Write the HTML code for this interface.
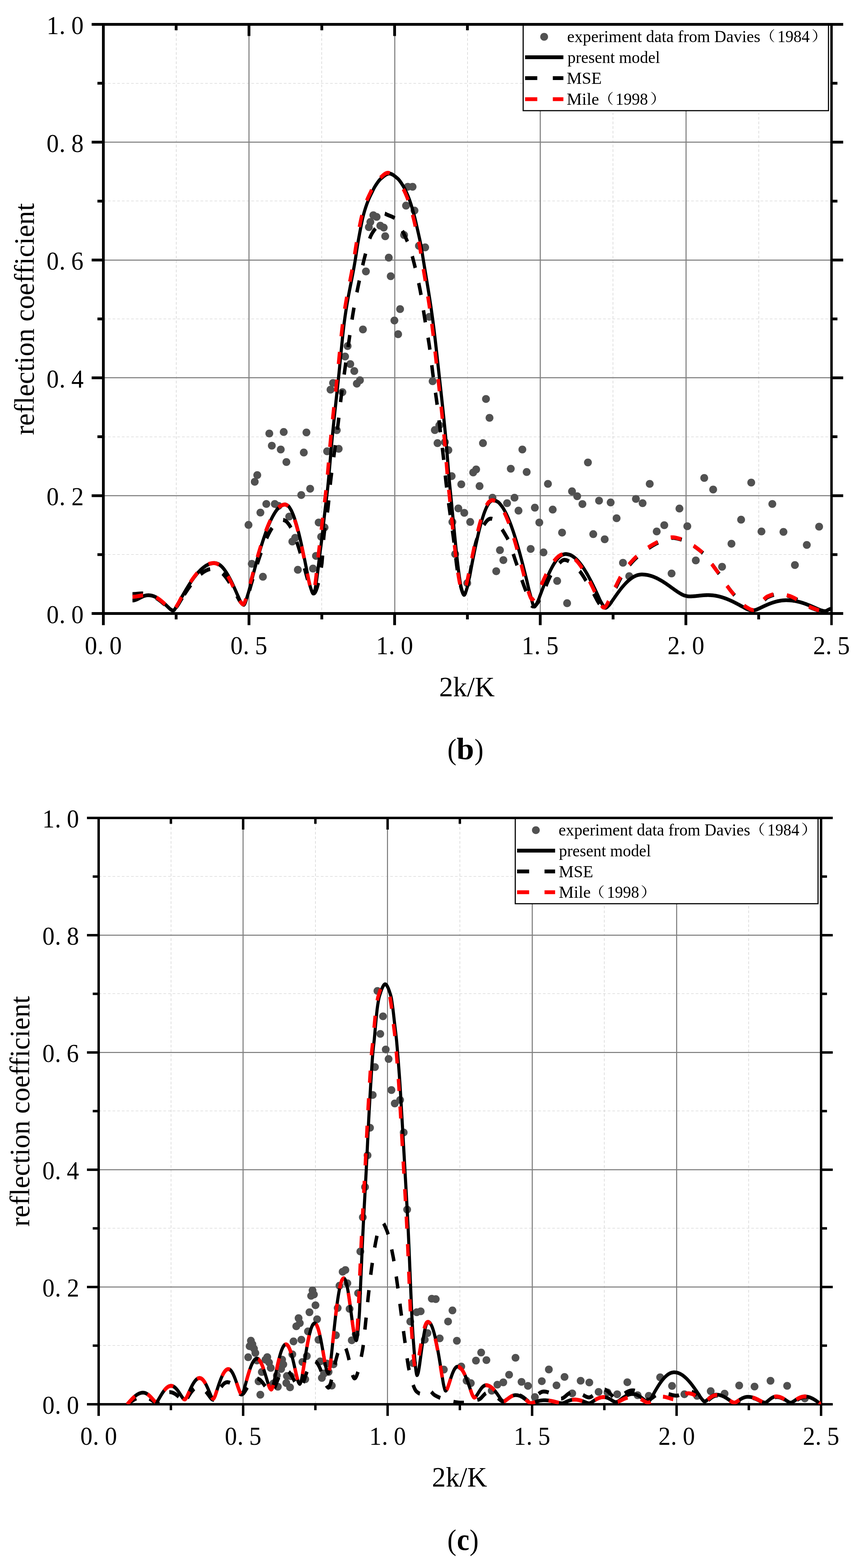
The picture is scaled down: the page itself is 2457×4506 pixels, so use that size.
<!DOCTYPE html>
<html lang="en">
<head>
<meta charset="utf-8">
<title>Reflection coefficient versus 2k/K</title>
<style>
html,body{margin:0;padding:0;background:#fff;}
body{width:2457px;height:4506px;overflow:hidden;}
svg{display:block;}
svg text{font-family:"Liberation Serif","Noto Serif CJK SC",serif;fill:#000;}
</style>
</head>
<body>
<svg width="2457" height="4506" viewBox="0 0 2457 4506">
<rect width="2457" height="4506" fill="#fff"/>
<g id="panel-b">
<clipPath id="cb"><rect x="297.0" y="70.0" width="2092.5" height="1693.0"/></clipPath>
<path d="M506.5 70.0V1763.0M924.5 70.0V1763.0M1343.5 70.0V1763.0M1761.5 70.0V1763.0M2180.5 70.0V1763.0M297.0 1593.5H2389.5M297.0 1255.5H2389.5M297.0 916.5H2389.5M297.0 577.5H2389.5M297.0 239.5H2389.5" stroke="#c3c3c3" stroke-width="1.2" stroke-dasharray="7.6 5.7" fill="none"/>
<path d="M715.5 70.0V1763.0M1134.5 70.0V1763.0M1552.5 70.0V1763.0M1971.5 70.0V1763.0M297.0 1424.5H2389.5M297.0 1085.5H2389.5M297.0 747.5H2389.5M297.0 408.5H2389.5" stroke="#808080" stroke-width="3" fill="none"/>
<g fill="#515151"><circle cx="823.0" cy="1327.8" r="11.3"/><circle cx="739.3" cy="1365.3" r="11.3"/><circle cx="732.0" cy="1384.6" r="11.3"/><circle cx="891.3" cy="1404.6" r="11.3"/><circle cx="865.7" cy="1422.6" r="11.3"/><circle cx="765.3" cy="1448.2" r="11.3"/><circle cx="789.7" cy="1448.2" r="11.3"/><circle cx="800.4" cy="1453.7" r="11.3"/><circle cx="748.3" cy="1473.0" r="11.3"/><circle cx="714.1" cy="1508.4" r="11.3"/><circle cx="831.1" cy="1484.5" r="11.3"/><circle cx="915.7" cy="1501.6" r="11.3"/><circle cx="932.7" cy="1515.7" r="11.3"/><circle cx="848.2" cy="1545.5" r="11.3"/><circle cx="840.1" cy="1556.2" r="11.3"/><circle cx="922.9" cy="1542.6" r="11.3"/><circle cx="908.0" cy="1597.6" r="11.3"/><circle cx="723.5" cy="1620.3" r="11.3"/><circle cx="855.9" cy="1637.4" r="11.3"/><circle cx="899.4" cy="1633.9" r="11.3"/><circle cx="755.5" cy="1657.4" r="11.3"/><circle cx="1149.7" cy="888.3" r="11.3"/><circle cx="1133.4" cy="921.1" r="11.3"/><circle cx="1233.8" cy="910.5" r="11.3"/><circle cx="1042.9" cy="946.8" r="11.3"/><circle cx="1144.1" cy="960.4" r="11.3"/><circle cx="998.9" cy="994.6" r="11.3"/><circle cx="991.7" cy="1024.5" r="11.3"/><circle cx="1006.6" cy="1046.3" r="11.3"/><circle cx="1018.1" cy="1066.3" r="11.3"/><circle cx="1034.4" cy="1092.8" r="11.3"/><circle cx="1025.4" cy="1102.6" r="11.3"/><circle cx="957.1" cy="1100.5" r="11.3"/><circle cx="949.8" cy="1119.7" r="11.3"/><circle cx="984.0" cy="1127.0" r="11.3"/><circle cx="1243.2" cy="1095.4" r="11.3"/><circle cx="773.9" cy="1245.7" r="11.3"/><circle cx="815.3" cy="1241.4" r="11.3"/><circle cx="880.6" cy="1242.7" r="11.3"/><circle cx="967.8" cy="1236.3" r="11.3"/><circle cx="781.1" cy="1280.7" r="11.3"/><circle cx="806.8" cy="1291.8" r="11.3"/><circle cx="873.0" cy="1300.4" r="11.3"/><circle cx="940.0" cy="1296.9" r="11.3"/><circle cx="973.3" cy="1289.7" r="11.3"/><circle cx="1262.4" cy="1222.2" r="11.3"/><circle cx="1249.6" cy="1235.9" r="11.3"/><circle cx="1257.3" cy="1273.4" r="11.3"/><circle cx="1278.6" cy="1270.5" r="11.3"/><circle cx="1288.5" cy="1293.5" r="11.3"/><circle cx="1171.9" cy="536.7" r="11.3"/><circle cx="1185.6" cy="536.7" r="11.3"/><circle cx="1166.8" cy="590.9" r="11.3"/><circle cx="1191.1" cy="605.0" r="11.3"/><circle cx="1072.8" cy="618.6" r="11.3"/><circle cx="1082.2" cy="623.3" r="11.3"/><circle cx="1064.3" cy="637.9" r="11.3"/><circle cx="1060.0" cy="652.8" r="11.3"/><circle cx="1092.9" cy="648.5" r="11.3"/><circle cx="1102.7" cy="654.1" r="11.3"/><circle cx="1107.0" cy="678.9" r="11.3"/><circle cx="1161.2" cy="675.4" r="11.3"/><circle cx="1203.9" cy="706.6" r="11.3"/><circle cx="1221.8" cy="710.9" r="11.3"/><circle cx="1117.2" cy="740.4" r="11.3"/><circle cx="1051.5" cy="780.1" r="11.3"/><circle cx="1122.8" cy="793.7" r="11.3"/><circle cx="1689.5" cy="1329.0" r="11.3"/><circle cx="1368.3" cy="1349.1" r="11.3"/><circle cx="1359.8" cy="1357.7" r="11.3"/><circle cx="1467.8" cy="1347.0" r="11.3"/><circle cx="1513.5" cy="1356.4" r="11.3"/><circle cx="1297.9" cy="1368.3" r="11.3"/><circle cx="1325.6" cy="1391.8" r="11.3"/><circle cx="1378.1" cy="1396.9" r="11.3"/><circle cx="1574.6" cy="1390.5" r="11.3"/><circle cx="1867.1" cy="1390.5" r="11.3"/><circle cx="1643.8" cy="1411.9" r="11.3"/><circle cx="1658.7" cy="1426.0" r="11.3"/><circle cx="1415.3" cy="1430.2" r="11.3"/><circle cx="1478.5" cy="1430.2" r="11.3"/><circle cx="1457.2" cy="1446.0" r="11.3"/><circle cx="1673.7" cy="1448.6" r="11.3"/><circle cx="1721.5" cy="1438.8" r="11.3"/><circle cx="1754.8" cy="1443.9" r="11.3"/><circle cx="1827.4" cy="1433.7" r="11.3"/><circle cx="1846.6" cy="1446.0" r="11.3"/><circle cx="1317.1" cy="1461.0" r="11.3"/><circle cx="1334.2" cy="1473.8" r="11.3"/><circle cx="1490.0" cy="1467.4" r="11.3"/><circle cx="1537.0" cy="1458.9" r="11.3"/><circle cx="1588.3" cy="1464.4" r="11.3"/><circle cx="1771.9" cy="1489.2" r="11.3"/><circle cx="1351.2" cy="1499.9" r="11.3"/><circle cx="1300.0" cy="1500.0" r="11.3"/><circle cx="1549.8" cy="1501.6" r="11.3"/><circle cx="1615.2" cy="1530.6" r="11.3"/><circle cx="1704.8" cy="1534.9" r="11.3"/><circle cx="1737.7" cy="1549.8" r="11.3"/><circle cx="1887.2" cy="1527.2" r="11.3"/><circle cx="1436.7" cy="1581.0" r="11.3"/><circle cx="1525.0" cy="1577.6" r="11.3"/><circle cx="1561.8" cy="1587.4" r="11.3"/><circle cx="1308.0" cy="1592.3" r="11.3"/><circle cx="1446.5" cy="1609.6" r="11.3"/><circle cx="1790.2" cy="1617.3" r="11.3"/><circle cx="1426.0" cy="1641.6" r="11.3"/><circle cx="1601.1" cy="1669.4" r="11.3"/><circle cx="1342.7" cy="1675.8" r="11.3"/><circle cx="1808.2" cy="1655.7" r="11.3"/><circle cx="1629.7" cy="1733.4" r="11.3"/><circle cx="1396.5" cy="1146.6" r="11.3"/><circle cx="1406.7" cy="1200.8" r="11.3"/><circle cx="1387.9" cy="1273.4" r="11.3"/><circle cx="1501.1" cy="1291.8" r="11.3"/><circle cx="2023.8" cy="1373.5" r="11.3"/><circle cx="2049.4" cy="1406.8" r="11.3"/><circle cx="2158.8" cy="1386.7" r="11.3"/><circle cx="1952.5" cy="1461.4" r="11.3"/><circle cx="2219.4" cy="1448.2" r="11.3"/><circle cx="2129.7" cy="1493.4" r="11.3"/><circle cx="1908.9" cy="1509.2" r="11.3"/><circle cx="1975.1" cy="1512.2" r="11.3"/><circle cx="2188.2" cy="1527.2" r="11.3"/><circle cx="2251.4" cy="1528.5" r="11.3"/><circle cx="2353.9" cy="1513.5" r="11.3"/><circle cx="2102.0" cy="1562.6" r="11.3"/><circle cx="2318.5" cy="1566.0" r="11.3"/><circle cx="1999.5" cy="1610.5" r="11.3"/><circle cx="2075.0" cy="1628.8" r="11.3"/><circle cx="2284.3" cy="1623.7" r="11.3"/><circle cx="1929.9" cy="1648.0" r="11.3"/></g>
<path d="M263.4 1763.0H2423.1M297.0 70.0V1796.6M280.0 1593.7H297.0M2389.5 1593.7H2406.5M263.4 1424.4H297.0M2389.5 1424.4H2423.1M280.0 1255.1H297.0M2389.5 1255.1H2406.5M263.4 1085.8H297.0M2389.5 1085.8H2423.1M280.0 916.5H297.0M2389.5 916.5H2406.5M263.4 747.2H297.0M2389.5 747.2H2423.1M280.0 577.9H297.0M2389.5 577.9H2406.5M263.4 408.6H297.0M2389.5 408.6H2423.1M280.0 239.3H297.0M2389.5 239.3H2406.5M506.2 1763.0V1780.0M506.2 70.0V87.0M715.5 1763.0V1796.6M715.5 70.0V103.6M924.8 1763.0V1780.0M924.8 70.0V87.0M1134.0 1763.0V1796.6M1134.0 70.0V103.6M1343.2 1763.0V1780.0M1343.2 70.0V87.0M1552.5 1763.0V1796.6M1552.5 70.0V103.6M1761.8 1763.0V1780.0M1761.8 70.0V87.0M1971.0 1763.0V1796.6M1971.0 70.0V103.6M2180.2 1763.0V1780.0M2180.2 70.0V87.0" stroke="#000" stroke-width="8.0" fill="none"/>
<path d="M2389.5 70.0V1796.6" stroke="#000" stroke-width="7" fill="none"/>
<g clip-path="url(#cb)" fill="none" stroke-linejoin="round">
<path transform="scale(0.84,1)" d="M453.21 1725.75 454.81 1725.70 456.40 1725.56 458.00 1725.39 459.60 1725.16 461.19 1724.82 462.79 1724.40 464.38 1723.95 465.98 1723.45 467.57 1722.88 469.17 1722.27 470.76 1721.65 472.36 1720.99 473.95 1720.30 475.55 1719.61 477.14 1718.91 478.74 1718.20 480.34 1717.51 481.93 1716.82 483.53 1716.15 485.12 1715.49 486.72 1714.87 488.31 1714.27 489.91 1713.71 491.50 1713.19 493.10 1712.70 494.69 1712.25 496.29 1711.86 497.88 1711.52 499.48 1711.20 501.07 1710.95 502.67 1710.79 504.27 1710.66 505.86 1710.56 507.46 1710.52 509.05 1710.55 510.65 1710.63 512.24 1710.76 513.84 1710.91 515.43 1711.08 517.03 1711.28 518.62 1711.56 520.22 1711.90 521.81 1712.30 523.41 1712.72 525.01 1713.17 526.60 1713.66 528.20 1714.21 529.79 1714.80 531.39 1715.43 532.98 1716.09 534.58 1716.78 536.17 1717.53 537.77 1718.32 539.36 1719.14 540.96 1719.99 542.55 1720.87 544.15 1721.79 545.74 1722.75 547.34 1723.75 548.94 1724.77 550.53 1725.81 552.13 1726.89 553.72 1728.00 555.32 1729.14 556.91 1730.30 558.51 1731.48 560.10 1732.68 561.70 1733.91 563.29 1735.16 564.89 1736.43 566.48 1737.70 568.08 1738.97 569.67 1740.28 571.27 1741.59 572.87 1742.90 574.46 1744.19 576.06 1745.45 577.65 1746.77 579.25 1748.09 580.84 1749.35 582.44 1750.47 584.03 1751.38 585.63 1752.22 587.22 1753.05 588.82 1753.76 590.41 1754.29 592.01 1754.53 593.61 1754.31 595.20 1753.45 596.80 1752.06 598.39 1750.26 599.99 1748.16 601.58 1745.87 603.18 1743.51 604.77 1741.18 606.37 1739.01 607.96 1736.91 609.56 1734.66 611.15 1732.30 612.75 1729.86 614.34 1727.36 615.94 1724.84 617.54 1722.33 619.13 1719.86 620.73 1717.45 622.32 1715.09 623.92 1712.72 625.51 1710.36 627.11 1708.01 628.70 1705.66 630.30 1703.34 631.89 1701.03 633.49 1698.75 635.08 1696.49 636.68 1694.26 638.27 1692.03 639.87 1689.82 641.47 1687.63 643.06 1685.47 644.66 1683.32 646.25 1681.21 647.85 1679.12 649.44 1677.07 651.04 1675.04 652.63 1673.03 654.23 1671.04 655.82 1669.08 657.42 1667.14 659.01 1665.24 660.61 1663.37 662.21 1661.54 663.80 1659.75 665.40 1657.98 666.99 1656.24 668.59 1654.53 670.18 1652.84 671.78 1651.19 673.37 1649.58 674.97 1648.01 676.56 1646.48 678.16 1645.00 679.75 1643.54 681.35 1642.11 682.94 1640.72 684.54 1639.35 686.14 1638.03 687.73 1636.74 689.33 1635.51 690.92 1634.33 692.52 1633.20 694.11 1632.10 695.71 1631.01 697.30 1629.96 698.90 1628.95 700.49 1627.98 702.09 1627.06 703.68 1626.20 705.28 1625.41 706.87 1624.66 708.47 1623.93 710.07 1623.22 711.66 1622.53 713.26 1621.88 714.85 1621.29 716.45 1620.76 718.04 1620.30 719.64 1619.93 721.23 1619.63 722.83 1619.34 724.42 1619.06 726.02 1618.80 727.61 1618.57 729.21 1618.37 730.81 1618.22 732.40 1618.12 734.00 1618.08 735.59 1618.13 737.19 1618.29 738.78 1618.54 740.38 1618.87 741.97 1619.25 743.57 1619.65 745.16 1620.11 746.76 1620.72 748.35 1621.48 749.95 1622.36 751.54 1623.31 753.14 1624.32 754.74 1625.35 756.33 1626.49 757.93 1627.75 759.52 1629.11 761.12 1630.54 762.71 1632.04 764.31 1633.58 765.90 1635.21 767.50 1636.94 769.09 1638.76 770.69 1640.65 772.28 1642.61 773.88 1644.61 775.47 1646.68 777.07 1648.84 778.67 1651.07 780.26 1653.38 781.86 1655.74 783.45 1658.15 785.05 1660.60 786.64 1663.13 788.24 1665.72 789.83 1668.37 791.43 1671.07 793.02 1673.80 794.62 1676.56 796.21 1679.38 797.81 1682.25 799.41 1685.16 801.00 1688.10 802.60 1691.05 804.19 1694.00 805.79 1697.00 807.38 1700.04 808.98 1703.09 810.57 1706.13 812.17 1709.13 813.76 1712.06 815.36 1715.01 816.95 1718.07 818.55 1721.11 820.14 1724.01 821.74 1726.65 823.34 1728.90 824.93 1730.78 826.53 1732.68 828.12 1734.49 829.72 1736.07 831.31 1737.28 832.91 1737.99 834.50 1738.00 836.10 1736.86 837.69 1734.63 839.29 1731.54 840.88 1727.79 842.48 1723.57 844.07 1719.09 845.67 1714.57 847.27 1710.19 848.86 1706.05 850.46 1701.59 852.05 1696.79 853.65 1691.73 855.24 1686.49 856.84 1681.15 858.43 1675.78 860.03 1670.46 861.62 1665.28 863.22 1660.25 864.81 1655.22 866.41 1650.18 868.01 1645.15 869.60 1640.13 871.20 1635.13 872.79 1630.17 874.39 1625.26 875.98 1620.40 877.58 1615.60 879.17 1610.82 880.77 1606.07 882.36 1601.35 883.96 1596.68 885.55 1592.05 887.15 1587.48 888.74 1582.98 890.34 1578.54 891.94 1574.16 893.53 1569.82 895.13 1565.53 896.72 1561.28 898.32 1557.10 899.91 1552.97 901.51 1548.92 903.10 1544.95 904.70 1541.07 906.29 1537.25 907.89 1533.48 909.48 1529.76 911.08 1526.11 912.67 1522.52 914.27 1519.02 915.87 1515.60 917.46 1512.27 919.06 1509.05 920.65 1505.90 922.25 1502.80 923.84 1499.76 925.44 1496.79 927.03 1493.90 928.63 1491.10 930.22 1488.40 931.82 1485.81 933.41 1483.34 935.01 1480.94 936.61 1478.59 938.20 1476.30 939.80 1474.08 941.39 1471.95 942.99 1469.93 944.58 1468.02 946.18 1466.25 947.77 1464.62 949.37 1463.03 950.96 1461.47 952.56 1459.96 954.15 1458.53 955.75 1457.21 957.34 1456.00 958.94 1454.95 960.54 1454.08 962.13 1453.39 963.73 1452.75 965.32 1452.14 966.92 1451.56 968.51 1451.04 970.11 1450.58 971.70 1450.22 973.30 1449.96 974.89 1449.82 976.49 1449.83 978.08 1450.10 979.68 1450.61 981.27 1451.29 982.87 1452.11 984.47 1453.01 986.06 1453.97 987.66 1455.29 989.25 1456.96 990.85 1458.90 992.44 1461.02 994.04 1463.27 995.63 1465.58 997.23 1468.14 998.82 1470.97 1000.42 1474.02 1002.01 1477.25 1003.61 1480.62 1005.21 1484.09 1006.80 1487.79 1008.40 1491.71 1009.99 1495.83 1011.59 1500.11 1013.18 1504.52 1014.78 1509.04 1016.37 1513.76 1017.97 1518.66 1019.56 1523.74 1021.16 1528.95 1022.75 1534.28 1024.35 1539.70 1025.94 1545.28 1027.54 1551.02 1029.14 1556.90 1030.73 1562.89 1032.33 1568.95 1033.92 1575.08 1035.52 1581.34 1037.11 1587.72 1038.71 1594.19 1040.30 1600.71 1041.90 1607.27 1043.49 1613.82 1045.09 1620.47 1046.68 1627.21 1048.28 1633.97 1049.87 1640.67 1051.47 1647.24 1053.07 1653.64 1054.66 1660.23 1056.26 1666.95 1057.85 1673.50 1059.45 1679.58 1061.04 1684.91 1062.64 1689.21 1064.23 1693.27 1065.83 1697.24 1067.42 1700.80 1069.02 1703.64 1070.61 1705.46 1072.21 1705.91 1073.81 1704.59 1075.40 1701.50 1077.00 1696.83 1078.59 1690.74 1080.19 1683.41 1081.78 1675.01 1083.38 1665.72 1084.97 1655.72 1086.57 1645.16 1088.16 1634.24 1089.76 1623.11 1091.35 1611.96 1092.95 1600.97 1094.54 1590.29 1096.14 1580.12 1097.74 1570.11 1099.33 1559.48 1100.93 1548.33 1102.52 1536.78 1104.12 1524.95 1105.71 1512.96 1107.31 1500.94 1108.90 1489.00 1110.50 1477.27 1112.09 1465.87 1113.69 1454.80 1115.28 1443.86 1116.88 1432.84 1118.47 1421.52 1120.07 1409.68 1121.67 1397.09 1123.26 1383.56 1124.86 1369.21 1126.45 1354.24 1128.05 1338.85 1129.64 1323.23 1131.24 1307.58 1132.83 1292.11 1134.43 1277.00 1136.02 1262.46 1137.62 1248.62 1139.21 1235.15 1140.81 1221.93 1142.41 1208.94 1144.00 1196.14 1145.60 1183.49 1147.19 1170.96 1148.79 1158.51 1150.38 1146.12 1151.98 1133.73 1153.57 1121.33 1155.17 1108.87 1156.76 1096.32 1158.36 1083.63 1159.95 1070.63 1161.55 1057.28 1163.14 1043.70 1164.74 1029.98 1166.34 1016.24 1167.93 1002.58 1169.53 989.09 1171.12 975.89 1172.72 963.08 1174.31 950.76 1175.91 939.04 1177.50 928.02 1179.10 917.80 1180.69 908.30 1182.29 899.21 1183.88 890.50 1185.48 882.14 1187.07 874.08 1188.67 866.31 1190.27 858.79 1191.86 851.47 1193.46 844.34 1195.05 837.35 1196.65 830.47 1198.24 823.67 1199.84 816.92 1201.43 810.18 1203.03 803.42 1204.62 796.60 1206.22 789.70 1207.81 782.68 1209.41 775.50 1211.01 768.13 1212.60 760.55 1214.20 752.71 1215.79 744.56 1217.39 735.92 1218.98 726.99 1220.58 718.06 1222.17 709.42 1223.77 701.31 1225.36 693.50 1226.96 685.91 1228.55 678.51 1230.15 671.31 1231.74 664.28 1233.34 657.36 1234.94 650.43 1236.53 643.58 1238.13 636.93 1239.72 630.59 1241.32 624.67 1242.91 619.29 1244.51 614.32 1246.10 609.57 1247.70 605.03 1249.29 600.69 1250.89 596.53 1252.48 592.53 1254.08 588.69 1255.67 584.98 1257.27 581.39 1258.87 577.91 1260.46 574.55 1262.06 571.36 1263.65 568.31 1265.25 565.39 1266.84 562.55 1268.44 559.78 1270.03 557.02 1271.63 554.26 1273.22 551.49 1274.82 548.71 1276.41 545.97 1278.01 543.28 1279.61 540.69 1281.20 538.21 1282.80 535.88 1284.39 533.72 1285.99 531.64 1287.58 529.60 1289.18 527.60 1290.77 525.66 1292.37 523.77 1293.96 521.95 1295.56 520.22 1297.15 518.57 1298.75 517.01 1300.34 515.57 1301.94 514.23 1303.54 513.02 1305.13 511.91 1306.73 510.78 1308.32 509.65 1309.92 508.53 1311.51 507.43 1313.11 506.35 1314.70 505.31 1316.30 504.31 1317.89 503.37 1319.49 502.49 1321.08 501.68 1322.68 500.95 1324.27 500.32 1325.87 499.78 1327.47 499.36 1329.06 499.05 1330.66 498.88 1332.25 498.84 1333.85 498.94 1335.44 499.18 1337.04 499.53 1338.63 500.00 1340.23 500.58 1341.82 501.25 1343.42 502.00 1345.01 502.84 1346.61 503.74 1348.21 504.70 1349.80 505.72 1351.40 506.77 1352.99 507.86 1354.59 508.98 1356.18 510.10 1357.78 511.24 1359.37 512.37 1360.97 513.53 1362.56 514.84 1364.16 516.28 1365.75 517.85 1367.35 519.54 1368.94 521.32 1370.54 523.20 1372.14 525.16 1373.73 527.18 1375.33 529.26 1376.92 531.38 1378.52 533.54 1380.11 535.75 1381.71 538.12 1383.30 540.63 1384.90 543.27 1386.49 546.01 1388.09 548.84 1389.68 551.74 1391.28 554.69 1392.88 557.70 1394.47 560.81 1396.07 564.02 1397.66 567.37 1399.26 570.84 1400.85 574.46 1402.45 578.23 1404.04 582.16 1405.64 586.25 1407.23 590.48 1408.83 594.85 1410.42 599.36 1412.02 603.99 1413.61 608.74 1415.21 613.61 1416.81 618.58 1418.40 623.71 1420.00 629.11 1421.59 634.71 1423.19 640.48 1424.78 646.36 1426.38 652.32 1427.97 658.30 1429.57 664.26 1431.16 670.16 1432.76 676.05 1434.35 682.02 1435.95 688.15 1437.54 694.52 1439.14 701.21 1440.74 708.33 1442.33 716.08 1443.93 724.28 1445.52 732.74 1447.12 741.25 1448.71 749.61 1450.31 757.83 1451.90 765.98 1453.50 774.07 1455.09 782.12 1456.69 790.15 1458.28 798.18 1459.88 806.22 1461.48 814.29 1463.07 822.41 1464.67 830.60 1466.26 838.88 1467.86 847.26 1469.45 855.75 1471.05 864.39 1472.64 873.19 1474.24 882.16 1475.83 891.32 1477.43 900.69 1479.02 910.29 1480.62 920.15 1482.21 930.36 1483.81 940.91 1485.41 951.78 1487.00 962.92 1488.60 974.32 1490.19 985.93 1491.79 997.73 1493.38 1009.68 1494.98 1021.75 1496.57 1033.91 1498.17 1046.13 1499.76 1058.37 1501.36 1070.60 1502.95 1082.78 1504.55 1094.91 1506.14 1107.02 1507.74 1119.15 1509.34 1131.31 1510.93 1143.54 1512.53 1155.87 1514.12 1168.32 1515.72 1180.93 1517.31 1193.73 1518.91 1206.74 1520.50 1219.99 1522.10 1233.51 1523.69 1247.33 1525.29 1261.57 1526.88 1276.83 1528.48 1292.95 1530.08 1309.61 1531.67 1326.49 1533.27 1343.29 1534.86 1359.68 1536.46 1375.36 1538.05 1390.00 1539.65 1403.33 1541.24 1416.38 1542.84 1429.69 1544.43 1443.20 1546.03 1456.88 1547.62 1470.66 1549.22 1484.51 1550.81 1498.37 1552.41 1512.20 1554.01 1525.95 1555.60 1539.56 1557.20 1553.00 1558.79 1566.20 1560.39 1579.13 1561.98 1591.74 1563.58 1603.97 1565.17 1615.77 1566.77 1627.11 1568.36 1637.93 1569.96 1648.18 1571.55 1657.82 1573.15 1666.79 1574.74 1675.05 1576.34 1682.55 1577.94 1689.23 1579.53 1695.06 1581.13 1699.99 1582.72 1703.95 1584.32 1706.92 1585.91 1708.83 1587.51 1709.64 1589.10 1709.17 1590.70 1707.25 1592.29 1704.21 1593.89 1700.39 1595.48 1696.10 1597.08 1691.68 1598.68 1687.23 1600.27 1681.84 1601.87 1675.65 1603.46 1668.91 1605.06 1661.93 1606.65 1654.98 1608.25 1648.30 1609.84 1641.59 1611.44 1634.75 1613.03 1627.84 1614.63 1620.92 1616.22 1614.05 1617.82 1607.29 1619.41 1600.60 1621.01 1593.92 1622.61 1587.28 1624.20 1580.71 1625.80 1574.25 1627.39 1567.91 1628.99 1561.68 1630.58 1555.53 1632.18 1549.46 1633.77 1543.50 1635.37 1537.67 1636.96 1532.00 1638.56 1526.49 1640.15 1521.08 1641.75 1515.78 1643.34 1510.61 1644.94 1505.60 1646.54 1500.78 1648.13 1496.16 1649.73 1491.66 1651.32 1487.27 1652.92 1483.04 1654.51 1478.98 1656.11 1475.14 1657.70 1471.53 1659.30 1468.07 1660.89 1464.72 1662.49 1461.52 1664.08 1458.51 1665.68 1455.73 1667.28 1453.23 1668.87 1450.93 1670.47 1448.68 1672.06 1446.56 1673.66 1444.65 1675.25 1443.01 1676.85 1441.71 1678.44 1440.75 1680.04 1439.84 1681.63 1439.02 1683.23 1438.32 1684.82 1437.79 1686.42 1437.49 1688.01 1437.45 1689.61 1437.58 1691.21 1437.84 1692.80 1438.21 1694.40 1438.68 1695.99 1439.22 1697.59 1439.82 1699.18 1440.47 1700.78 1441.14 1702.37 1441.85 1703.97 1442.76 1705.56 1443.86 1707.16 1445.11 1708.75 1446.51 1710.35 1448.01 1711.94 1449.59 1713.54 1451.23 1715.14 1452.90 1716.73 1454.62 1718.33 1456.48 1719.92 1458.49 1721.52 1460.62 1723.11 1462.86 1724.71 1465.20 1726.30 1467.61 1727.90 1470.09 1729.49 1472.61 1731.09 1475.22 1732.68 1477.96 1734.28 1480.81 1735.88 1483.76 1737.47 1486.81 1739.07 1489.94 1740.66 1493.15 1742.26 1496.42 1743.85 1499.74 1745.45 1503.15 1747.04 1506.67 1748.64 1510.28 1750.23 1513.99 1751.83 1517.78 1753.42 1521.64 1755.02 1525.56 1756.61 1529.54 1758.21 1533.57 1759.81 1537.68 1761.40 1541.88 1763.00 1546.17 1764.59 1550.53 1766.19 1554.95 1767.78 1559.44 1769.38 1563.98 1770.97 1568.56 1772.57 1573.19 1774.16 1577.89 1775.76 1582.66 1777.35 1587.50 1778.95 1592.40 1780.54 1597.35 1782.14 1602.34 1783.74 1607.37 1785.33 1612.43 1786.93 1617.52 1788.52 1622.67 1790.12 1627.88 1791.71 1633.14 1793.31 1638.44 1794.90 1643.76 1796.50 1649.11 1798.09 1654.46 1799.69 1659.81 1801.28 1665.23 1802.88 1670.82 1804.48 1676.50 1806.07 1682.20 1807.67 1687.86 1809.26 1693.40 1810.86 1698.75 1812.45 1703.83 1814.05 1708.59 1815.64 1713.44 1817.24 1718.64 1818.83 1723.93 1820.43 1729.07 1822.02 1733.78 1823.62 1737.82 1825.21 1740.93 1826.81 1742.85 1828.41 1743.34 1830.00 1742.68 1831.60 1741.22 1833.19 1739.16 1834.79 1736.69 1836.38 1734.02 1837.98 1731.32 1839.57 1728.71 1841.17 1725.74 1842.76 1722.42 1844.36 1718.85 1845.95 1715.16 1847.55 1711.45 1849.14 1707.85 1850.74 1704.37 1852.34 1700.86 1853.93 1697.32 1855.53 1693.79 1857.12 1690.27 1858.72 1686.79 1860.31 1683.37 1861.91 1679.98 1863.50 1676.61 1865.10 1673.26 1866.69 1669.95 1868.29 1666.69 1869.88 1663.49 1871.48 1660.35 1873.08 1657.25 1874.67 1654.19 1876.27 1651.18 1877.86 1648.23 1879.46 1645.34 1881.05 1642.52 1882.65 1639.78 1884.24 1637.09 1885.84 1634.45 1887.43 1631.87 1889.03 1629.36 1890.62 1626.93 1892.22 1624.60 1893.81 1622.34 1895.41 1620.14 1897.01 1617.99 1898.60 1615.92 1900.20 1613.93 1901.79 1612.04 1903.39 1610.26 1904.98 1608.55 1906.58 1606.89 1908.17 1605.29 1909.77 1603.78 1911.36 1602.38 1912.96 1601.09 1914.55 1599.93 1916.15 1598.80 1917.74 1597.71 1919.34 1596.69 1920.94 1595.78 1922.53 1595.00 1924.13 1594.39 1925.72 1593.92 1927.32 1593.48 1928.91 1593.06 1930.51 1592.71 1932.10 1592.43 1933.70 1592.24 1935.29 1592.18 1936.89 1592.22 1938.48 1592.34 1940.08 1592.52 1941.68 1592.76 1943.27 1593.05 1944.87 1593.37 1946.46 1593.72 1948.06 1594.08 1949.65 1594.46 1951.25 1594.95 1952.84 1595.54 1954.44 1596.23 1956.03 1596.99 1957.63 1597.81 1959.22 1598.67 1960.82 1599.56 1962.41 1600.47 1964.01 1601.42 1965.61 1602.45 1967.20 1603.57 1968.80 1604.74 1970.39 1605.98 1971.99 1607.27 1973.58 1608.59 1975.18 1609.95 1976.77 1611.34 1978.37 1612.79 1979.96 1614.31 1981.56 1615.90 1983.15 1617.53 1984.75 1619.22 1986.34 1620.95 1987.94 1622.71 1989.54 1624.51 1991.13 1626.35 1992.73 1628.25 1994.32 1630.21 1995.92 1632.21 1997.51 1634.26 1999.11 1636.35 2000.70 1638.48 2002.30 1640.64 2003.89 1642.82 2005.49 1645.06 2007.08 1647.34 2008.68 1649.67 2010.28 1652.04 2011.87 1654.45 2013.47 1656.88 2015.06 1659.34 2016.66 1661.82 2018.25 1664.34 2019.85 1666.90 2021.44 1669.49 2023.04 1672.12 2024.63 1674.78 2026.23 1677.46 2027.82 1680.16 2029.42 1682.87 2031.01 1685.60 2032.61 1688.36 2034.21 1691.15 2035.80 1693.97 2037.40 1696.81 2038.99 1699.65 2040.59 1702.50 2042.18 1705.33 2043.78 1708.15 2045.37 1711.04 2046.97 1714.02 2048.56 1717.03 2050.16 1720.04 2051.75 1722.99 2053.35 1725.81 2054.94 1728.47 2056.54 1730.90 2058.14 1733.13 2059.73 1735.47 2061.33 1737.86 2062.92 1740.18 2064.52 1742.33 2066.11 1744.20 2067.71 1745.66 2069.30 1746.60 2070.90 1746.92 2072.49 1746.70 2074.09 1746.13 2075.68 1745.28 2077.28 1744.21 2078.88 1742.99 2080.47 1741.68 2082.07 1740.35 2083.66 1739.06 2085.26 1737.62 2086.85 1735.97 2088.45 1734.16 2090.04 1732.24 2091.64 1730.26 2093.23 1728.26 2094.83 1726.30 2096.42 1724.42 2098.02 1722.52 2099.61 1720.60 2101.21 1718.67 2102.81 1716.73 2104.40 1714.80 2106.00 1712.87 2107.59 1710.97 2109.19 1709.10 2110.78 1707.24 2112.38 1705.38 2113.97 1703.53 2115.57 1701.69 2117.16 1699.88 2118.76 1698.09 2120.35 1696.33 2121.95 1694.60 2123.54 1692.89 2125.14 1691.19 2126.74 1689.51 2128.33 1687.86 2129.93 1686.24 2131.52 1684.65 2133.12 1683.11 2134.71 1681.59 2136.31 1680.09 2137.90 1678.62 2139.50 1677.17 2141.09 1675.76 2142.69 1674.38 2144.28 1673.05 2145.88 1671.76 2147.48 1670.51 2149.07 1669.28 2150.67 1668.07 2152.26 1666.90 2153.86 1665.77 2155.45 1664.68 2157.05 1663.64 2158.64 1662.65 2160.24 1661.70 2161.83 1660.76 2163.43 1659.86 2165.02 1658.99 2166.62 1658.17 2168.21 1657.40 2169.81 1656.69 2171.41 1656.04 2173.00 1655.41 2174.60 1654.79 2176.19 1654.20 2177.79 1653.66 2179.38 1653.17 2180.98 1652.74 2182.57 1652.40 2184.17 1652.13 2185.76 1651.88 2187.36 1651.64 2188.95 1651.42 2190.55 1651.23 2192.15 1651.08 2193.74 1650.97 2195.34 1650.93 2196.93 1650.93 2198.53 1650.97 2200.12 1651.03 2201.72 1651.12 2203.31 1651.23 2204.91 1651.35 2206.50 1651.49 2208.10 1651.64 2209.69 1651.80 2211.29 1651.96 2212.88 1652.13 2214.48 1652.34 2216.08 1652.59 2217.67 1652.88 2219.27 1653.19 2220.86 1653.54 2222.46 1653.90 2224.05 1654.28 2225.65 1654.67 2227.24 1655.07 2228.84 1655.47 2230.43 1655.90 2232.03 1656.36 2233.62 1656.84 2235.22 1657.35 2236.81 1657.88 2238.41 1658.44 2240.01 1659.00 2241.60 1659.58 2243.20 1660.17 2244.79 1660.77 2246.39 1661.39 2247.98 1662.03 2249.58 1662.70 2251.17 1663.38 2252.77 1664.09 2254.36 1664.81 2255.96 1665.54 2257.55 1666.29 2259.15 1667.05 2260.75 1667.81 2262.34 1668.59 2263.94 1669.39 2265.53 1670.21 2267.13 1671.04 2268.72 1671.89 2270.32 1672.74 2271.91 1673.61 2273.51 1674.49 2275.10 1675.38 2276.70 1676.27 2278.29 1677.16 2279.89 1678.08 2281.48 1679.00 2283.08 1679.94 2284.68 1680.88 2286.27 1681.83 2287.87 1682.79 2289.46 1683.75 2291.06 1684.71 2292.65 1685.66 2294.25 1686.62 2295.84 1687.58 2297.44 1688.56 2299.03 1689.53 2300.63 1690.51 2302.22 1691.49 2303.82 1692.46 2305.41 1693.43 2307.01 1694.38 2308.61 1695.32 2310.20 1696.25 2311.80 1697.17 2313.39 1698.10 2314.99 1699.03 2316.58 1699.95 2318.18 1700.86 2319.77 1701.74 2321.37 1702.61 2322.96 1703.44 2324.56 1704.24 2326.15 1705.00 2327.75 1705.75 2329.35 1706.51 2330.94 1707.27 2332.54 1708.00 2334.13 1708.71 2335.73 1709.38 2337.32 1709.99 2338.92 1710.55 2340.51 1711.03 2342.11 1711.43 2343.70 1711.78 2345.30 1712.13 2346.89 1712.47 2348.49 1712.79 2350.08 1713.09 2351.68 1713.35 2353.28 1713.57 2354.87 1713.74 2356.47 1713.85 2358.06 1713.90 2359.66 1713.90 2361.25 1713.88 2362.85 1713.85 2364.44 1713.82 2366.04 1713.77 2367.63 1713.71 2369.23 1713.63 2370.82 1713.55 2372.42 1713.46 2374.01 1713.36 2375.61 1713.25 2377.21 1713.14 2378.80 1713.01 2380.40 1712.89 2381.99 1712.75 2383.59 1712.61 2385.18 1712.47 2386.78 1712.33 2388.37 1712.18 2389.97 1712.03 2391.56 1711.89 2393.16 1711.74 2394.75 1711.60 2396.35 1711.46 2397.95 1711.33 2399.54 1711.19 2401.14 1711.06 2402.73 1710.95 2404.33 1710.83 2405.92 1710.73 2407.52 1710.63 2409.11 1710.54 2410.71 1710.46 2412.30 1710.38 2413.90 1710.32 2415.49 1710.27 2417.09 1710.24 2418.68 1710.21 2420.28 1710.19 2421.88 1710.18 2423.47 1710.19 2425.07 1710.21 2426.66 1710.25 2428.26 1710.31 2429.85 1710.38 2431.45 1710.46 2433.04 1710.55 2434.64 1710.65 2436.23 1710.75 2437.83 1710.85 2439.42 1710.98 2441.02 1711.13 2442.61 1711.31 2444.21 1711.50 2445.81 1711.72 2447.40 1711.94 2449.00 1712.18 2450.59 1712.42 2452.19 1712.67 2453.78 1712.93 2455.38 1713.20 2456.97 1713.50 2458.57 1713.81 2460.16 1714.14 2461.76 1714.48 2463.35 1714.84 2464.95 1715.20 2466.55 1715.57 2468.14 1715.94 2469.74 1716.34 2471.33 1716.75 2472.93 1717.17 2474.52 1717.61 2476.12 1718.06 2477.71 1718.52 2479.31 1719.00 2480.90 1719.48 2482.50 1719.96 2484.09 1720.46 2485.69 1720.98 2487.28 1721.50 2488.88 1722.04 2490.48 1722.59 2492.07 1723.15 2493.67 1723.72 2495.26 1724.30 2496.86 1724.89 2498.45 1725.48 2500.05 1726.08 2501.64 1726.69 2503.24 1727.32 2504.83 1727.96 2506.43 1728.60 2508.02 1729.25 2509.62 1729.91 2511.21 1730.57 2512.81 1731.24 2514.41 1731.91 2516.00 1732.60 2517.60 1733.29 2519.19 1733.99 2520.79 1734.70 2522.38 1735.41 2523.98 1736.13 2525.57 1736.85 2527.17 1737.56 2528.76 1738.28 2530.36 1739.01 2531.95 1739.75 2533.55 1740.49 2535.15 1741.24 2536.74 1741.98 2538.34 1742.72 2539.93 1743.45 2541.53 1744.18 2543.12 1744.89 2544.72 1745.61 2546.31 1746.36 2547.91 1747.12 2549.50 1747.87 2551.10 1748.60 2552.69 1749.30 2554.29 1749.96 2555.88 1750.56 2557.48 1751.08 2559.08 1751.55 2560.67 1752.03 2562.27 1752.51 2563.86 1752.98 2565.46 1753.41 2567.05 1753.79 2568.65 1754.11 2570.24 1754.35 2571.84 1754.50 2573.43 1754.53 2575.03 1754.46 2576.62 1754.30 2578.22 1754.07 2579.81 1753.79 2581.41 1753.47 2583.01 1753.13 2584.60 1752.78 2586.20 1752.41 2587.79 1751.95 2589.39 1751.42 2590.98 1750.85 2592.58 1750.24 2594.17 1749.63 2595.77 1749.02 2597.36 1748.43 2598.96 1747.83 2600.55 1747.20 2602.15 1746.57 2603.75 1745.93 2605.34 1745.28 2606.94 1744.65 2608.53 1744.02 2610.13 1743.39 2611.72 1742.76 2613.32 1742.14 2614.91 1741.51 2616.51 1740.89 2618.10 1740.28 2619.70 1739.68 2621.29 1739.09 2622.89 1738.50 2624.48 1737.91 2626.08 1737.34 2627.68 1736.77 2629.27 1736.21 2630.87 1735.67 2632.46 1735.14 2634.06 1734.62 2635.65 1734.10 2637.25 1733.60 2638.84 1733.10 2640.44 1732.62 2642.03 1732.16 2643.63 1731.71 2645.22 1731.27 2646.82 1730.84 2648.41 1730.42 2650.01 1730.02 2651.61 1729.63 2653.20 1729.26 2654.80 1728.90 2656.39 1728.56 2657.99 1728.23 2659.58 1727.91 2661.18 1727.61 2662.77 1727.32 2664.37 1727.04 2665.96 1726.80 2667.56 1726.57 2669.15 1726.35 2670.75 1726.13 2672.35 1725.93 2673.94 1725.74 2675.54 1725.58 2677.13 1725.44 2678.73 1725.34 2680.32 1725.25 2681.92 1725.16 2683.51 1725.08 2685.11 1725.02 2686.70 1724.96 2688.30 1724.92 2689.89 1724.91 2691.49 1724.91 2693.08 1724.94 2694.68 1724.98 2696.28 1725.03 2697.87 1725.09 2699.47 1725.16 2701.06 1725.24 2702.66 1725.32 2704.25 1725.41 2705.85 1725.52 2707.44 1725.65 2709.04 1725.80 2710.63 1725.97 2712.23 1726.16 2713.82 1726.35 2715.42 1726.55 2717.01 1726.75 2718.61 1726.97 2720.21 1727.20 2721.80 1727.45 2723.40 1727.72 2724.99 1728.00 2726.59 1728.29 2728.18 1728.58 2729.78 1728.89 2731.37 1729.20 2732.97 1729.53 2734.56 1729.87 2736.16 1730.23 2737.75 1730.60 2739.35 1730.98 2740.95 1731.37 2742.54 1731.76 2744.14 1732.16 2745.73 1732.58 2747.33 1733.01 2748.92 1733.45 2750.52 1733.90 2752.11 1734.35 2753.71 1734.82 2755.30 1735.30 2756.90 1735.78 2758.49 1736.26 2760.09 1736.77 2761.68 1737.28 2763.28 1737.79 2764.88 1738.32 2766.47 1738.85 2768.07 1739.39 2769.66 1739.93 2771.26 1740.48 2772.85 1741.04 2774.45 1741.60 2776.04 1742.17 2777.64 1742.75 2779.23 1743.33 2780.83 1743.91 2782.42 1744.49 2784.02 1745.07 2785.61 1745.66 2787.21 1746.26 2788.81 1746.86 2790.40 1747.46 2792.00 1748.05 2793.59 1748.64 2795.19 1749.22 2796.78 1749.78 2798.38 1750.37 2799.97 1750.96 2801.57 1751.56 2803.16 1752.14 2804.76 1752.70 2806.35 1753.21 2807.95 1753.67 2809.55 1754.06 2811.14 1754.42 2812.74 1754.79 2814.33 1755.14 2815.93 1755.47 2817.52 1755.76 2819.12 1755.99 2820.71 1756.15 2822.31 1756.22 2823.90 1756.14 2825.50 1755.86 2827.09 1755.32 2828.69 1754.66 2830.28 1753.92 2831.88 1753.15 2833.48 1752.39 2835.07 1751.67 2836.67 1751.03 2838.26 1750.49 2839.86 1750.04 2841.45 1749.71 2843.05 1749.53 2844.64 1749.46" stroke="#000" stroke-width="10.8"/>
<g transform="scale(0.875,1)" stroke-width="11.4" stroke-dasharray="35.0 45.0">
<path d="M435.09 1707.13 436.64 1707.12 438.19 1707.09 439.75 1707.05 441.30 1706.99 442.85 1706.91 444.41 1706.82 445.96 1706.72 447.51 1706.61 449.07 1706.50 450.62 1706.37 452.17 1706.25 453.73 1706.13 455.28 1706.01 456.83 1705.90 458.39 1705.79 459.94 1705.70 461.49 1705.61 463.05 1705.55 464.60 1705.49 466.15 1705.46 467.71 1705.44 469.26 1705.44 470.81 1705.49 472.37 1705.57 473.92 1705.68 475.47 1705.82 477.03 1705.97 478.58 1706.13 480.13 1706.32 481.69 1706.58 483.24 1706.89 484.79 1707.23 486.35 1707.61 487.90 1708.00 489.45 1708.40 491.01 1708.85 492.56 1709.34 494.11 1709.86 495.67 1710.42 497.22 1711.00 498.77 1711.60 500.33 1712.22 501.88 1712.89 503.43 1713.59 504.99 1714.31 506.54 1715.07 508.09 1715.84 509.65 1716.63 511.20 1717.46 512.75 1718.31 514.31 1719.19 515.86 1720.10 517.41 1721.03 518.97 1721.97 520.52 1722.94 522.07 1723.93 523.63 1724.95 525.18 1725.98 526.73 1727.04 528.29 1728.10 529.84 1729.18 531.39 1730.29 532.95 1731.41 534.50 1732.55 536.05 1733.70 537.61 1734.85 539.16 1736.01 540.71 1737.19 542.27 1738.38 543.82 1739.58 545.37 1740.78 546.93 1741.98 548.48 1743.15 550.03 1744.32 551.59 1745.54 553.14 1746.78 554.69 1747.97 556.25 1749.09 557.80 1750.08 559.35 1750.91 560.91 1751.72 562.46 1752.52 564.01 1753.26 565.57 1753.88 567.12 1754.32 568.67 1754.53 570.23 1754.34 571.78 1753.56 573.33 1752.30 574.89 1750.67 576.44 1748.77 577.99 1746.72 579.55 1744.61 581.10 1742.57 582.65 1740.67 584.21 1738.70 585.76 1736.60 587.31 1734.39 588.87 1732.10 590.42 1729.78 591.97 1727.44 593.53 1725.14 595.08 1722.90 596.63 1720.71 598.19 1718.52 599.74 1716.34 601.29 1714.16 602.85 1711.99 604.40 1709.83" stroke="#000" stroke-dashoffset="0.0"/>
<path d="M604.40 1709.83 605.93 1707.72 607.47 1705.63 609.01 1703.57 610.54 1701.52 612.08 1699.49 613.61 1697.46 615.15 1695.46 616.68 1693.48 618.22 1691.52 619.76 1689.59 621.29 1687.69 622.83 1685.82 624.36 1683.97 625.90 1682.14 627.43 1680.32 628.97 1678.54 630.51 1676.78 632.04 1675.05 633.58 1673.36 635.11 1671.71 636.65 1670.09 638.18 1668.48 639.72 1666.90 641.26 1665.35 642.79 1663.84 644.33 1662.35 645.86 1660.91 647.40 1659.51 648.93 1658.15 650.47 1656.82 652.01 1655.51 653.54 1654.23 655.08 1652.98 656.61 1651.77 658.15 1650.61 659.68 1649.49 661.22 1648.42 662.76 1647.39 664.29 1646.39 665.83 1645.40 667.36 1644.46 668.90 1643.54 670.43 1642.68 671.97 1641.86 673.51 1641.11 675.04 1640.41 676.58 1639.74 678.11 1639.07 679.65 1638.44 681.18 1637.83 682.72 1637.28 684.26 1636.78 685.79 1636.35 687.33 1636.00 688.86 1635.72 690.40 1635.45 691.93 1635.20 693.47 1634.96 695.01 1634.75 696.54 1634.57 698.08 1634.44 699.61 1634.36 701.15 1634.33 702.68 1634.39 704.22 1634.54 705.76 1634.77 707.29 1635.05 708.83 1635.37 710.36 1635.72 711.90 1636.10 713.43 1636.61 714.97 1637.25 716.51 1637.98 718.04 1638.78 719.58 1639.63 721.11 1640.49 722.65 1641.43 724.18 1642.47 725.72 1643.59 727.26 1644.78 728.79 1646.03 730.33 1647.32 731.86 1648.66 733.40 1650.08 734.93 1651.58 736.47 1653.14 738.01 1654.77 739.54 1656.44 741.08 1658.14 742.61 1659.91 744.15 1661.75 745.68 1663.65 747.22 1665.61 748.75 1667.61 750.29 1669.64 751.83 1671.71 753.36 1673.85 754.90 1676.03 756.43 1678.26 757.97 1680.53 759.50 1682.83 761.04 1685.14 762.58 1687.50 764.11 1689.90 765.65 1692.33 767.18 1694.79 768.72 1697.26 770.25 1699.72 771.79 1702.20 773.33 1704.71 774.86 1707.25 776.40 1709.78 777.93 1712.28 779.47 1714.73 781.00 1717.10 782.54 1719.54 784.08 1722.03 785.61 1724.47 787.15 1726.76 788.68 1728.81 790.22 1730.53 791.75 1731.98 793.29 1733.43 794.83 1734.80 796.36 1736.00 797.90 1736.93 799.43 1737.48 800.97 1737.55 802.50 1736.63 804.04 1734.75 805.58 1732.09 807.11 1728.85 808.65 1725.22 810.18 1721.39 811.72 1717.55 813.25 1713.90 814.79 1710.16 816.33 1706.00 817.86 1701.53 819.40 1696.83 820.93 1691.99 822.47 1687.11 824.00 1682.28 825.54 1677.57 827.08 1673.01 828.61 1668.44 830.15 1663.84 831.68 1659.25 833.22 1654.66 834.75 1650.11 836.29 1645.59 837.83 1641.12 839.36 1636.72 840.90 1632.33 842.43 1627.98 843.97 1623.65 845.50 1619.36 847.04 1615.12 848.58 1610.94 850.11 1606.81 851.65 1602.76 853.18 1598.76 854.72 1594.79 856.25 1590.87 857.79 1587.00 859.33 1583.19 860.86 1579.46 862.40 1575.79 863.93 1572.21 865.47 1568.70 867.00 1565.24 868.54 1561.83 870.08 1558.48 871.61 1555.21 873.15 1552.01 874.68 1548.90 876.22 1545.88 877.75 1542.96 879.29 1540.09 880.83 1537.28 882.36 1534.53 883.90 1531.86 885.43 1529.28 886.97 1526.80 888.50 1524.43 890.04 1522.17 891.58 1519.97 893.11 1517.82 894.65 1515.74 896.18 1513.74 897.72 1511.83 899.25 1510.03 900.79 1508.35 902.33 1506.82 903.86 1505.36 905.40 1503.92 906.93 1502.53 908.47 1501.22 910.00 1500.01 911.54 1498.93 913.08 1498.00 914.61 1497.25 916.15 1496.65 917.68 1496.07 919.22 1495.52 920.75 1495.02 922.29 1494.58 923.83 1494.23 925.36 1493.97 926.90 1493.83 928.43 1493.84 929.97 1494.03 931.50 1494.38 933.04 1494.87 934.58 1495.47 936.11 1496.13 937.65 1496.83 939.18 1497.64 940.72 1498.72 942.25 1500.03 943.79 1501.52 945.32 1503.15 946.86 1504.86 948.40 1506.61 949.93 1508.49 951.47 1510.58 953.00 1512.83 954.54 1515.23 956.07 1517.74 957.61 1520.33 959.15 1523.00 960.68 1525.83 962.22 1528.81 963.75 1531.94 965.29 1535.18 966.82 1538.52 968.36 1541.93 969.90 1545.44 971.43 1549.09 972.97 1552.87 974.50 1556.76 976.04 1560.75 977.57 1564.81 979.11 1568.93 980.65 1573.15 982.18 1577.48 983.72 1581.92 985.25 1586.43 986.79 1591.00 988.32 1595.62 989.86 1600.28 991.40 1605.03 992.93 1609.86 994.47 1614.75 996.00 1619.67 997.54 1624.61 999.07 1629.53 1000.61 1634.47 1002.15 1639.49 1003.68 1644.54 1005.22 1649.58 1006.75 1654.55 1008.29 1659.40 1009.82 1664.09 1011.36 1668.86 1012.90 1673.73 1014.43 1678.54 1015.97 1683.09 1017.50 1687.21 1019.04 1690.72 1020.57 1693.57 1022.11 1696.34 1023.65 1699.02 1025.18 1701.44 1026.72 1703.42 1028.25 1704.81 1029.79 1705.42 1031.32 1705.22 1032.86 1704.35 1034.40 1702.84 1035.93 1700.72 1037.47 1698.00 1039.00 1694.71 1040.54 1690.87 1042.07 1686.50 1043.61 1681.61 1045.15 1676.24 1046.68 1670.40 1048.22 1664.11 1049.75 1657.40 1051.29 1650.28 1052.82 1642.78 1054.36 1634.92 1055.90 1626.72 1057.43 1617.00 1058.97 1600.17 1060.50 1579.18 1062.04 1558.37 1063.57 1542.06 1065.11 1530.26 1066.65 1520.00 1068.18 1510.87 1069.72 1502.47 1071.25 1494.38 1072.79 1486.21 1074.32 1477.55 1075.86 1467.98 1077.40 1457.10 1078.93 1444.49 1080.47 1430.66 1082.00 1416.26 1083.54 1401.99 1085.07 1388.50 1086.61 1376.41 1088.15 1365.26 1089.68 1354.67 1091.22 1344.50 1092.75 1334.59 1094.29 1324.80 1095.82 1314.98 1097.36 1304.99 1098.90 1294.78 1100.43 1284.66 1101.97 1274.60 1103.50 1264.55 1105.04 1254.43 1106.57 1244.18 1108.11 1233.74 1109.65 1223.05 1111.18 1211.96 1112.72 1200.34 1114.25 1188.38 1115.79 1176.29 1117.32 1164.28 1118.86 1152.56 1120.40 1141.34 1121.93 1130.67 1123.47 1120.29 1125.00 1110.16 1126.54 1100.22 1128.07 1090.44 1129.61 1080.75 1131.15 1071.12 1132.68 1061.50 1134.22 1051.87 1135.75 1042.33 1137.29 1032.86 1138.82 1023.46 1140.36 1014.12 1141.89 1004.82 1143.43 995.55 1144.97 986.30 1146.50 977.06 1148.04 967.70 1149.57 958.24 1151.11 948.74 1152.64 939.29 1154.18 929.96 1155.72 920.83 1157.25 911.98 1158.79 903.49 1160.32 895.43 1161.86 887.64 1163.39 880.07 1164.93 872.68 1166.47 865.48 1168.00 858.43 1169.54 851.52 1171.07 844.73 1172.61 838.05 1174.14 831.45 1175.68 824.92 1177.22 818.45 1178.75 812.01 1180.29 805.62 1181.82 799.29 1183.36 793.02 1184.89 786.83 1186.43 780.71 1187.97 774.68 1189.50 768.74 1191.04 762.90 1192.57 757.18 1194.11 751.56 1195.64 746.07 1197.18 740.70 1198.72 735.44 1200.25 730.14 1201.79 724.80 1203.32 719.46 1204.86 714.18 1206.39 709.00 1207.93 703.96 1209.47 699.10 1211.00 694.47 1212.54 690.12 1214.07 686.08 1215.61 682.40 1217.14 679.12 1218.68 676.24 1220.22 673.60 1221.75 671.16 1223.29 668.89 1224.82 666.76 1226.36 664.75 1227.89 662.83 1229.43 660.97 1230.97 659.15 1232.50 657.34 1234.04 655.50 1235.57 653.62 1237.11 651.67 1238.64 649.62 1240.18 647.42 1241.72 644.95 1243.25 642.23 1244.79 639.32 1246.32 636.30 1247.86 633.22 1249.39 630.15 1250.93 627.15 1252.47 624.29 1254.00 621.63 1255.54 619.23" stroke="#000" stroke-dashoffset="79.0"/>
<path d="M1255.54 619.23 1257.07 617.17 1258.61 615.50 1260.15 614.28 1261.68 613.59 1263.22 613.49 1264.75 613.92 1266.29 614.68 1267.83 615.51 1269.36 616.21 1270.90 616.82 1272.44 617.41 1273.97 617.96 1275.51 618.50 1277.04 619.02 1278.58 619.54 1280.12 620.06 1281.65 620.58 1283.19 621.11 1284.73 621.66 1286.26 622.23 1287.80 622.84 1289.33 623.48 1290.87 624.16 1292.41 624.89 1293.94 625.68 1295.48 626.52 1297.02 627.44 1298.55 628.42 1300.09 629.51 1301.62 630.90 1303.16 632.61 1304.70 634.59 1306.23 636.81 1307.77 639.23 1309.31 641.81 1310.84 644.50 1312.38 647.28 1313.91 650.10 1315.45 652.92 1316.99 655.70 1318.52 658.41 1320.06 661.05 1321.60 663.68 1323.13 666.33 1324.67 668.99 1326.20 671.69 1327.74 674.42 1329.28 677.20 1330.81 680.03 1332.35 682.92 1333.89 685.88 1335.42 688.92 1336.96 692.04 1338.49 695.25 1340.03 698.57 1341.57 702.00 1343.10 705.55 1344.64 709.22 1346.18 713.10 1347.71 717.24 1349.25 721.62 1350.78 726.20 1352.32 730.97 1353.86 735.88 1355.39 740.92 1356.93 746.06 1358.47 751.26 1360.00 756.51 1361.54 761.82 1363.07 767.22 1364.61 772.70 1366.15 778.29 1367.68 783.99 1369.22 789.80 1370.76 795.74 1372.29 801.82 1373.83 808.05 1375.36 814.43 1376.90 820.97 1378.44 827.68 1379.97 834.58 1381.51 841.73 1383.05 849.36 1384.58 857.41 1386.12 865.78 1387.65 874.38 1389.19 883.11 1390.73 891.87 1392.26 900.57 1393.80 909.11 1395.34 917.41 1396.87 925.41 1398.41 933.18 1399.94 940.81 1401.48 948.39 1403.02 956.00 1404.55 963.72 1406.09 971.64 1407.63 979.85 1409.16 988.42 1410.70 997.46 1412.23 1007.21 1413.77 1017.75 1415.31 1028.83 1416.84 1040.20 1418.38 1051.61 1419.92 1062.84 1421.45 1073.63 1422.99 1083.82 1424.52 1093.58 1426.06 1103.06 1427.60 1112.36 1429.13 1121.62 1430.67 1130.94 1432.21 1140.43 1433.74 1150.22 1435.28 1160.41 1436.81 1171.05 1438.35 1182.06 1439.89 1193.33 1441.42 1204.77 1442.96 1216.28 1444.50 1227.77 1446.03 1239.12 1447.57 1250.30 1449.10 1261.35 1450.64 1272.38 1452.18 1283.46 1453.71 1294.68 1455.25 1306.14 1456.79 1317.92 1458.32 1330.27 1459.86 1343.34 1461.39 1356.71 1462.93 1369.98 1464.47 1382.73 1466.00 1394.57 1467.54 1405.83 1469.08 1416.74 1470.61 1427.35 1472.15 1437.69 1473.68 1447.81 1475.22 1457.74 1476.76 1467.52 1478.29 1477.19 1479.83 1486.79 1481.37 1496.37 1482.90 1505.95 1484.44 1515.58 1485.97 1525.30 1487.51 1535.15 1489.05 1545.17 1490.58 1555.39 1492.12 1565.88 1493.66 1577.23 1495.19 1589.30 1496.73 1601.58 1498.26 1613.53 1499.80 1624.64 1501.34 1634.38 1502.87 1642.23 1504.41 1649.06 1505.95 1655.85 1507.48 1662.54 1509.02 1669.04 1510.55 1675.28 1512.09 1681.18 1513.63 1686.67 1515.16 1691.67 1516.70 1696.10 1518.24 1699.90 1519.77 1702.97 1521.31 1705.25 1522.84 1706.66 1524.38 1707.13 1525.92 1706.60 1527.45 1705.11 1528.99 1702.74 1530.53 1699.54 1532.06 1695.58 1533.60 1690.93 1535.13 1685.65 1536.67 1679.82 1538.21 1673.49 1539.74 1666.73 1541.28 1659.61 1542.81 1652.20 1544.35 1644.55 1545.89 1636.74 1547.42 1628.83 1548.96 1620.89 1550.50 1612.98 1552.03 1605.18 1553.57 1597.53 1555.10 1590.12 1556.64 1583.01 1558.18 1576.26 1559.71 1569.94 1561.25 1564.12 1562.79 1558.85 1564.32 1554.21 1565.86 1550.27 1567.39 1547.07 1568.93 1544.13 1570.47 1541.19 1572.00 1538.27 1573.54 1535.36 1575.08 1532.49 1576.61 1529.65 1578.15 1526.85 1579.68 1524.11 1581.22 1521.42 1582.76 1518.79 1584.29 1516.23 1585.83 1513.75 1587.37 1511.36 1588.90 1509.06 1590.44 1506.85 1591.97 1504.76 1593.51 1502.77 1595.05 1500.91 1596.58 1499.18 1598.12 1497.58 1599.66 1496.12 1601.19 1494.81 1602.73 1493.66 1604.26 1492.67 1605.80 1491.86 1607.34 1491.21 1608.87 1490.76 1610.41 1490.50 1611.95 1490.43 1613.48 1490.52 1615.02 1490.75 1616.55 1491.11 1618.09 1491.59 1619.63 1492.20 1621.16 1492.92 1622.70 1493.75 1624.24 1494.70 1625.77 1495.75 1627.31 1496.89 1628.84 1498.14 1630.38 1499.47 1631.92 1500.90 1633.45 1502.40 1634.99 1503.99 1636.53 1505.65 1638.06 1507.38 1639.60 1509.17 1641.13 1511.03 1642.67 1512.94 1644.21 1514.91 1645.74 1516.93 1647.28 1518.99 1648.82 1521.09 1650.35 1523.23 1651.89 1525.40 1653.42 1527.59 1654.96 1529.81 1656.50 1532.05 1658.03 1534.30 1659.57 1536.57 1661.11 1538.84 1662.64 1541.11 1664.18 1543.38 1665.71 1545.71 1667.25 1548.27 1668.79 1551.07 1670.32 1554.08 1671.86 1557.29 1673.40 1560.68 1674.93 1564.22 1676.47 1567.91 1678.00 1571.72 1679.54 1575.63 1681.08 1579.62 1682.61 1583.69 1684.15 1587.79 1685.69 1591.93 1687.22 1596.08 1688.76 1600.22 1690.29 1604.34 1691.83 1608.40 1693.37 1612.41 1694.90 1616.33 1696.44 1620.16 1697.98 1624.03 1699.51 1627.96 1701.05 1631.96 1702.58 1636.00 1704.12 1640.08 1705.66 1644.19 1707.19 1648.30 1708.73 1652.42 1710.27 1656.52 1711.80 1660.61 1713.34 1664.66 1714.87 1668.66 1716.41 1672.61 1717.95 1676.49 1719.48 1680.29 1721.02 1684.00 1722.56 1687.61 1724.09 1691.10 1725.63 1694.58 1727.16 1698.27 1728.70 1702.13 1730.24 1706.10 1731.77 1710.12 1733.31 1714.14 1734.85 1718.11 1736.38 1721.97 1737.92 1725.67 1739.45 1729.14 1740.99 1732.34 1742.53 1735.21 1744.06 1737.70 1745.60 1739.74 1747.14 1741.29 1748.67 1742.29 1750.21 1742.68 1751.74 1742.59 1753.28 1742.27 1754.82 1741.74 1756.35 1741.00 1757.89 1740.05 1759.43 1738.92 1760.96 1737.60 1762.50 1736.11 1764.03 1734.45 1765.57 1732.64 1767.11 1730.68 1768.64 1728.58 1770.18 1726.34 1771.72 1723.99 1773.25 1721.52 1774.79 1718.95 1776.32 1716.28 1777.86 1713.52 1779.40 1710.69 1780.93 1707.78 1782.47 1704.81 1784.01 1701.79 1785.54 1698.73 1787.08 1695.63 1788.61 1692.50 1790.15 1689.35 1791.69 1686.20 1793.22 1683.04 1794.76 1679.89 1796.30 1676.76 1797.83 1673.65 1799.37 1670.58 1800.90 1667.55 1802.44 1664.57 1803.98 1661.64 1805.51 1658.79 1807.05 1656.01 1808.59 1653.32 1810.12 1650.73 1811.66 1648.23 1813.19 1645.85 1814.73 1643.59 1816.27 1641.45 1817.80 1639.46 1819.34 1637.61 1820.88 1635.91 1822.41 1634.31 1823.95 1632.67 1825.48 1631.00 1827.02 1629.30 1828.56 1627.58 1830.09 1625.87 1831.63 1624.18 1833.17 1622.50 1834.70 1620.87 1836.24 1619.29 1837.77 1617.77 1839.31 1616.33 1840.85 1614.99 1842.38 1613.74 1843.92 1612.61 1845.46 1611.60 1846.99 1610.74 1848.53 1610.03 1850.06 1609.49 1851.60 1609.12 1853.14 1608.95 1854.67 1608.96 1856.21 1609.07 1857.75 1609.29 1859.28 1609.59 1860.82 1609.98 1862.35 1610.46 1863.89 1611.02 1865.43 1611.66 1866.96 1612.37 1868.50 1613.14 1870.04 1613.99 1871.57 1614.89 1873.11 1615.86 1874.64 1616.87 1876.18 1617.94 1877.72 1619.05 1879.25 1620.21 1880.79 1621.40 1882.33 1622.62 1883.86 1623.88 1885.40 1625.16 1886.93 1626.47 1888.47 1627.79 1890.01 1629.13 1891.54 1630.48 1893.08 1631.83 1894.62 1633.19 1896.15 1634.55 1897.69 1635.90 1899.22 1637.24 1900.76 1638.57 1902.30 1639.97 1903.83 1641.48 1905.37 1643.10 1906.91 1644.81 1908.44 1646.60 1909.98 1648.48 1911.51 1650.43 1913.05 1652.44 1914.59 1654.50 1916.12 1656.62 1917.66 1658.77 1919.20 1660.95 1920.73 1663.16 1922.27 1665.39 1923.80 1667.62 1925.34 1669.85 1926.88 1672.07 1928.41 1674.28 1929.95 1676.47 1931.49 1678.62 1933.02 1680.73 1934.56 1682.80 1936.09 1684.81 1937.63 1686.86 1939.17 1689.02 1940.70 1691.28 1942.24 1693.62 1943.78 1696.04 1945.31 1698.52 1946.85 1701.05 1948.38 1703.62 1949.92 1706.21 1951.46 1708.83 1952.99 1711.44 1954.53 1714.05 1956.07 1716.64 1957.60 1719.20 1959.14 1721.71 1960.67 1724.18 1962.21 1726.57 1963.75 1728.90 1965.28 1731.13 1966.82 1733.26 1968.36 1735.29 1969.89 1737.19 1971.43 1738.95 1972.96 1740.57 1974.50 1742.04 1976.04 1743.33 1977.57 1744.44 1979.11 1745.37 1980.65 1746.08 1982.18 1746.59 1983.72 1746.86 1985.25 1746.89 1986.79 1746.57 1988.33 1745.89 1989.86 1744.87 1991.40 1743.55 1992.94 1741.95 1994.47 1740.09 1996.01 1738.02 1997.54 1735.74 1999.08 1733.30" stroke="#000" stroke-dashoffset="69.4"/>
<path d="M2000.91 1728.43 2002.44 1725.40 2003.98 1722.31 2005.51 1719.20 2007.05 1716.08 2008.58 1713.02 2010.11 1710.02 2011.65 1707.14 2013.18 1704.40 2014.72 1701.84 2016.25 1699.40 2017.78 1696.92 2019.32 1694.37 2020.85 1691.78 2022.39 1689.16 2023.92 1686.50 2025.45 1683.81 2026.99 1681.11 2028.52 1678.40 2030.06 1675.68 2031.59 1672.97 2033.13 1670.28 2034.66 1667.60 2036.19 1664.95 2037.73 1662.34 2039.26 1659.77 2040.80 1657.24 2042.33 1654.78 2043.86 1652.38 2045.40 1650.05 2046.93 1647.80 2048.47 1645.63 2050.00 1643.57 2051.53 1641.60 2053.07 1639.74 2054.60 1637.93 2056.14 1636.15 2057.67 1634.40 2059.21 1632.66 2060.74 1630.96 2062.27 1629.27 2063.81 1627.61 2065.34 1625.97 2066.88 1624.35 2068.41 1622.76 2069.94 1621.19 2071.48 1619.64 2073.01 1618.11 2074.55 1616.61 2076.08 1615.13 2077.61 1613.67 2079.15 1612.23 2080.68 1610.81 2082.22 1609.42 2083.75 1608.04 2085.29 1606.69 2086.82 1605.36 2088.35 1604.05 2089.89 1602.76 2091.42 1601.49 2092.96 1600.24 2094.49 1599.01 2096.02 1597.80 2097.56 1596.62 2099.09 1595.45 2100.63 1594.30 2102.16 1593.17 2103.69 1592.07 2105.23 1590.98 2106.76 1589.91 2108.30 1588.86 2109.83 1587.83 2111.37 1586.81 2112.90 1585.82 2114.43 1584.84 2115.97 1583.86 2117.50 1582.89 2119.04 1581.93 2120.57 1580.98 2122.10 1580.03 2123.64 1579.09 2125.17 1578.16 2126.71 1577.24 2128.24 1576.33 2129.77 1575.43 2131.31 1574.54 2132.84 1573.65 2134.38 1572.78 2135.91 1571.92 2137.45 1571.06 2138.98 1570.22 2140.51 1569.39 2142.05 1568.57 2143.58 1567.76 2145.12 1566.96 2146.65 1566.17 2148.18 1565.40 2149.72 1564.64 2151.25 1563.89 2152.79 1563.15 2154.32 1562.43 2155.86 1561.72 2157.39 1561.02 2158.92 1560.33 2160.46 1559.66 2161.99 1559.01 2163.53 1558.37 2165.06 1557.74 2166.59 1557.13 2168.13 1556.53 2169.66 1555.95 2171.20 1555.38 2172.73 1554.83 2174.26 1554.29 2175.80 1553.77 2177.33 1553.27 2178.87 1552.79 2180.40 1552.32 2181.94 1551.86 2183.47 1551.39 2185.00 1550.92 2186.54 1550.44 2188.07 1549.96 2189.61 1549.49 2191.14 1549.02 2192.67 1548.57 2194.21 1548.14 2195.74 1547.73 2197.28 1547.34 2198.81 1546.99 2200.34 1546.67 2201.88 1546.38 2203.41 1546.14 2204.95 1545.95 2206.48 1545.81 2208.02 1545.72 2209.55 1545.70 2211.08 1545.72 2212.62 1545.80 2214.15 1545.92 2215.69 1546.07 2217.22 1546.27 2218.75 1546.50 2220.29 1546.75 2221.82 1547.03 2223.36 1547.34 2224.89 1547.66 2226.42 1548.00 2227.96 1548.35 2229.49 1548.71 2231.03 1549.08 2232.56 1549.44 2234.10 1549.81 2235.63 1550.18 2237.16 1550.57 2238.70 1550.98 2240.23 1551.42 2241.77 1551.88 2243.30 1552.37 2244.83 1552.87 2246.37 1553.41 2247.90 1553.96 2249.44 1554.53 2250.97 1555.13 2252.50 1555.75 2254.04 1556.38 2255.57 1557.04 2257.11 1557.72 2258.64 1558.41 2260.18 1559.13 2261.71 1559.86 2263.24 1560.62 2264.78 1561.38 2266.31 1562.17 2267.85 1562.97 2269.38 1563.79 2270.91 1564.63 2272.45 1565.48 2273.98 1566.35 2275.52 1567.23 2277.05 1568.13 2278.59 1569.04 2280.12 1569.96 2281.65 1570.90 2283.19 1571.85 2284.72 1572.81 2286.26 1573.78 2287.79 1574.77 2289.32 1575.76 2290.86 1576.77 2292.39 1577.79 2293.93 1578.82 2295.46 1579.85 2296.99 1580.90 2298.53 1581.95 2300.06 1583.02 2301.60 1584.09 2303.13 1585.18 2304.67 1586.32 2306.20 1587.52 2307.73 1588.77 2309.27 1590.07 2310.80 1591.42 2312.34 1592.82 2313.87 1594.26 2315.40 1595.74 2316.94 1597.26 2318.47 1598.82 2320.01 1600.41 2321.54 1602.03 2323.07 1603.69 2324.61 1605.37 2326.14 1607.08 2327.68 1608.81 2329.21 1610.56 2330.75 1612.34 2332.28 1614.12 2333.81 1615.93 2335.35 1617.74 2336.88 1619.57 2338.42 1621.40 2339.95 1623.24 2341.48 1625.08 2343.02 1626.92 2344.55 1628.76 2346.09 1630.59 2347.62 1632.43 2349.15 1634.25 2350.69 1636.06 2352.22 1637.86 2353.76 1639.64 2355.29 1641.42 2356.83 1643.21 2358.36 1645.05 2359.89 1646.91 2361.43 1648.80 2362.96 1650.71 2364.50 1652.65 2366.03 1654.61 2367.56 1656.59 2369.10 1658.57 2370.63 1660.58 2372.17 1662.59 2373.70 1664.61 2375.23 1666.63 2376.77 1668.65 2378.30 1670.67 2379.84 1672.69 2381.37 1674.70 2382.91 1676.70 2384.44 1678.69 2385.97 1680.67 2387.51 1682.63 2389.04 1684.56 2390.58 1686.48 2392.11 1688.37 2393.64 1690.23 2395.18 1692.06 2396.71 1693.86 2398.25 1695.62 2399.78 1697.35 2401.31 1699.03 2402.85 1700.67 2404.38 1702.27 2405.92 1703.88 2407.45 1705.49 2408.99 1707.11 2410.52 1708.73 2412.05 1710.34 2413.59 1711.96 2415.12 1713.57 2416.66 1715.17 2418.19 1716.77 2419.72 1718.35 2421.26 1719.93 2422.79 1721.48 2424.33 1723.02 2425.86 1724.55 2427.40 1726.05 2428.93 1727.53 2430.46 1728.98 2432.00 1730.40 2433.53 1731.80 2435.07 1733.17 2436.60 1734.50 2438.13 1735.80 2439.67 1737.06 2441.20 1738.28 2442.74 1739.46 2444.27 1740.60 2445.80 1741.69 2447.34 1742.73 2448.87 1743.72 2450.41 1744.67 2451.94 1745.55 2453.48 1746.39 2455.01 1747.17 2456.54 1747.97 2458.08 1748.77 2459.61 1749.57 2461.15 1750.36 2462.68 1751.12 2464.21 1751.83 2465.75 1752.48 2467.28 1753.07 2468.82 1753.56 2470.35 1753.96 2471.88 1754.25 2473.42 1754.41 2474.95 1754.43 2476.49 1754.26 2478.02 1753.91 2479.56 1753.38 2481.09 1752.69 2482.62 1751.85 2484.16 1750.87 2485.69 1749.76 2487.23 1748.54 2488.76 1747.21 2490.29 1745.79 2491.83 1744.29 2493.36 1742.73 2494.90 1741.10 2496.43 1739.43 2497.96 1737.73 2499.50 1736.01 2501.03 1734.27 2502.57 1732.54 2504.10 1730.82 2505.64 1729.13 2507.17 1727.47 2508.70 1725.87 2510.24 1724.32 2511.77 1722.85 2513.31 1721.46 2514.84 1720.16 2516.37 1718.98 2517.91 1717.91 2519.44 1716.97 2520.98 1716.18 2522.51 1715.54 2524.04 1715.00 2525.58 1714.46 2527.11 1713.92 2528.65 1713.39 2530.18 1712.86 2531.72 1712.35 2533.25 1711.85 2534.78 1711.36 2536.32 1710.89 2537.85 1710.44 2539.39 1710.00 2540.92 1709.59 2542.45 1709.20 2543.99 1708.84 2545.52 1708.50 2547.06 1708.20 2548.59 1707.92 2550.12 1707.68 2551.66 1707.48 2553.19 1707.31 2554.73 1707.18 2556.26 1707.09 2557.80 1707.04 2559.33 1707.04 2560.86 1707.09 2562.40 1707.17 2563.93 1707.29 2565.47 1707.45 2567.00 1707.65 2568.53 1707.87 2570.07 1708.13 2571.60 1708.41 2573.14 1708.72 2574.67 1709.04 2576.21 1709.39 2577.74 1709.75 2579.27 1710.13 2580.81 1710.52 2582.34 1710.92 2583.88 1711.33 2585.41 1711.74 2586.94 1712.15 2588.48 1712.56 2590.01 1712.98 2591.55 1713.38 2593.08 1713.78 2594.61 1714.20 2596.15 1714.65 2597.68 1715.14 2599.22 1715.65 2600.75 1716.18 2602.29 1716.74 2603.82 1717.33 2605.35 1717.93 2606.89 1718.56 2608.42 1719.22 2609.96 1719.88 2611.49 1720.57 2613.02 1721.28 2614.56 1722.00 2616.09 1722.74 2617.63 1723.49 2619.16 1724.25 2620.69 1725.02 2622.23 1725.80 2623.76 1726.60 2625.30 1727.39 2626.83 1728.20 2628.37 1729.01 2629.90 1729.83 2631.43 1730.65 2632.97 1731.47 2634.50 1732.29 2636.04 1733.11 2637.57 1733.93 2639.10 1734.74 2640.64 1735.56 2642.17 1736.36 2643.71 1737.16 2645.24 1737.96 2646.77 1738.74 2648.31 1739.51 2649.84 1740.28 2651.38 1741.03 2652.91 1741.76 2654.45 1742.49 2655.98 1743.19 2657.51 1743.88 2659.05 1744.55 2660.58 1745.21 2662.12 1745.84 2663.65 1746.45 2665.18 1747.03 2666.72 1747.60 2668.25 1748.13 2669.79 1748.64 2671.32 1749.13 2672.85 1749.61 2674.39 1750.11 2675.92 1750.61 2677.46 1751.12 2678.99 1751.63 2680.53 1752.15 2682.06 1752.66 2683.59 1753.18 2685.13 1753.68 2686.66 1754.18 2688.20 1754.68 2689.73 1755.16 2691.26 1755.62 2692.80 1756.07 2694.33 1756.51 2695.87 1756.92 2697.40 1757.31 2698.93 1757.68 2700.47 1758.02 2702.00 1758.33 2703.54 1758.61 2705.07 1758.86 2706.61 1759.07 2708.14 1759.24 2709.67 1759.37 2711.21 1759.47 2712.74 1759.51 2714.28 1759.51 2715.81 1759.46 2717.34 1759.34 2718.88 1759.18 2720.41 1758.99 2721.95 1758.78 2723.48 1758.57 2725.02 1758.36 2726.55 1758.18 2728.08 1758.03 2729.62 1757.92 2731.15 1757.85 2732.69 1757.83" stroke="#000" stroke-dashoffset="35.5"/>
<path d="M435.09 1714.92 436.64 1714.90 438.20 1714.86 439.75 1714.80 441.31 1714.72 442.86 1714.60 444.42 1714.45 445.97 1714.30 447.53 1714.12 449.08 1713.91 450.64 1713.70 452.20 1713.48 453.75 1713.24 455.31 1712.99 456.86 1712.74 458.42 1712.48 459.97 1712.22 461.53 1711.97 463.08 1711.71 464.64 1711.47 466.19 1711.23 467.75 1711.00 469.31 1710.79 470.86 1710.59 472.42 1710.40 473.97 1710.23 475.53 1710.09 477.08 1709.96 478.64 1709.85 480.19 1709.78 481.75 1709.73 483.30 1709.69 484.86 1709.67 486.42 1709.70 487.97 1709.79 489.53 1709.92 491.08 1710.07 492.64 1710.25 494.19 1710.44 495.75 1710.72 497.30 1711.06 498.86 1711.46 500.41 1711.88 501.97 1712.32 503.52 1712.81 505.08 1713.36 506.64 1713.95 508.19 1714.58 509.75 1715.23 511.30 1715.92 512.86 1716.66 514.41 1717.44 515.97 1718.26 517.52 1719.11 519.08 1719.99 520.63 1720.90 522.19 1721.86 523.75 1722.85 525.30 1723.87 526.86 1724.91 528.41 1725.98 529.97 1727.08 531.52 1728.22 533.08 1729.38 534.63 1730.56 536.19 1731.75 537.74 1732.97 539.30 1734.22 540.86 1735.49 542.41 1736.76 543.97 1738.04 545.52 1739.34 547.08 1740.66 548.63 1741.98 550.19 1743.28 551.74 1744.56 553.30 1745.86 554.85 1747.20 556.41 1748.51 557.96 1749.73 559.52 1750.78 561.08 1751.64 562.63 1752.49 564.19 1753.30 565.74 1753.96 567.30 1754.40 568.85 1754.53 570.41 1754.05 571.96 1752.92 573.52 1751.28 575.07 1749.25 576.63 1746.96 578.19 1744.53 579.74 1742.08 581.30 1739.76 582.85 1737.59 584.41 1735.31 585.96 1732.89 587.52 1730.37 589.07 1727.79 590.63 1725.17 592.18 1722.56 593.74 1719.99 595.30 1717.49 596.85 1715.04 598.41 1712.59 599.96 1710.14 601.52 1707.70 603.07 1705.27 604.63 1702.86 606.18 1700.47 607.74 1698.11 609.29 1695.78 610.85 1693.46 612.41 1691.16 613.96 1688.88 615.52 1686.61 617.07 1684.38 618.63 1682.17 620.18 1679.99" stroke="#f00" stroke-dashoffset="0.0"/>
<path d="M620.18 1679.99 621.72 1677.87 623.26 1675.79 624.79 1673.72 626.33 1671.67 627.86 1669.65 629.40 1667.66 630.94 1665.70 632.47 1663.78 634.01 1661.90 635.55 1660.05 637.08 1658.24 638.62 1656.45 640.16 1654.69 641.69 1652.96 643.23 1651.27 644.76 1649.61 646.30 1648.00 647.84 1646.44 649.37 1644.92 650.91 1643.43 652.45 1641.97 653.98 1640.54 655.52 1639.15 657.06 1637.80 658.59 1636.49 660.13 1635.24 661.66 1634.04 663.20 1632.90 664.74 1631.77 666.27 1630.67 667.81 1629.61 669.35 1628.58 670.88 1627.61 672.42 1626.69 673.96 1625.84 675.49 1625.05 677.03 1624.30 678.56 1623.55 680.10 1622.84 681.64 1622.15 683.17 1621.52 684.71 1620.95 686.25 1620.45 687.78 1620.04 689.32 1619.72 690.86 1619.42 692.39 1619.13 693.93 1618.85 695.46 1618.61 697.00 1618.40 698.54 1618.24 700.07 1618.13 701.61 1618.08 703.15 1618.12 704.68 1618.26 706.22 1618.51 707.76 1618.82 709.29 1619.19 710.83 1619.59 712.36 1620.02 713.90 1620.61 715.44 1621.34 716.97 1622.19 718.51 1623.13 720.05 1624.11 721.58 1625.13 723.12 1626.23 724.66 1627.45 726.19 1628.78 727.73 1630.18 729.26 1631.66 730.80 1633.17 732.34 1634.76 733.87 1636.44 735.41 1638.22 736.95 1640.08 738.48 1642.00 740.02 1643.97 741.56 1645.99 743.09 1648.10 744.63 1650.29 746.16 1652.55 747.70 1654.87 749.24 1657.24 750.77 1659.64 752.31 1662.12 753.85 1664.66 755.38 1667.26 756.92 1669.91 758.46 1672.60 759.99 1675.31 761.53 1678.07 763.06 1680.88 764.60 1683.74 766.14 1686.63 767.67 1689.53 769.21 1692.44 770.75 1695.36 772.28 1698.34 773.82 1701.34 775.36 1704.33 776.89 1707.30 778.43 1710.20 779.96 1713.04 781.50 1715.99 783.04 1718.97 784.57 1721.87 786.11 1724.57 787.65 1726.93 789.18 1728.87 790.72 1730.67 792.26 1732.45 793.79 1734.08 795.33 1735.43 796.86 1736.36 798.40 1736.75 799.94 1736.27 801.47 1734.64 803.01 1732.06 804.55 1728.73 806.08 1724.84 807.62 1720.60 809.16 1716.19 810.69 1711.81 812.23 1707.66 813.77 1703.48 815.30 1698.92 816.84 1694.04 818.37 1688.92 819.91 1683.66 821.45 1678.32 822.98 1672.99 824.52 1667.75 826.06 1662.67 827.59 1657.68 829.13 1652.67 830.67 1647.65 832.20 1642.64 833.74 1637.65 835.27 1632.69 836.81 1627.76 838.35 1622.89 839.88 1618.08 841.42 1613.30 842.96 1608.55 844.49 1603.82 846.03 1599.14 847.57 1594.49 849.10 1589.90 850.64 1585.37 852.17 1580.91 853.71 1576.51 855.25 1572.16 856.78 1567.85 858.32 1563.59 859.86 1559.37 861.39 1555.22 862.93 1551.14 864.47 1547.13 866.00 1543.20 867.54 1539.36 869.07 1535.57 870.61 1531.83 872.15 1528.15 873.68 1524.53 875.22 1520.98 876.76 1517.52 878.29 1514.14 879.83 1510.87 881.37 1507.69 882.90 1504.56 884.44 1501.49 885.97 1498.48 887.51 1495.55 889.05 1492.70 890.58 1489.95 892.12 1487.30 893.66 1484.76 895.19 1482.33 896.73 1479.96 898.27 1477.63 899.80 1475.37 901.34 1473.20 902.87 1471.11 904.41 1469.14 905.95 1467.29 907.48 1465.57 909.02 1463.97 910.56 1462.40 912.09 1460.86 913.63 1459.38 915.17 1457.99 916.70 1456.71 918.24 1455.57 919.77 1454.59 921.31 1453.79 922.85 1453.14 924.38 1452.51 925.92 1451.91 927.46 1451.35 928.99 1450.85 930.53 1450.43 932.07 1450.10 933.60 1449.89 935.14 1449.80 936.67 1449.90 938.21 1450.26 939.75 1450.84 941.28 1451.58 942.82 1452.42 944.36 1453.33 945.89 1454.39 947.43 1455.83 948.97 1457.59 950.50 1459.59 952.04 1461.76 953.57 1464.01 955.11 1466.36 956.65 1469.01 958.18 1471.90 959.72 1475.00 961.26 1478.26 962.79 1481.63 964.33 1485.14 965.87 1488.89 967.40 1492.85 968.94 1497.00 970.47 1501.29 972.01 1505.70 973.55 1510.24 975.08 1514.98 976.62 1519.90 978.16 1524.98 979.69 1530.19 981.23 1535.50 982.77 1540.92 984.30 1546.50 985.84 1552.23 987.37 1558.08 988.91 1564.04 990.45 1570.06 991.98 1576.15 993.52 1582.38 995.06 1588.71 996.59 1595.12 998.13 1601.57 999.67 1608.03 1001.20 1614.50 1002.74 1621.08 1004.27 1627.72 1005.81 1634.35 1007.35 1640.90 1008.88 1647.28 1010.42 1653.52 1011.96 1660.00 1013.49 1666.51 1015.03 1672.76 1016.57 1678.46 1018.10 1683.33 1019.64 1687.26 1021.18 1691.11 1022.71 1694.78 1024.25 1697.99 1025.78 1700.44 1027.32 1701.84 1028.86 1701.76 1030.39 1699.16 1031.93 1694.13 1033.47 1687.00 1035.00 1678.10 1036.54 1667.74 1038.08 1656.25 1039.61 1643.96 1041.15 1631.19 1042.68 1618.26 1044.22 1605.51 1045.76 1593.24 1047.29 1581.80 1048.83 1571.08 1050.37 1560.08 1051.90 1548.78 1053.44 1537.26 1054.98 1525.57 1056.51 1513.79 1058.05 1501.98 1059.58 1490.22 1061.12 1478.56 1062.66 1467.11 1064.19 1455.98 1065.73 1445.01 1067.27 1433.97 1068.80 1422.65 1070.34 1410.83 1071.88 1398.29 1073.41 1384.80 1074.95 1370.47 1076.48 1355.49 1078.02 1340.08 1079.56 1324.42 1081.09 1308.72 1082.63 1293.18 1084.17 1277.99 1085.70 1263.36 1087.24 1249.44 1088.78 1235.91 1090.31 1222.64 1091.85 1209.60 1093.38 1196.74 1094.92 1184.05 1096.46 1171.48 1097.99 1158.99 1099.53 1146.55 1101.07 1134.13 1102.60 1121.69 1104.14 1109.19 1105.68 1096.60 1107.21 1083.88 1108.75 1070.84 1110.28 1057.46 1111.82 1043.83 1113.36 1030.08 1114.89 1016.29 1116.43 1002.58 1117.97 989.06 1119.50 975.82 1121.04 962.97 1122.58 950.62 1124.11 938.87 1125.65 927.82 1127.18 917.59 1128.72 908.07 1130.26 898.96 1131.79 890.23 1133.33 881.85 1134.87 873.79 1136.40 866.00 1137.94 858.46 1139.48 851.13 1141.01 843.98 1142.55 836.98 1144.08 830.08 1145.62 823.27 1147.16 816.50 1148.69 809.74 1150.23 802.95 1151.77 796.11 1153.30 789.18 1154.84 782.12 1156.38 774.91 1157.91 767.50 1159.45 759.87 1160.98 751.98 1162.52 743.77 1164.06 735.06 1165.59 726.09 1167.13 717.14 1168.67 708.53 1170.20 700.44 1171.74 692.63 1173.28 685.03 1174.81 677.64 1176.35 670.44 1177.88 663.41 1179.42 656.47 1180.96 649.52 1182.49 642.67 1184.03 636.03 1185.57 629.72 1187.10 623.86 1188.64 618.54 1190.18 613.59 1191.71 608.86 1193.25 604.34 1194.78 600.01 1196.32 595.86 1197.86 591.88 1199.39 588.05 1200.93 584.35 1202.47 580.77 1204.00 577.30 1205.54 573.95 1207.08 570.78 1208.61 567.75 1210.15 564.84 1211.69 562.01 1213.22 559.23 1214.76 556.47 1216.29 553.70 1217.83 550.91 1219.37 548.13 1220.90 545.38 1222.44 542.71 1223.98 540.13 1225.51 537.67 1227.05 535.37 1228.59 533.24 1230.12 531.18 1231.66 529.17 1233.19 527.21 1234.73 525.30 1236.27 523.46 1237.80 521.69 1239.34 519.99 1240.88 518.36 1242.41 516.82 1243.95 515.36 1245.49 513.99 1247.02 512.72 1248.56 511.48 1250.09 510.22 1251.63 508.94 1253.17 507.67 1254.70 506.40 1256.24 505.16 1257.78 503.96 1259.31 502.81 1260.85 501.71 1262.39 500.69 1263.92 499.76 1265.46 498.93 1266.99 498.20 1268.53 497.60 1270.07 497.13 1271.60 496.81 1273.14 496.65 1274.68 496.66 1276.21 496.84 1277.75 497.17 1279.29 497.65 1280.82 498.26 1282.36 498.98 1283.89 499.82 1285.43 500.75 1286.97 501.77 1288.50 502.86 1290.04 504.01 1291.58 505.21 1293.11 506.45 1294.65 507.72 1296.19 509.00 1297.72 510.28" stroke="#f00" stroke-dashoffset="71.1"/>
<path d="M1297.72 510.28 1299.26 511.55 1300.79 512.80 1302.33 514.11 1303.86 515.53 1305.40 517.06 1306.93 518.69 1308.46 520.40 1310.00 522.21 1311.53 524.09 1313.07 526.04 1314.60 528.05 1316.14 530.12 1317.67 532.24 1319.21 534.41 1320.74 536.69 1322.28 539.13 1323.81 541.69 1325.35 544.38 1326.88 547.16 1328.42 550.03 1329.95 552.96 1331.49 555.94 1333.02 558.99 1334.55 562.15 1336.09 565.43 1337.62 568.83 1339.16 572.37 1340.69 576.06 1342.23 579.91 1343.76 583.92 1345.30 588.08 1346.83 592.38 1348.37 596.82 1349.90 601.39 1351.44 606.09 1352.97 610.90 1354.51 615.82 1356.04 620.86 1357.58 626.13 1359.11 631.63 1360.64 637.33 1362.18 643.17 1363.71 649.10 1365.25 655.09 1366.78 661.08 1368.32 667.02 1369.85 672.92 1371.39 678.85 1372.92 684.90 1374.46 691.14 1375.99 697.67 1377.53 704.55 1379.06 711.99 1380.60 720.00 1382.13 728.37 1383.67 736.90 1385.20 745.38 1386.73 753.67 1388.27 761.87 1389.80 770.00 1391.34 778.09 1392.87 786.14 1394.41 794.19 1395.94 802.23 1397.48 810.30 1399.01 818.42 1400.55 826.59 1402.08 834.83 1403.62 843.18 1405.15 851.63 1406.69 860.22 1408.22 868.95 1409.75 877.86 1411.29 886.94 1412.82 896.23 1414.36 905.75 1415.89 915.50 1417.43 925.55 1418.96 935.97 1420.50 946.71 1422.03 957.76 1423.57 969.07 1425.10 980.61 1426.64 992.35 1428.17 1004.26 1429.71 1016.31 1431.24 1028.46 1432.78 1040.68 1434.31 1052.93 1435.84 1065.20 1437.38 1077.43 1438.91 1089.61 1440.45 1101.75 1441.98 1113.89 1443.52 1126.05 1445.05 1138.28 1446.59 1150.58 1448.12 1163.01 1449.66 1175.57 1451.19 1188.31 1452.73 1201.26 1454.26 1214.43 1455.80 1227.86 1457.33 1241.59 1458.87 1255.63 1460.40 1270.51 1461.93 1286.44 1463.47 1303.07 1465.00 1320.06 1466.54 1337.06 1468.07 1353.72 1469.61 1369.72 1471.14 1384.70 1472.68 1398.32 1474.21 1410.93 1475.75 1423.72 1477.28 1436.67 1478.82 1449.76 1480.35 1462.94 1481.89 1476.16 1483.42 1489.39 1484.96 1502.58 1486.49 1515.69 1488.02 1528.69 1489.56 1541.52 1491.09 1554.15 1492.63 1566.54 1494.16 1578.64 1495.70 1590.41 1497.23 1601.81 1498.77 1612.80 1500.30 1623.34 1501.84 1633.39 1503.37 1642.90 1504.91 1651.84 1506.44 1660.15 1507.98 1667.81 1509.51 1674.76 1511.05 1680.97 1512.58 1686.40 1514.11 1690.99 1515.65 1694.73 1517.18 1697.55 1518.72 1699.42 1520.25 1700.29 1521.79 1700.06 1523.32 1698.56 1524.86 1696.03 1526.39 1692.77 1527.93 1689.04 1529.46 1685.13 1531.00 1681.18 1532.53 1676.37 1534.07 1670.70 1535.60 1664.45 1537.14 1657.89 1538.67 1651.30 1540.20 1644.94 1541.74 1638.56 1543.27 1631.99 1544.81 1625.32 1546.34 1618.61 1547.88 1611.93 1549.41 1605.34 1550.95 1598.83 1552.48 1592.31 1554.02 1585.81 1555.55 1579.37 1557.09 1573.02 1558.62 1566.79 1560.16 1560.67 1561.69 1554.61 1563.23 1548.63 1564.76 1542.75 1566.29 1537.00 1567.83 1531.40 1569.36 1525.96 1570.90 1520.61 1572.43 1515.37 1573.97 1510.25 1575.50 1505.29 1577.04 1500.51 1578.57 1495.92 1580.11 1491.47 1581.64 1487.12 1583.18 1482.92 1584.71 1478.89 1586.25 1475.06 1587.78 1471.47 1589.31 1468.04 1590.85 1464.71 1592.38 1461.53 1593.92 1458.54 1595.45 1455.77 1596.99 1453.27 1598.52 1450.98 1600.06 1448.75 1601.59 1446.64 1603.13 1444.72 1604.66 1443.07 1606.20 1441.75 1607.73 1440.79 1609.27 1439.89 1610.80 1439.06 1612.34 1438.36 1613.87 1437.82 1615.40 1437.50 1616.94 1437.44 1618.47 1437.57 1620.01 1437.83 1621.54 1438.22 1623.08 1438.70 1624.61 1439.26 1626.15 1439.88 1627.68 1440.54 1629.22 1441.23 1630.75 1441.99 1632.29 1442.97 1633.82 1444.13 1635.36 1445.46 1636.89 1446.92 1638.43 1448.49 1639.96 1450.13 1641.49 1451.82 1643.03 1453.53 1644.56 1455.36 1646.10 1457.34 1647.63 1459.46 1649.17 1461.71 1650.70 1464.05 1652.24 1466.49 1653.77 1469.00 1655.31 1471.56 1656.84 1474.19 1658.38 1476.95 1659.91 1479.83 1661.45 1482.83 1662.98 1485.93 1664.52 1489.11 1666.05 1492.37 1667.58 1495.70 1669.12 1499.08 1670.65 1502.56 1672.19 1506.14 1673.72 1509.83 1675.26 1513.61 1676.79 1517.47 1678.33 1521.41 1679.86 1525.41 1681.40 1529.46 1682.93 1533.57 1684.47 1537.78 1686.00 1542.07 1687.54 1546.44 1689.07 1550.89 1690.61 1555.40 1692.14 1559.96 1693.67 1564.58 1695.21 1569.22 1696.74 1573.93 1698.28 1578.72 1699.81 1583.58 1701.35 1588.49 1702.88 1593.45 1704.42 1598.45 1705.95 1603.48 1707.49 1608.52 1709.02 1613.59 1710.56 1618.73 1712.09 1623.92 1713.63 1629.16 1715.16 1634.41 1716.70 1639.67 1718.23 1644.91 1719.76 1650.11 1721.30 1655.25 1722.83 1660.49 1724.37 1665.91 1725.90 1671.40 1727.44 1676.86 1728.97 1682.17 1730.51 1687.22 1732.04 1691.91 1733.58 1696.13 1735.11 1699.88 1736.65 1703.70 1738.18 1707.57 1739.72 1711.32 1741.25 1714.78 1742.79 1717.78 1744.32 1720.16 1745.85 1721.74 1747.39 1722.36 1748.92 1722.16 1750.46 1721.52 1751.99 1720.53 1753.53 1719.28 1755.06 1717.85 1756.60 1716.32 1758.13 1714.77 1759.67 1713.01 1761.20 1710.85 1762.74 1708.38 1764.27 1705.69 1765.81 1702.90 1767.34 1700.08 1768.87 1697.34 1770.41 1694.58 1771.94 1691.72 1773.48 1688.79 1775.01 1685.81 1776.55 1682.82 1778.08 1679.85 1779.62 1676.92 1781.15 1673.99 1782.69 1671.06 1784.22 1668.12 1785.76 1665.20 1787.29 1662.30 1788.83 1659.45 1790.36 1656.65 1791.90 1653.87 1793.43 1651.12 1794.96 1648.40 1796.50 1645.72 1798.03 1643.08 1799.57 1640.51 1801.10 1638.01 1802.64 1635.55 1804.17 1633.12 1805.71 1630.74 1807.24 1628.42 1808.78 1626.17 1810.31 1623.99 1811.85 1621.89 1813.38 1619.84 1814.92 1617.83 1816.45 1615.88 1817.99 1614.01 1819.52 1612.21 1821.05 1610.50 1822.59 1608.89 1824.12 1607.32 1825.66 1605.80 1827.19 1604.34 1828.73 1602.96 1830.26 1601.68 1831.80 1600.51 1833.33 1599.44 1834.87 1598.40 1836.40 1597.39 1837.94 1596.46 1839.47 1595.61 1841.01 1594.89 1842.54 1594.32 1844.08 1593.88 1845.61 1593.46 1847.14 1593.07 1848.68 1592.73 1850.21 1592.46 1851.75 1592.27 1853.28 1592.18 1854.82 1592.20 1856.35 1592.30 1857.89 1592.47 1859.42 1592.70 1860.96 1592.98 1862.49 1593.30 1864.03 1593.65 1865.56 1594.01 1867.10 1594.39 1868.63 1594.86 1870.17 1595.44 1871.70 1596.12 1873.23 1596.88 1874.77 1597.70 1876.30 1598.56 1877.84 1599.46 1879.37 1600.37 1880.91 1601.32 1882.44 1602.36 1883.98 1603.48 1885.51 1604.66 1887.05 1605.91 1888.58 1607.20 1890.12 1608.54 1891.65 1609.90 1893.19 1611.30 1894.72 1612.77 1896.26 1614.30 1897.79 1615.90 1899.32 1617.55 1900.86 1619.26 1902.39 1621.00 1903.93 1622.78 1905.46 1624.59 1907.00 1626.45 1908.53 1628.37 1910.07 1630.35 1911.60 1632.38 1913.14 1634.45 1914.67 1636.56 1916.21 1638.71 1917.74 1640.89 1919.28 1643.10 1920.81 1645.36 1922.34 1647.67 1923.88 1650.03 1925.41 1652.42 1926.95 1654.85 1928.48 1657.31 1930.02 1659.79 1931.55 1662.30 1933.09 1664.85 1934.62 1667.43 1936.16 1670.06 1937.69 1672.71 1939.23 1675.39 1940.76 1678.10 1942.30 1680.82 1943.83 1683.55 1945.37 1686.31 1946.90 1689.10 1948.43 1691.92 1949.97 1694.77 1951.50 1697.62 1953.04 1700.48 1954.57 1703.34 1956.11 1706.19 1957.64 1709.02 1959.18 1711.96 1960.71 1714.97 1962.25 1718.01 1963.78 1721.00 1965.32 1723.90 1966.85 1726.66 1968.39 1729.21 1969.92 1731.50 1971.46 1733.74 1972.99 1736.08 1974.52 1738.41 1976.06 1740.62 1977.59 1742.60 1979.13 1744.23 1980.66 1745.41 1982.20 1746.01 1983.73 1745.99 1985.27 1745.50 1986.80 1744.60 1988.34 1743.33 1989.87 1741.72 1991.41 1739.80 1992.94 1737.61 1994.48 1735.18 1996.01 1732.55 1997.55 1729.75 1999.08 1726.83" stroke="#f00" stroke-dashoffset="37.1"/>
<path d="M1999.08 1726.83 2000.61 1723.80 2002.15 1720.71 2003.68 1717.60 2005.22 1714.48 2006.75 1711.42 2008.28 1708.42 2009.82 1705.54 2011.35 1702.80 2012.89 1700.24 2014.42 1697.80 2015.96 1695.32 2017.49 1692.77 2019.02 1690.18 2020.56 1687.56 2022.09 1684.90 2023.63 1682.21 2025.16 1679.51 2026.69 1676.80 2028.23 1674.08 2029.76 1671.37 2031.30 1668.68 2032.83 1666.00 2034.36 1663.35 2035.90 1660.74 2037.43 1658.17 2038.97 1655.64 2040.50 1653.18 2042.04 1650.78 2043.57 1648.45 2045.10 1646.20 2046.64 1644.03 2048.17 1641.97 2049.71 1640.00 2051.24 1638.14 2052.77 1636.33 2054.31 1634.55 2055.84 1632.80 2057.38 1631.06 2058.91 1629.36 2060.44 1627.67 2061.98 1626.01 2063.51 1624.37 2065.05 1622.75 2066.58 1621.16 2068.12 1619.59 2069.65 1618.04 2071.18 1616.51 2072.72 1615.01 2074.25 1613.53 2075.79 1612.07 2077.32 1610.63 2078.85 1609.21 2080.39 1607.82 2081.92 1606.44 2083.46 1605.09 2084.99 1603.76 2086.53 1602.45 2088.06 1601.16 2089.59 1599.89 2091.13 1598.64 2092.66 1597.41 2094.20 1596.20 2095.73 1595.02 2097.26 1593.85 2098.80 1592.70 2100.33 1591.57 2101.87 1590.47 2103.40 1589.38 2104.93 1588.31 2106.47 1587.26 2108.00 1586.23 2109.54 1585.21 2111.07 1584.22 2112.61 1583.24 2114.14 1582.26 2115.67 1581.29 2117.21 1580.33 2118.74 1579.38 2120.28 1578.43 2121.81 1577.49 2123.34 1576.56 2124.88 1575.64 2126.41 1574.73 2127.95 1573.83 2129.48 1572.94 2131.01 1572.05 2132.55 1571.18 2134.08 1570.32 2135.62 1569.46 2137.15 1568.62 2138.69 1567.79 2140.22 1566.97 2141.75 1566.16 2143.29 1565.36 2144.82 1564.57 2146.36 1563.80 2147.89 1563.04 2149.42 1562.29 2150.96 1561.55 2152.49 1560.83 2154.03 1560.12 2155.56 1559.42 2157.09 1558.73 2158.63 1558.06 2160.16 1557.41 2161.70 1556.77 2163.23 1556.14 2164.77 1555.53 2166.30 1554.93 2167.83 1554.35 2169.37 1553.78 2170.90 1553.23 2172.44 1552.69 2173.97 1552.17 2175.50 1551.67 2177.04 1551.19 2178.57 1550.72 2180.11 1550.26 2181.64 1549.79 2183.17 1549.32 2184.71 1548.84 2186.24 1548.36 2187.78 1547.89 2189.31 1547.42 2190.85 1546.97 2192.38 1546.54 2193.91 1546.13 2195.45 1545.74 2196.98 1545.39 2198.52 1545.07 2200.05 1544.78 2201.58 1544.54 2203.12 1544.35 2204.65 1544.21 2206.19 1544.12 2207.72 1544.10 2209.25 1544.12 2210.79 1544.20 2212.32 1544.32 2213.86 1544.47 2215.39 1544.67 2216.93 1544.90 2218.46 1545.15 2219.99 1545.43 2221.53 1545.74 2223.06 1546.06 2224.60 1546.40 2226.13 1546.75 2227.66 1547.11 2229.20 1547.48 2230.73 1547.84 2232.27 1548.21 2233.80 1548.58 2235.34 1548.97 2236.87 1549.38 2238.40 1549.82 2239.94 1550.28 2241.47 1550.77 2243.01 1551.27 2244.54 1551.81 2246.07 1552.36 2247.61 1552.93 2249.14 1553.53 2250.68 1554.15 2252.21 1554.78 2253.74 1555.44 2255.28 1556.12 2256.81 1556.81 2258.35 1557.53 2259.88 1558.26 2261.42 1559.02 2262.95 1559.78 2264.48 1560.57 2266.02 1561.37 2267.55 1562.19 2269.09 1563.03 2270.62 1563.88 2272.15 1564.75 2273.69 1565.63 2275.22 1566.53 2276.76 1567.44 2278.29 1568.36 2279.82 1569.30 2281.36 1570.25 2282.89 1571.21 2284.43 1572.18 2285.96 1573.17 2287.50 1574.16 2289.03 1575.17 2290.56 1576.19 2292.10 1577.22 2293.63 1578.25 2295.17 1579.30 2296.70 1580.35 2298.23 1581.42 2299.77 1582.49 2301.30 1583.58 2302.84 1584.72 2304.37 1585.92 2305.90 1587.17 2307.44 1588.47 2308.97 1589.82 2310.51 1591.22 2312.04 1592.66 2313.58 1594.14 2315.11 1595.66 2316.64 1597.22 2318.18 1598.81 2319.71 1600.43 2321.25 1602.09 2322.78 1603.77 2324.31 1605.48 2325.85 1607.21 2327.38 1608.96 2328.92 1610.74 2330.45 1612.52 2331.98 1614.33 2333.52 1616.14 2335.05 1617.97 2336.59 1619.80 2338.12 1621.64 2339.66 1623.48 2341.19 1625.32 2342.72 1627.16 2344.26 1628.99 2345.79 1630.83 2347.33 1632.65 2348.86 1634.46 2350.39 1636.26 2351.93 1638.04 2353.46 1639.82 2355.00 1641.61 2356.53 1643.45 2358.07 1645.31 2359.60 1647.20 2361.13 1649.11 2362.67 1651.05 2364.20 1653.01 2365.74 1654.99 2367.27 1656.97 2368.80 1658.98 2370.34 1660.99 2371.87 1663.01 2373.41 1665.03 2374.94 1667.05 2376.47 1669.07 2378.01 1671.09 2379.54 1673.10 2381.08 1675.10 2382.61 1677.09 2384.15 1679.07 2385.68 1681.03 2387.21 1682.96 2388.75 1684.88 2390.28 1686.77 2391.82 1688.63 2393.35 1690.46 2394.88 1692.26 2396.42 1694.02 2397.95 1695.75 2399.49 1697.43 2401.02 1699.07 2402.55 1700.67 2404.09 1702.28 2405.62 1703.89 2407.16 1705.51 2408.69 1707.13 2410.23 1708.74 2411.76 1710.36 2413.29 1711.97 2414.83 1713.57 2416.36 1715.17 2417.90 1716.75 2419.43 1718.33 2420.96 1719.88 2422.50 1721.42 2424.03 1722.95 2425.57 1724.45 2427.10 1725.93 2428.63 1727.38 2430.17 1728.80 2431.70 1730.20 2433.24 1731.57 2434.77 1732.90 2436.31 1734.20 2437.84 1735.46 2439.37 1736.68 2440.91 1737.86 2442.44 1739.00 2443.98 1740.09 2445.51 1741.13 2447.04 1742.12 2448.58 1743.07 2450.11 1743.95 2451.65 1744.79 2453.18 1745.57 2454.71 1746.37 2456.25 1747.17 2457.78 1747.97 2459.32 1748.76 2460.85 1749.52 2462.39 1750.23 2463.92 1750.88 2465.45 1751.47 2466.99 1751.96 2468.52 1752.36 2470.06 1752.65 2471.59 1752.81 2473.12 1752.83 2474.66 1752.66 2476.19 1752.31 2477.73 1751.78 2479.26 1751.09 2480.79 1750.25 2482.33 1749.27 2483.86 1748.16 2485.40 1746.94 2486.93 1745.61 2488.47 1744.19 2490.00 1742.69 2491.53 1741.13 2493.07 1739.50 2494.60 1737.83 2496.14 1736.13 2497.67 1734.41 2499.20 1732.67 2500.74 1730.94 2502.27 1729.22 2503.81 1727.53 2505.34 1725.87 2506.88 1724.27 2508.41 1722.72 2509.94 1721.25 2511.48 1719.86 2513.01 1718.56 2514.55 1717.38 2516.08 1716.31 2517.61 1715.37 2519.15 1714.58 2520.68 1713.94 2522.22 1713.40 2523.75 1712.86 2525.28 1712.32 2526.82 1711.79 2528.35 1711.26 2529.89 1710.75 2531.42 1710.25 2532.96 1709.76 2534.49 1709.29 2536.02 1708.84 2537.56 1708.40 2539.09 1707.99 2540.63 1707.60 2542.16 1707.24 2543.69 1706.90 2545.23 1706.60 2546.76 1706.32 2548.30 1706.08 2549.83 1705.88 2551.36 1705.71 2552.90 1705.58 2554.43 1705.49 2555.97 1705.44 2557.50 1705.44 2559.04 1705.49 2560.57 1705.57 2562.10 1705.69 2563.64 1705.85 2565.17 1706.05 2566.71 1706.27 2568.24 1706.53 2569.77 1706.81 2571.31 1707.12 2572.84 1707.44 2574.38 1707.79 2575.91 1708.15 2577.44 1708.53 2578.98 1708.92 2580.51 1709.32 2582.05 1709.73 2583.58 1710.14 2585.12 1710.55 2586.65 1710.96 2588.18 1711.38 2589.72 1711.78 2591.25 1712.18 2592.79 1712.60 2594.32 1713.05 2595.85 1713.54 2597.39 1714.05 2598.92 1714.58 2600.46 1715.14 2601.99 1715.73 2603.52 1716.33 2605.06 1716.96 2606.59 1717.62 2608.13 1718.28 2609.66 1718.97 2611.20 1719.68 2612.73 1720.40 2614.26 1721.14 2615.80 1721.89 2617.33 1722.65 2618.87 1723.42 2620.40 1724.20 2621.93 1725.00 2623.47 1725.79 2625.00 1726.60 2626.54 1727.41 2628.07 1728.23 2629.60 1729.05 2631.14 1729.87 2632.67 1730.69 2634.21 1731.51 2635.74 1732.33 2637.28 1733.14 2638.81 1733.96 2640.34 1734.76 2641.88 1735.56 2643.41 1736.36 2644.95 1737.14 2646.48 1737.91 2648.01 1738.68 2649.55 1739.43 2651.08 1740.16 2652.62 1740.89 2654.15 1741.59 2655.69 1742.28 2657.22 1742.95 2658.75 1743.61 2660.29 1744.24 2661.82 1744.85 2663.36 1745.43 2664.89 1746.00 2666.42 1746.53 2667.96 1747.04 2669.49 1747.53 2671.03 1748.01 2672.56 1748.51 2674.09 1749.01 2675.63 1749.52 2677.16 1750.03 2678.70 1750.55 2680.23 1751.06 2681.77 1751.58 2683.30 1752.08 2684.83 1752.58 2686.37 1753.08 2687.90 1753.56 2689.44 1754.02 2690.97 1754.47 2692.50 1754.91 2694.04 1755.32 2695.57 1755.71 2697.11 1756.08 2698.64 1756.42 2700.17 1756.73 2701.71 1757.01 2703.24 1757.26 2704.78 1757.47 2706.31 1757.64 2707.85 1757.77 2709.38 1757.87 2710.91 1757.91 2712.45 1757.91 2713.98 1757.86 2715.52 1757.74 2717.05 1757.58 2718.58 1757.39 2720.12 1757.18 2721.65 1756.97 2723.19 1756.76 2724.72 1756.58 2726.25 1756.43 2727.79 1756.32 2729.32 1756.25 2730.86 1756.23" stroke="#f00" stroke-dashoffset="35.5"/>
</g></g>
<rect x="1503.4" y="70.0" width="877.4" height="248.0" fill="#fff" stroke="#000" stroke-width="3.2"/>
<circle cx="1563.7" cy="105.7" r="11.3" fill="#515151"/>
<path d="M1509.0 164.5H1619.0" stroke="#000" stroke-width="11.0"/>
<path d="M1509.0 224.6H1619.0" stroke="#000" stroke-width="11.0" stroke-dasharray="35.0 44.6"/>
<path d="M1509.0 285.0H1619.0" stroke="#f00" stroke-width="11.0" stroke-dasharray="35.0 44.6"/>
<text><tspan x="1629.74" y="121.20" font-size="49.00" textLength="555.44" lengthAdjust="spacingAndGlyphs">experiment data from Davies</tspan><tspan x="2183.76" y="118.30" font-size="40.10" textLength="43.90" lengthAdjust="spacingAndGlyphs">（</tspan><tspan x="2233.89" y="121.20" font-size="49.00" textLength="92.98" lengthAdjust="spacingAndGlyphs">1984</tspan><tspan x="2331.92" y="118.30" font-size="40.10" textLength="47.67" lengthAdjust="spacingAndGlyphs">）</tspan></text>
<text><tspan x="1630.73" y="181.00" font-size="49.00" textLength="265.81" lengthAdjust="spacingAndGlyphs">present model</tspan></text>
<text><tspan x="1628.60" y="241.20" font-size="49.00" textLength="100.55" lengthAdjust="spacingAndGlyphs">MSE</tspan></text>
<text><tspan x="1628.59" y="301.00" font-size="49.00" textLength="92.90" lengthAdjust="spacingAndGlyphs">Mile</tspan><tspan x="1718.47" y="298.10" font-size="40.10" textLength="45.27" lengthAdjust="spacingAndGlyphs">（</tspan><tspan x="1768.87" y="301.00" font-size="49.00" textLength="93.35" lengthAdjust="spacingAndGlyphs">1998</tspan><tspan x="1867.92" y="298.10" font-size="40.10" textLength="47.67" lengthAdjust="spacingAndGlyphs">）</tspan></text>
<path d="M263.4 70.0H2423.1" stroke="#000" stroke-width="8.0" fill="none"/>
<text transform="scale(0.955,1)" x="140.19 178.18 214.54" y="1791.0" font-size="74.00">0.0</text>
<text transform="scale(0.955,1)" x="140.19 178.18 215.05" y="1452.4" font-size="74.00">0.2</text>
<text transform="scale(0.955,1)" x="140.19 178.18 214.54" y="1113.8" font-size="74.00">0.4</text>
<text transform="scale(0.955,1)" x="140.19 178.18 214.02" y="775.2" font-size="74.00">0.6</text>
<text transform="scale(0.955,1)" x="140.19 178.18 214.54" y="436.6" font-size="74.00">0.8</text>
<text transform="scale(0.955,1)" x="140.21 178.18 214.54" y="98.0" font-size="74.00">1.0</text>
<text transform="scale(0.955,1)" x="255.32 293.32 329.67" y="1879.6" font-size="74.00">0.0</text>
<text transform="scale(0.955,1)" x="693.54 731.54 767.37" y="1879.6" font-size="74.00">0.5</text>
<text transform="scale(0.955,1)" x="1131.78 1169.76 1206.11" y="1879.6" font-size="74.00">1.0</text>
<text transform="scale(0.955,1)" x="1570.00 1607.98 1643.81" y="1879.6" font-size="74.00">1.5</text>
<text transform="scale(0.955,1)" x="2008.72 2046.20 2082.55" y="1879.6" font-size="74.00">2.0</text>
<text transform="scale(0.955,1)" x="2446.94 2484.41 2520.25" y="1879.6" font-size="74.00">2.5</text>
<text x="1262.01" y="2000.90" font-size="80.00" textLength="159.79" lengthAdjust="spacingAndGlyphs">2k/K</text>
<text transform="translate(97.10 1250.20) rotate(-90)" x="0" y="0" font-size="80.00" textLength="666.33" lengthAdjust="spacingAndGlyphs">reflection coefficient</text>
<text><tspan x="1285.64" y="2182.30" font-size="84.30" textLength="25.94" lengthAdjust="spacingAndGlyphs">(</tspan><tspan x="1311.90" y="2182.30" font-size="88.00" font-weight="bold" textLength="50.28" lengthAdjust="spacingAndGlyphs">b</tspan><tspan x="1363.40" y="2182.30" font-size="84.30" textLength="25.94" lengthAdjust="spacingAndGlyphs">)</tspan></text>
</g>
<g id="panel-c">
<clipPath id="cc"><rect x="283.5" y="2350.5" width="2076.0" height="1684.9"/></clipPath>
<path d="M491.5 2350.5V4035.4M906.5 2350.5V4035.4M1321.5 2350.5V4035.4M1736.5 2350.5V4035.4M2151.5 2350.5V4035.4M283.5 3866.5H2359.5M283.5 3529.5H2359.5M283.5 3192.5H2359.5M283.5 2855.5H2359.5M283.5 2518.5H2359.5" stroke="#c3c3c3" stroke-width="1.2" stroke-dasharray="7.6 5.7" fill="none"/>
<path d="M698.5 2350.5V4035.4M1113.5 2350.5V4035.4M1529.5 2350.5V4035.4M1944.5 2350.5V4035.4M283.5 3698.5H2359.5M283.5 3361.5H2359.5M283.5 3024.5H2359.5M283.5 2687.5H2359.5" stroke="#808080" stroke-width="3" fill="none"/>
<g fill="#515151"><circle cx="721.0" cy="3852.8" r="11.2"/><circle cx="717.3" cy="3868.7" r="11.2"/><circle cx="725.3" cy="3863.0" r="11.2"/><circle cx="729.9" cy="3875.6" r="11.2"/><circle cx="733.8" cy="3888.1" r="11.2"/><circle cx="713.1" cy="3900.3" r="11.2"/><circle cx="738.4" cy="3909.7" r="11.2"/><circle cx="768.0" cy="3900.0" r="11.2"/><circle cx="762.9" cy="3907.4" r="11.2"/><circle cx="773.1" cy="3915.4" r="11.2"/><circle cx="778.0" cy="3931.0" r="11.2"/><circle cx="752.4" cy="3942.8" r="11.2"/><circle cx="843.4" cy="3854.8" r="11.2"/><circle cx="810.7" cy="3907.2" r="11.2"/><circle cx="814.1" cy="3921.0" r="11.2"/><circle cx="807.9" cy="3934.0" r="11.2"/><circle cx="840.1" cy="3892.0" r="11.2"/><circle cx="743.0" cy="3969.5" r="11.2"/><circle cx="748.1" cy="4008.0" r="11.2"/><circle cx="785.6" cy="3975.6" r="11.2"/><circle cx="798.4" cy="3985.0" r="11.2"/><circle cx="833.5" cy="3986.9" r="11.2"/><circle cx="824.4" cy="3954.3" r="11.2"/><circle cx="835.8" cy="3954.8" r="11.2"/><circle cx="822.7" cy="3974.5" r="11.2"/><circle cx="795.6" cy="3952.8" r="11.2"/><circle cx="924.9" cy="3959.8" r="11.2"/><circle cx="953.5" cy="3981.8" r="11.2"/><circle cx="944.2" cy="3942.5" r="11.2"/><circle cx="931.1" cy="3947.0" r="11.2"/><circle cx="877.2" cy="3963.6" r="11.2"/><circle cx="851.4" cy="3811.4" r="11.2"/><circle cx="861.6" cy="3802.3" r="11.2"/><circle cx="858.0" cy="3788.0" r="11.2"/><circle cx="885.0" cy="3826.0" r="11.2"/><circle cx="866.0" cy="3849.9" r="11.2"/><circle cx="915.2" cy="3850.1" r="11.2"/><circle cx="965.3" cy="3837.0" r="11.2"/><circle cx="881.7" cy="3897.0" r="11.2"/><circle cx="869.1" cy="3914.0" r="11.2"/><circle cx="920.1" cy="3912.3" r="11.2"/><circle cx="939.1" cy="3918.5" r="11.2"/><circle cx="958.5" cy="3920.7" r="11.2"/><circle cx="898.1" cy="3708.2" r="11.2"/><circle cx="894.1" cy="3723.9" r="11.2"/><circle cx="902.1" cy="3720.1" r="11.2"/><circle cx="906.6" cy="3750.9" r="11.2"/><circle cx="889.3" cy="3771.0" r="11.2"/><circle cx="911.2" cy="3791.1" r="11.2"/><circle cx="975.5" cy="3694.8" r="11.2"/><circle cx="970.4" cy="3758.8" r="11.2"/><circle cx="1004.6" cy="3761.4" r="11.2"/><circle cx="984.6" cy="3654.7" r="11.2"/><circle cx="992.5" cy="3649.7" r="11.2"/><circle cx="998.2" cy="3687.7" r="11.2"/><circle cx="1029.0" cy="3716.2" r="11.2"/><circle cx="1022.1" cy="3834.6" r="11.2"/><circle cx="1010.8" cy="3851.7" r="11.2"/><circle cx="1240.8" cy="3732.1" r="11.2"/><circle cx="1252.2" cy="3733.3" r="11.2"/><circle cx="1197.5" cy="3771.0" r="11.2"/><circle cx="1208.9" cy="3768.4" r="11.2"/><circle cx="1179.0" cy="3797.8" r="11.2"/><circle cx="1300.2" cy="3765.8" r="11.2"/><circle cx="1287.6" cy="3797.7" r="11.2"/><circle cx="1263.6" cy="3846.1" r="11.2"/><circle cx="1228.5" cy="3831.0" r="11.2"/><circle cx="1220.6" cy="3849.8" r="11.2"/><circle cx="1312.9" cy="3853.0" r="11.2"/><circle cx="1382.7" cy="3886.8" r="11.2"/><circle cx="1367.7" cy="3910.0" r="11.2"/><circle cx="1397.8" cy="3908.6" r="11.2"/><circle cx="1187.0" cy="3917.3" r="11.2"/><circle cx="1275.5" cy="3935.8" r="11.2"/><circle cx="1325.5" cy="3927.0" r="11.2"/><circle cx="1463.0" cy="3950.6" r="11.2"/><circle cx="1340.8" cy="3967.8" r="11.2"/><circle cx="1353.0" cy="3974.8" r="11.2"/><circle cx="1446.3" cy="3972.5" r="11.2"/><circle cx="1429.3" cy="3979.1" r="11.2"/><circle cx="1413.0" cy="3996.5" r="11.2"/><circle cx="1481.4" cy="3901.9" r="11.2"/><circle cx="1577.2" cy="3935.5" r="11.2"/><circle cx="1498.7" cy="3971.1" r="11.2"/><circle cx="1517.2" cy="3982.7" r="11.2"/><circle cx="1557.0" cy="3969.2" r="11.2"/><circle cx="1537.1" cy="4014.7" r="11.2"/><circle cx="1622.3" cy="3956.9" r="11.2"/><circle cx="1599.2" cy="3981.1" r="11.2"/><circle cx="1668.6" cy="3967.9" r="11.2"/><circle cx="1693.5" cy="3972.9" r="11.2"/><circle cx="1802.8" cy="3972.2" r="11.2"/><circle cx="1897.0" cy="3958.0" r="11.2"/><circle cx="1931.2" cy="3982.8" r="11.2"/><circle cx="1644.4" cy="4004.2" r="11.2"/><circle cx="1720.2" cy="3999.9" r="11.2"/><circle cx="1745.8" cy="4001.4" r="11.2"/><circle cx="1773.6" cy="4006.7" r="11.2"/><circle cx="1832.3" cy="4009.5" r="11.2"/><circle cx="1864.3" cy="4011.3" r="11.2"/><circle cx="1966.7" cy="4006.7" r="11.2"/><circle cx="2003.2" cy="4011.3" r="11.2"/><circle cx="2042.3" cy="3997.8" r="11.2"/><circle cx="2082.2" cy="4004.9" r="11.2"/><circle cx="2124.2" cy="3981.5" r="11.2"/><circle cx="2168.3" cy="3984.6" r="11.2"/><circle cx="2214.2" cy="3968.0" r="11.2"/><circle cx="2262.0" cy="3982.5" r="11.2"/><circle cx="2312.8" cy="4018.7" r="11.2"/><circle cx="1084.6" cy="2847.6" r="11.2"/><circle cx="1100.6" cy="2920.6" r="11.2"/><circle cx="1092.8" cy="2971.1" r="11.2"/><circle cx="1108.5" cy="3015.9" r="11.2"/><circle cx="1116.7" cy="3043.3" r="11.2"/><circle cx="1077.5" cy="3066.5" r="11.2"/><circle cx="1124.8" cy="3132.5" r="11.2"/><circle cx="1071.1" cy="3146.7" r="11.2"/><circle cx="1149.8" cy="3161.0" r="11.2"/><circle cx="1134.4" cy="3171.0" r="11.2"/><circle cx="1063.3" cy="3240.9" r="11.2"/><circle cx="1160.1" cy="3254.4" r="11.2"/><circle cx="1056.2" cy="3320.2" r="11.2"/><circle cx="1049.0" cy="3411.2" r="11.2"/><circle cx="1170.0" cy="3476.0" r="11.2"/><circle cx="1042.6" cy="3498.1" r="11.2"/><circle cx="1035.5" cy="3596.4" r="11.2"/></g>
<path d="M249.9 4035.4H2393.1M283.5 2350.5V4069.0M266.5 3866.9H283.5M2359.5 3866.9H2376.5M249.9 3698.4H283.5M2359.5 3698.4H2393.1M266.5 3529.9H283.5M2359.5 3529.9H2376.5M249.9 3361.4H283.5M2359.5 3361.4H2393.1M266.5 3192.9H283.5M2359.5 3192.9H2376.5M249.9 3024.5H283.5M2359.5 3024.5H2393.1M266.5 2856.0H283.5M2359.5 2856.0H2376.5M249.9 2687.5H283.5M2359.5 2687.5H2393.1M266.5 2519.0H283.5M2359.5 2519.0H2376.5M491.1 4035.4V4052.4M491.1 2350.5V2367.5M698.7 4035.4V4069.0M698.7 2350.5V2384.1M906.3 4035.4V4052.4M906.3 2350.5V2367.5M1113.9 4035.4V4069.0M1113.9 2350.5V2384.1M1321.5 4035.4V4052.4M1321.5 2350.5V2367.5M1529.1 4035.4V4069.0M1529.1 2350.5V2384.1M1736.7 4035.4V4052.4M1736.7 2350.5V2367.5M1944.3 4035.4V4069.0M1944.3 2350.5V2384.1M2151.9 4035.4V4052.4M2151.9 2350.5V2367.5" stroke="#000" stroke-width="7.0" fill="none"/>
<path d="M2359.5 2350.5V4069.0" stroke="#000" stroke-width="7" fill="none"/>
<g clip-path="url(#cc)" fill="none" stroke-linejoin="round">
<path transform="scale(0.84,1)" d="M434.96 4036.00 436.54 4034.44 438.12 4032.90 439.71 4031.36 441.29 4029.84 442.88 4028.32 444.46 4026.81 446.04 4025.33 447.63 4023.87 449.21 4022.44 450.79 4021.03 452.38 4019.66 453.96 4018.32 455.55 4017.01 457.13 4015.75 458.71 4014.53 460.30 4013.35 461.88 4012.22 463.46 4011.15 465.05 4010.12 466.63 4009.14 468.22 4008.23 469.80 4007.37 471.38 4006.56 472.97 4005.83 474.55 4005.16 476.13 4004.54 477.72 4004.00 479.30 4003.54 480.89 4003.11 482.47 4002.76 484.05 4002.52 485.64 4002.35 487.22 4002.20 488.81 4002.13 490.39 4002.15 491.97 4002.29 493.56 4002.49 495.14 4002.76 496.72 4003.19 498.31 4003.69 499.89 4004.28 501.48 4004.97 503.06 4005.74 504.64 4006.60 506.23 4007.55 507.81 4008.56 509.39 4009.66 510.98 4010.83 512.56 4012.06 514.15 4013.35 515.73 4014.70 517.31 4016.09 518.90 4017.54 520.48 4019.00 522.06 4020.48 523.65 4021.99 525.23 4023.46 526.82 4024.90 528.40 4026.33 529.98 4027.45 531.57 4028.30 533.15 4029.00 534.73 4029.25 536.32 4028.58 537.90 4027.16 539.49 4025.49 541.07 4023.66 542.65 4021.40 544.24 4019.02 545.82 4016.76 547.41 4014.47 548.99 4012.19 550.57 4009.97 552.16 4007.79 553.74 4005.65 555.32 4003.59 556.91 4001.59 558.49 3999.66 560.08 3997.82 561.66 3996.07 563.24 3994.39 564.83 3992.82 566.41 3991.36 567.99 3989.98 569.58 3988.72 571.16 3987.58 572.75 3986.53 574.33 3985.60 575.91 3984.82 577.50 3984.12 579.08 3983.53 580.66 3983.15 582.25 3982.87 583.83 3982.65 585.42 3982.57 587.00 3982.67 588.58 3982.90 590.17 3983.21 591.75 3983.67 593.33 3984.34 594.92 3985.09 596.50 3985.98 598.09 3987.03 599.67 3988.17 601.25 3989.43 602.84 3990.83 604.42 3992.32 606.01 3993.92 607.59 3995.63 609.17 3997.41 610.76 3999.28 612.34 4001.23 613.92 4003.21 615.51 4005.27 617.09 4007.35 618.68 4009.42 620.26 4011.51 621.84 4013.55 623.43 4015.45 625.01 4017.35 626.59 4018.98 628.18 4020.08 629.76 4021.02 631.35 4021.60 632.93 4021.48 634.51 4020.37 636.10 4018.69 637.68 4016.85 639.26 4014.36 640.85 4011.41 642.43 4008.47 644.02 4005.52 645.60 4002.48 647.18 3999.46 648.77 3996.50 650.35 3993.56 651.93 3990.69 653.52 3987.92 655.10 3985.21 656.69 3982.61 658.27 3980.14 659.85 3977.77 661.44 3975.51 663.02 3973.42 664.61 3971.44 666.19 3969.60 667.77 3967.94 669.36 3966.42 670.94 3965.03 672.52 3963.84 674.11 3962.81 675.69 3961.89 677.28 3961.20 678.86 3960.77 680.44 3960.41 682.03 3960.19 683.61 3960.19 685.19 3960.44 686.78 3960.84 688.36 3961.36 689.95 3962.19 691.53 3963.25 693.11 3964.42 694.70 3965.84 696.28 3967.44 697.86 3969.19 699.45 3971.15 701.03 3973.27 702.62 3975.53 704.20 3977.97 705.78 3980.55 707.37 3983.24 708.95 3986.08 710.53 3989.02 712.12 3992.04 713.70 3995.16 715.29 3998.31 716.87 4001.49 718.45 4004.72 720.04 4007.81 721.62 4010.89 723.21 4013.87 724.79 4016.19 726.37 4017.96 727.96 4019.41 729.54 4019.99 731.12 4019.05 732.71 4016.87 734.29 4014.20 735.88 4011.22 737.46 4007.34 739.04 4003.13 740.63 3999.09 742.21 3994.97 743.79 3990.81 745.38 3986.75 746.96 3982.74 748.55 3978.80 750.13 3974.97 751.71 3971.27 753.30 3967.67 754.88 3964.22 756.46 3960.94 758.05 3957.78 759.63 3954.80 761.22 3952.03 762.80 3949.41 764.38 3946.97 765.97 3944.78 767.55 3942.75 769.13 3940.91 770.72 3939.33 772.30 3937.97 773.89 3936.74 775.47 3935.81 777.05 3935.23 778.64 3934.74 780.22 3934.43 781.81 3934.40 783.39 3934.71 784.97 3935.23 786.56 3935.90 788.14 3937.01 789.72 3938.40 791.31 3939.96 792.89 3941.85 794.48 3943.97 796.06 3946.30 797.64 3948.90 799.23 3951.71 800.81 3954.70 802.39 3957.93 803.98 3961.30 805.56 3964.83 807.15 3968.53 808.73 3972.31 810.31 3976.19 811.90 3980.15 813.48 3984.05 815.06 3988.01 816.65 3991.84 818.23 3995.38 819.82 3998.90 821.40 4001.86 822.98 4003.83 824.57 4005.48 826.15 4006.44 827.73 4006.11 829.32 4004.39 830.90 4001.91 832.49 3999.15 834.07 3995.28 835.65 3990.68 837.24 3986.04 838.82 3981.32 840.41 3976.40 841.99 3971.49 843.57 3966.66 845.16 3961.82 846.74 3957.08 848.32 3952.49 849.91 3947.99 851.49 3943.64 853.08 3939.50 854.66 3935.52 856.24 3931.71 857.83 3928.15 859.41 3924.81 860.99 3921.65 862.58 3918.77 864.16 3916.17 865.75 3913.75 867.33 3911.61 868.91 3909.83 870.50 3908.19 872.08 3906.83 873.66 3905.94 875.25 3905.27 876.83 3904.76 878.42 3904.54 880.00 3904.71 881.58 3905.19 883.17 3905.84 884.75 3906.72 886.33 3908.08 887.92 3909.71 889.50 3911.51 891.09 3913.67 892.67 3916.10 894.25 3918.71 895.84 3921.63 897.42 3924.78 899.01 3928.11 900.59 3931.69 902.17 3935.47 903.76 3939.38 905.34 3943.47 906.92 3947.71 908.51 3952.02 910.09 3956.43 911.68 3960.91 913.26 3965.32 914.84 3969.73 916.43 3974.09 918.01 3978.14 919.59 3981.98 921.18 3985.66 922.76 3988.53 924.35 3990.48 925.93 3992.16 927.51 3993.11 929.10 3992.72 930.68 3990.58 932.26 3987.48 933.85 3983.93 935.43 3978.82 937.02 3972.83 938.60 3966.85 940.18 3960.59 941.77 3954.08 943.35 3947.63 944.93 3941.21 946.52 3934.80 948.10 3928.57 949.69 3922.50 951.27 3916.57 952.85 3910.89 954.44 3905.47 956.02 3900.25 957.61 3895.35 959.19 3890.79 960.77 3886.46 962.36 3882.49 963.94 3878.93 965.52 3875.63 967.11 3872.70 968.69 3870.26 970.28 3868.04 971.86 3866.21 973.44 3865.02 975.03 3864.13 976.61 3863.48 978.19 3863.25 979.78 3863.57 981.36 3864.29 982.95 3865.20 984.53 3866.60 986.11 3868.60 987.70 3870.87 989.28 3873.51 990.86 3876.63 992.45 3880.03 994.03 3883.78 995.62 3887.93 997.20 3892.34 998.78 3897.06 1000.37 3902.09 1001.95 3907.32 1003.53 3912.78 1005.12 3918.47 1006.70 3924.25 1008.29 3930.16 1009.87 3936.15 1011.45 3942.05 1013.04 3947.93 1014.62 3953.71 1016.21 3958.99 1017.79 3964.07 1019.37 3968.74 1020.96 3972.08 1022.54 3974.54 1024.12 3976.46 1025.71 3977.17 1027.29 3975.68 1028.88 3972.27 1030.46 3968.03 1032.04 3962.77 1033.63 3955.52 1035.21 3947.54 1036.79 3939.65 1038.38 3931.25 1039.96 3922.63 1041.55 3914.16 1043.13 3905.65 1044.71 3897.21 1046.30 3889.02 1047.88 3881.01 1049.46 3873.20 1051.05 3865.74 1052.63 3858.60 1054.22 3851.73 1055.80 3845.29 1057.38 3839.27 1058.97 3833.58 1060.55 3828.35 1062.13 3823.66 1063.72 3819.29 1065.30 3815.42 1066.89 3812.19 1068.47 3809.24 1070.05 3806.79 1071.64 3805.19 1073.22 3804.00 1074.80 3803.10 1076.39 3802.74 1077.97 3803.11 1079.56 3804.03 1081.14 3805.24 1082.72 3807.08 1084.31 3809.72 1085.89 3812.74 1087.48 3816.27 1089.06 3820.42 1090.64 3824.94 1092.23 3829.96 1093.81 3835.49 1095.39 3841.35 1096.98 3847.63 1098.56 3854.30 1100.15 3861.20 1101.73 3868.43 1103.31 3875.89 1104.90 3883.42 1106.48 3891.12 1108.06 3898.83 1109.65 3906.33 1111.23 3913.81 1112.82 3920.94 1114.40 3927.33 1115.98 3933.53 1117.57 3938.73 1119.15 3942.11 1120.73 3944.87 1122.32 3946.61 1123.90 3946.25 1125.49 3942.50 1127.07 3936.59 1128.65 3929.94 1130.24 3920.83 1131.82 3909.32 1133.40 3897.22 1134.99 3885.20 1136.57 3872.42 1138.16 3859.43 1139.74 3846.68 1141.32 3833.87 1142.91 3821.18 1144.49 3808.85 1146.08 3796.79 1147.66 3785.02 1149.24 3773.72 1150.83 3762.92 1152.41 3752.50 1153.99 3742.64 1155.58 3733.45 1157.16 3724.71 1158.75 3716.56 1160.33 3709.22 1161.91 3702.42 1163.50 3696.19 1165.08 3690.82 1166.66 3686.21 1168.25 3682.00 1169.83 3678.69 1171.42 3676.60 1173.00 3674.89 1174.58 3673.68 1176.17 3673.31 1177.75 3674.06 1179.33 3675.58 1180.92 3677.56 1182.50 3680.87 1184.09 3685.10 1185.67 3689.88 1187.25 3695.69 1188.84 3702.16 1190.42 3709.31 1192.00 3717.24 1193.59 3725.64 1195.17 3734.66 1196.76 3744.16 1198.34 3753.93 1199.92 3764.10 1201.51 3774.37 1203.09 3784.65 1204.68 3794.96 1206.26 3804.82 1207.84 3814.40 1209.43 3823.40 1211.01 3831.22 1212.59 3838.54 1214.18 3844.26 1215.76 3847.82 1217.35 3850.61 1218.93 3851.79 1220.51 3849.44 1222.10 3842.81 1223.68 3832.60 1225.26 3819.51 1226.85 3804.25 1228.43 3787.54 1230.02 3767.29 1231.60 3735.55 1233.18 3701.56 1234.77 3671.05 1236.35 3640.36 1237.93 3609.83 1239.52 3579.86 1241.10 3550.85 1242.69 3523.20 1244.27 3497.01 1245.85 3471.90 1247.44 3447.45 1249.02 3423.26 1250.60 3398.91 1252.19 3373.99 1253.77 3348.09 1255.36 3321.17 1256.94 3293.70 1258.52 3266.14 1260.11 3239.00 1261.69 3212.77 1263.28 3187.91 1264.86 3164.25 1266.44 3141.55 1268.03 3119.76 1269.61 3098.31 1271.19 3076.85 1272.78 3056.28 1274.36 3037.55 1275.95 3021.59 1277.53 3008.89 1279.11 2997.46 1280.70 2984.75 1282.28 2970.04 1283.86 2954.72 1285.45 2940.23 1287.03 2926.24 1288.62 2912.58 1290.20 2900.37 1291.78 2890.55 1293.37 2881.92 1294.95 2874.22 1296.53 2867.70 1298.12 2862.60 1299.70 2858.32 1301.29 2854.13 1302.87 2850.09 1304.45 2846.24 1306.04 2842.64 1307.62 2839.33 1309.20 2836.37 1310.79 2833.80 1312.37 2831.67 1313.96 2830.03 1315.54 2828.94 1317.12 2828.44 1318.71 2828.56 1320.29 2829.25 1321.88 2830.47 1323.46 2832.19 1325.04 2834.36 1326.63 2836.95 1328.21 2839.92 1329.79 2843.23 1331.38 2846.86 1332.96 2850.75 1334.55 2854.87 1336.13 2859.19 1337.71 2863.75 1339.30 2870.31 1340.88 2878.86 1342.46 2888.40 1344.05 2898.17 1345.63 2909.08 1347.22 2920.87 1348.80 2932.87 1350.38 2944.43 1351.97 2955.33 1353.55 2966.19 1355.13 2977.69 1356.72 2990.56 1358.30 3005.67 1359.89 3022.06 1361.47 3038.53 1363.05 3055.26 1364.64 3072.46 1366.22 3090.38 1367.80 3109.26 1369.39 3129.56 1370.97 3151.77 1372.56 3174.90 1374.14 3197.91 1375.72 3220.78 1377.31 3243.79 1378.89 3266.94 1380.48 3290.23 1382.06 3313.67 1383.64 3337.24 1385.23 3360.96 1386.81 3384.53 1388.39 3407.81 1389.98 3431.13 1391.56 3454.81 1393.15 3479.20 1394.73 3504.61 1396.31 3531.37 1397.90 3560.26 1399.48 3591.18 1401.06 3623.28 1402.65 3655.71 1404.23 3687.61 1405.82 3719.07 1407.40 3750.88 1408.98 3779.62 1410.57 3804.90 1412.15 3828.33 1413.73 3848.91 1415.32 3866.04 1416.90 3882.80 1418.49 3899.44 1420.07 3915.15 1421.65 3929.10 1423.24 3940.46 1424.82 3948.39 1426.40 3952.08 1427.99 3951.29 1429.57 3947.99 1431.16 3943.61 1432.74 3936.57 1434.32 3928.16 1435.91 3919.22 1437.49 3909.42 1439.08 3899.56 1440.66 3889.47 1442.24 3879.54 1443.83 3869.82 1445.41 3860.41 1446.99 3851.51 1448.58 3843.04 1450.16 3835.26 1451.75 3828.03 1453.33 3821.56 1454.91 3815.83 1456.50 3810.81 1458.08 3806.77 1459.66 3803.29 1461.25 3801.05 1462.83 3799.58 1464.42 3798.74 1466.00 3798.85 1467.58 3799.46 1469.17 3800.40 1470.75 3801.51 1472.33 3803.03 1473.92 3805.22 1475.50 3807.83 1477.09 3810.63 1478.67 3813.85 1480.25 3817.55 1481.84 3821.60 1483.42 3825.88 1485.00 3830.60 1486.59 3835.71 1488.17 3841.11 1489.76 3846.76 1491.34 3852.81 1492.92 3859.16 1494.51 3865.74 1496.09 3872.58 1497.68 3879.73 1499.26 3887.10 1500.84 3894.63 1502.43 3902.39 1504.01 3910.36 1505.59 3918.45 1507.18 3926.58 1508.76 3934.91 1510.35 3943.28 1511.93 3951.48 1513.51 3959.63 1515.10 3968.06 1516.68 3975.88 1518.26 3982.16 1519.85 3987.43 1521.43 3992.34 1523.02 3995.78 1524.60 3996.70 1526.18 3995.84 1527.77 3994.29 1529.35 3992.26 1530.93 3989.14 1532.52 3985.63 1534.10 3981.87 1535.69 3977.77 1537.27 3973.64 1538.85 3969.42 1540.44 3965.21 1542.02 3961.11 1543.60 3957.09 1545.19 3953.25 1546.77 3949.58 1548.36 3946.12 1549.94 3942.92 1551.52 3939.94 1553.11 3937.29 1554.69 3934.90 1556.28 3932.79 1557.86 3931.08 1559.44 3929.58 1561.03 3928.52 1562.61 3927.87 1564.19 3927.40 1565.78 3927.31 1567.36 3927.52 1568.95 3927.92 1570.53 3928.43 1572.11 3929.07 1573.70 3930.04 1575.28 3931.25 1576.86 3932.56 1578.45 3934.05 1580.03 3935.79 1581.62 3937.70 1583.20 3939.72 1584.78 3941.96 1586.37 3944.39 1587.95 3946.95 1589.53 3949.65 1591.12 3952.53 1592.70 3955.55 1594.29 3958.68 1595.87 3961.96 1597.45 3965.37 1599.04 3968.87 1600.62 3972.45 1602.20 3976.15 1603.79 3979.92 1605.37 3983.72 1606.96 3987.58 1608.54 3991.49 1610.12 3995.35 1611.71 3999.08 1613.29 4002.96 1614.88 4006.65 1616.46 4009.67 1618.04 4012.02 1619.63 4014.23 1621.21 4015.81 1622.79 4016.27 1624.38 4015.83 1625.96 4015.01 1627.55 4013.93 1629.13 4012.28 1630.71 4010.43 1632.30 4008.44 1633.88 4006.29 1635.46 4004.13 1637.05 4001.92 1638.63 3999.74 1640.22 3997.61 1641.80 3995.52 1643.38 3993.55 1644.97 3991.65 1646.55 3989.89 1648.13 3988.25 1649.72 3986.74 1651.30 3985.41 1652.89 3984.21 1654.47 3983.19 1656.05 3982.34 1657.64 3981.63 1659.22 3981.20 1660.80 3980.89 1662.39 3980.72 1663.97 3980.76 1665.56 3980.91 1667.14 3981.13 1668.72 3981.39 1670.31 3981.76 1671.89 3982.28 1673.48 3982.90 1675.06 3983.55 1676.64 3984.32 1678.23 3985.19 1679.81 3986.14 1681.39 3987.15 1682.98 3988.26 1684.56 3989.46 1686.15 3990.73 1687.73 3992.06 1689.31 3993.47 1690.90 3994.97 1692.48 3996.51 1694.06 3998.11 1695.65 3999.79 1697.23 4001.52 1698.82 4003.29 1700.40 4005.11 1701.98 4006.98 1703.57 4008.87 1705.15 4010.78 1706.73 4012.73 1708.32 4014.69 1709.90 4016.61 1711.49 4018.54 1713.07 4020.51 1714.65 4022.33 1716.24 4023.75 1717.82 4025.01 1719.40 4026.15 1720.99 4026.90 1722.57 4027.05 1724.16 4026.80 1725.74 4026.38 1727.32 4025.85 1728.91 4025.04 1730.49 4024.14 1732.08 4023.20 1733.66 4022.17 1735.24 4021.14 1736.83 4020.09 1738.41 4019.04 1739.99 4018.02 1741.58 4017.02 1743.16 4016.06 1744.75 4015.15 1746.33 4014.28 1747.91 4013.47 1749.50 4012.72 1751.08 4012.03 1752.66 4011.42 1754.25 4010.86 1755.83 4010.39 1757.42 4010.00 1759.00 4009.66 1760.58 4009.45 1762.17 4009.31 1763.75 4009.21 1765.33 4009.22 1766.92 4009.30 1768.50 4009.43 1770.09 4009.59 1771.67 4009.84 1773.25 4010.17 1774.84 4010.54 1776.42 4010.97 1778.00 4011.48 1779.59 4012.02 1781.17 4012.62 1782.76 4013.29 1784.34 4014.00 1785.92 4014.76 1787.51 4015.57 1789.09 4016.43 1790.68 4017.33 1792.26 4018.27 1793.84 4019.25 1795.43 4020.26 1797.01 4021.31 1798.59 4022.38 1800.18 4023.48 1801.76 4024.59 1803.35 4025.73 1804.93 4026.85 1806.51 4027.99 1808.10 4029.14 1809.68 4030.15 1811.26 4030.94 1812.85 4031.69 1814.43 4032.20 1816.02 4032.28 1817.60 4032.16 1819.18 4031.97 1820.77 4031.75 1822.35 4031.41 1823.93 4031.01 1825.52 4030.61 1827.10 4030.17 1828.69 4029.71 1830.27 4029.27 1831.85 4028.81 1833.44 4028.36 1835.02 4027.92 1836.60 4027.49 1838.19 4027.08 1839.77 4026.69 1841.36 4026.31 1842.94 4025.96 1844.52 4025.63 1846.11 4025.33 1847.69 4025.05 1849.27 4024.80 1850.86 4024.57 1852.44 4024.38 1854.03 4024.22 1855.61 4024.08 1857.19 4023.99 1858.78 4023.92 1860.36 4023.88 1861.95 4023.87 1863.53 4023.89 1865.11 4023.92 1866.70 4023.97 1868.28 4024.03 1869.86 4024.11 1871.45 4024.23 1873.03 4024.35 1874.62 4024.49 1876.20 4024.64 1877.78 4024.82 1879.37 4025.01 1880.95 4025.22 1882.53 4025.44 1884.12 4025.68 1885.70 4025.93 1887.29 4026.19 1888.87 4026.47 1890.45 4026.77 1892.04 4027.07 1893.62 4027.38 1895.20 4027.70 1896.79 4028.04 1898.37 4028.38 1899.96 4028.72 1901.54 4029.08 1903.12 4029.43 1904.71 4029.78 1906.29 4030.14 1907.87 4030.49 1909.46 4030.84 1911.04 4031.16 1912.63 4031.48 1914.21 4031.79 1915.79 4032.05 1917.38 4032.24 1918.96 4032.40 1920.55 4032.54 1922.13 4032.62 1923.71 4032.59 1925.30 4032.38 1926.88 4032.06 1928.46 4031.66 1930.05 4031.10 1931.63 4030.52 1933.22 4029.91 1934.80 4029.28 1936.38 4028.66 1937.97 4028.05 1939.55 4027.44 1941.13 4026.85 1942.72 4026.29 1944.30 4025.75 1945.89 4025.23 1947.47 4024.75 1949.05 4024.31 1950.64 4023.89 1952.22 4023.51 1953.80 4023.18 1955.39 4022.88 1956.97 4022.63 1958.56 4022.41 1960.14 4022.24 1961.72 4022.13 1963.31 4022.06 1964.89 4022.01 1966.47 4022.02 1968.06 4022.07 1969.64 4022.14 1971.23 4022.23 1972.81 4022.36 1974.39 4022.53 1975.98 4022.72 1977.56 4022.95 1979.15 4023.20 1980.73 4023.48 1982.31 4023.79 1983.90 4024.13 1985.48 4024.49 1987.06 4024.87 1988.65 4025.28 1990.23 4025.70 1991.82 4026.15 1993.40 4026.62 1994.98 4027.10 1996.57 4027.59 1998.15 4028.10 1999.73 4028.62 2001.32 4029.13 2002.90 4029.66 2004.49 4030.18 2006.07 4030.67 2007.65 4031.16 2009.24 4031.62 2010.82 4031.99 2012.40 4032.26 2013.99 4032.49 2015.57 4032.62 2017.16 4032.53 2018.74 4032.11 2020.32 4031.54 2021.91 4030.92 2023.49 4030.08 2025.07 4029.16 2026.66 4028.27 2028.24 4027.37 2029.83 4026.46 2031.41 4025.57 2032.99 4024.70 2034.58 4023.84 2036.16 4023.01 2037.75 4022.21 2039.33 4021.43 2040.91 4020.70 2042.50 4019.99 2044.08 4019.32 2045.66 4018.71 2047.25 4018.12 2048.83 4017.58 2050.42 4017.10 2052.00 4016.65 2053.58 4016.25 2055.17 4015.91 2056.75 4015.62 2058.33 4015.36 2059.92 4015.19 2061.50 4015.07 2063.09 4014.97 2064.67 4014.93 2066.25 4014.97 2067.84 4015.07 2069.42 4015.20 2071.00 4015.42 2072.59 4015.72 2074.17 4016.05 2075.76 4016.46 2077.34 4016.93 2078.92 4017.44 2080.51 4018.02 2082.09 4018.63 2083.67 4019.30 2085.26 4020.02 2086.84 4020.76 2088.43 4021.54 2090.01 4022.35 2091.59 4023.18 2093.18 4024.02 2094.76 4024.85 2096.35 4025.69 2097.93 4026.49 2099.51 4027.23 2101.10 4027.94 2102.68 4028.50 2104.26 4028.87 2105.85 4029.16 2107.43 4029.25 2109.02 4029.06 2110.60 4028.64 2112.18 4028.11 2113.77 4027.53 2115.35 4026.73 2116.93 4025.78 2118.52 4024.81 2120.10 4023.86 2121.69 4022.85 2123.27 4021.83 2124.85 4020.83 2126.44 4019.83 2128.02 4018.83 2129.60 4017.86 2131.19 4016.91 2132.77 4015.98 2134.36 4015.08 2135.94 4014.22 2137.52 4013.38 2139.11 4012.58 2140.69 4011.82 2142.27 4011.11 2143.86 4010.43 2145.44 4009.79 2147.03 4009.20 2148.61 4008.66 2150.19 4008.16 2151.78 4007.71 2153.36 4007.32 2154.95 4006.97 2156.53 4006.66 2158.11 4006.42 2159.70 4006.27 2161.28 4006.14 2162.86 4006.04 2164.45 4006.00 2166.03 4006.04 2167.62 4006.14 2169.20 4006.29 2170.78 4006.47 2172.37 4006.76 2173.95 4007.11 2175.53 4007.50 2177.12 4007.96 2178.70 4008.49 2180.29 4009.06 2181.87 4009.68 2183.45 4010.37 2185.04 4011.10 2186.62 4011.88 2188.20 4012.71 2189.79 4013.59 2191.37 4014.50 2192.96 4015.45 2194.54 4016.44 2196.12 4017.46 2197.71 4018.50 2199.29 4019.58 2200.87 4020.66 2202.46 4021.75 2204.04 4022.85 2205.63 4023.94 2207.21 4024.97 2208.79 4026.03 2210.38 4027.02 2211.96 4027.80 2213.55 4028.39 2215.13 4028.91 2216.71 4029.22 2218.30 4029.10 2219.88 4028.13 2221.46 4026.50 2223.05 4024.46 2224.63 4022.27 2226.22 4020.18 2227.80 4018.11 2229.38 4015.80 2230.97 4013.34 2232.55 4010.82 2234.13 4008.33 2235.72 4005.94 2237.30 4003.57 2238.89 4001.21 2240.47 3998.86 2242.05 3996.53 2243.64 3994.24 2245.22 3991.99 2246.80 3989.76 2248.39 3987.56 2249.97 3985.39 2251.56 3983.26 2253.14 3981.19 2254.72 3979.15 2256.31 3977.14 2257.89 3975.18 2259.47 3973.26 2261.06 3971.40 2262.64 3969.60 2264.23 3967.84 2265.81 3966.12 2267.39 3964.46 2268.98 3962.85 2270.56 3961.32 2272.15 3959.85 2273.73 3958.41 2275.31 3957.03 2276.90 3955.72 2278.48 3954.48 2280.06 3953.32 2281.65 3952.21 2283.23 3951.14 2284.82 3950.14 2286.40 3949.21 2287.98 3948.38 2289.57 3947.63 2291.15 3946.90 2292.73 3946.22 2294.32 3945.62 2295.90 3945.12 2297.49 3944.75 2299.07 3944.45 2300.65 3944.17 2302.24 3943.94 2303.82 3943.76 2305.40 3943.66 2306.99 3943.65 2308.57 3943.72 2310.16 3943.85 2311.74 3944.03 2313.32 3944.24 2314.91 3944.49 2316.49 3944.74 2318.07 3945.04 2319.66 3945.44 2321.24 3945.93 2322.83 3946.48 2324.41 3947.07 2325.99 3947.69 2327.58 3948.33 2329.16 3949.03 2330.75 3949.80 2332.33 3950.63 2333.91 3951.51 2335.50 3952.43 2337.08 3953.38 2338.66 3954.37 2340.25 3955.42 2341.83 3956.52 2343.42 3957.67 2345.00 3958.87 2346.58 3960.10 2348.17 3961.36 2349.75 3962.66 2351.33 3964.02 2352.92 3965.42 2354.50 3966.86 2356.09 3968.34 2357.67 3969.84 2359.25 3971.38 2360.84 3972.96 2362.42 3974.58 2364.00 3976.23 2365.59 3977.92 2367.17 3979.64 2368.76 3981.37 2370.34 3983.14 2371.92 3984.94 2373.51 3986.78 2375.09 3988.63 2376.67 3990.51 2378.26 3992.41 2379.84 3994.31 2381.43 3996.25 2383.01 3998.22 2384.59 4000.20 2386.18 4002.19 2387.76 4004.17 2389.35 4006.15 2390.93 4008.17 2392.51 4010.26 2394.10 4012.37 2395.68 4014.43 2397.26 4016.38 2398.85 4018.16 2400.43 4019.74 2402.02 4021.37 2403.60 4023.03 2405.18 4024.57 2406.77 4025.87 2408.35 4026.80 2409.93 4027.22 2411.52 4027.10 2413.10 4026.67 2414.69 4026.12 2416.27 4025.26 2417.85 4024.21 2419.44 4023.13 2421.02 4021.95 2422.60 4020.76 2424.19 4019.55 2425.77 4018.35 2427.36 4017.19 2428.94 4016.05 2430.52 4014.97 2432.11 4013.94 2433.69 4012.98 2435.27 4012.09 2436.86 4011.26 2438.44 4010.53 2440.03 4009.87 2441.61 4009.29 2443.19 4008.83 2444.78 4008.42 2446.36 4008.16 2447.95 4007.98 2449.53 4007.87 2451.11 4007.86 2452.70 4007.92 2454.28 4008.02 2455.86 4008.14 2457.45 4008.29 2459.03 4008.51 2460.62 4008.79 2462.20 4009.11 2463.78 4009.44 2465.37 4009.84 2466.95 4010.28 2468.53 4010.75 2470.12 4011.25 2471.70 4011.80 2473.29 4012.39 2474.87 4013.01 2476.45 4013.66 2478.04 4014.35 2479.62 4015.08 2481.20 4015.83 2482.79 4016.61 2484.37 4017.42 2485.96 4018.25 2487.54 4019.10 2489.12 4019.98 2490.71 4020.88 2492.29 4021.79 2493.87 4022.70 2495.46 4023.64 2497.04 4024.58 2498.63 4025.51 2500.21 4026.41 2501.79 4027.34 2503.38 4028.25 2504.96 4029.02 2506.55 4029.62 2508.13 4030.18 2509.71 4030.65 2511.30 4030.92 2512.88 4030.88 2514.46 4030.57 2516.05 4030.11 2517.63 4029.57 2519.22 4028.79 2520.80 4027.93 2522.38 4027.09 2523.97 4026.19 2525.55 4025.28 2527.13 4024.39 2528.72 4023.50 2530.30 4022.63 2531.89 4021.78 2533.47 4020.96 2535.05 4020.18 2536.64 4019.43 2538.22 4018.72 2539.80 4018.05 2541.39 4017.43 2542.97 4016.85 2544.56 4016.33 2546.14 4015.86 2547.72 4015.44 2549.31 4015.08 2550.89 4014.77 2552.47 4014.50 2554.06 4014.33 2555.64 4014.20 2557.23 4014.12 2558.81 4014.09 2560.39 4014.13 2561.98 4014.20 2563.56 4014.29 2565.15 4014.40 2566.73 4014.58 2568.31 4014.80 2569.90 4015.05 2571.48 4015.32 2573.06 4015.63 2574.65 4015.99 2576.23 4016.37 2577.82 4016.78 2579.40 4017.23 2580.98 4017.70 2582.57 4018.20 2584.15 4018.74 2585.73 4019.30 2587.32 4019.88 2588.90 4020.49 2590.49 4021.12 2592.07 4021.77 2593.65 4022.43 2595.24 4023.12 2596.82 4023.81 2598.40 4024.52 2599.99 4025.23 2601.57 4025.94 2603.16 4026.66 2604.74 4027.36 2606.32 4028.03 2607.91 4028.71 2609.49 4029.35 2611.07 4029.86 2612.66 4030.24 2614.24 4030.59 2615.83 4030.85 2617.41 4030.94 2618.99 4030.66 2620.58 4030.08 2622.16 4029.36 2623.74 4028.32 2625.33 4027.22 2626.91 4026.09 2628.50 4024.93 2630.08 4023.79 2631.66 4022.65 2633.25 4021.56 2634.83 4020.50 2636.42 4019.50 2638.00 4018.55 2639.58 4017.66 2641.17 4016.85 2642.75 4016.10 2644.33 4015.43 2645.92 4014.84 2647.50 4014.32 2649.09 4013.90 2650.67 4013.55 2652.25 4013.32 2653.84 4013.17 2655.42 4013.08 2657.00 4013.10 2658.59 4013.18 2660.17 4013.30 2661.76 4013.46 2663.34 4013.70 2664.92 4014.00 2666.51 4014.34 2668.09 4014.74 2669.67 4015.20 2671.26 4015.69 2672.84 4016.24 2674.43 4016.84 2676.01 4017.48 2677.59 4018.16 2679.18 4018.89 2680.76 4019.64 2682.34 4020.44 2683.93 4021.27 2685.51 4022.12 2687.10 4023.00 2688.68 4023.90 2690.26 4024.80 2691.85 4025.71 2693.43 4026.63 2695.02 4027.50 2696.60 4028.37 2698.18 4029.20 2699.77 4029.84 2701.35 4030.34 2702.93 4030.75 2704.52 4030.94 2706.10 4030.81 2707.69 4030.43 2709.27 4029.94 2710.85 4029.34 2712.44 4028.53 2714.02 4027.64 2715.60 4026.78 2717.19 4025.86 2718.77 4024.94 2720.36 4024.04 2721.94 4023.13 2723.52 4022.25 2725.11 4021.39 2726.69 4020.56 2728.27 4019.75 2729.86 4018.99 2731.44 4018.25 2733.03 4017.56 2734.61 4016.92 2736.19 4016.31 2737.78 4015.75 2739.36 4015.25 2740.94 4014.79 2742.53 4014.38 2744.11 4014.04 2745.70 4013.73 2747.28 4013.47 2748.86 4013.31 2750.45 4013.19 2752.03 4013.10 2753.62 4013.08 2755.20 4013.12 2756.78 4013.21 2758.37 4013.32 2759.95 4013.46 2761.53 4013.68 2763.12 4013.95 2764.70 4014.25 2766.29 4014.59 2767.87 4014.98 2769.45 4015.41 2771.04 4015.88 2772.62 4016.39 2774.20 4016.94 2775.79 4017.53 2777.37 4018.15 2778.96 4018.81 2780.54 4019.51 2782.12 4020.23 2783.71 4020.99 2785.29 4021.78 2786.87 4022.59 2788.46 4023.43 2790.04 4024.30 2791.63 4025.20 2793.21 4026.11 2794.79 4027.04 2796.38 4027.99 2797.96 4028.96 2799.54 4029.93 2801.13 4030.93 2802.71 4031.93 2804.30 4032.94 2805.88 4033.95 2807.46 4034.97 2809.05 4036.00" stroke="#000" stroke-width="10.7"/>
<g transform="scale(0.875,1)" stroke-width="11.3" stroke-dasharray="34.7 44.6">
<path d="M417.56 4036.00 419.09 4034.98 420.62 4033.98 422.16 4032.97 423.69 4031.98 425.22 4030.99 426.76 4030.01 428.29 4029.04 429.82 4028.09 431.36 4027.16 432.89 4026.24 434.42 4025.35 435.96 4024.48 437.49 4023.63 439.02 4022.81 440.56 4022.02 442.09 4021.25 443.62 4020.52 445.16 4019.82 446.69 4019.15 448.23 4018.53 449.76 4017.94 451.29 4017.38 452.83 4016.87 454.36 4016.40 455.89 4015.97 457.43 4015.57 458.96 4015.23 460.49 4014.94 462.03 4014.67 463.56 4014.45 465.09 4014.32 466.63 4014.21 468.16 4014.12 469.69 4014.09 471.23 4014.13 472.76 4014.23 474.29 4014.35 475.83 4014.55 477.36 4014.83 478.89 4015.15 480.43 4015.53 481.96 4015.98 483.49 4016.46 485.03 4017.01 486.56 4017.61 488.09 4018.24 489.63 4018.93 491.16 4019.66 492.69 4020.43 494.23 4021.23 495.76 4022.07 497.29 4022.93 498.83 4023.82 500.36 4024.73 501.89 4025.63 503.43 4026.55 504.96 4027.44 506.49 4028.30 508.03 4029.15 509.56 4029.83 511.09 4030.32 512.63 4030.74 514.16 4030.94 515.69 4030.59 517.23 4029.60 518.76 4028.43 520.29 4026.98 521.83 4025.24 523.36 4023.53 524.89 4021.82 526.43 4020.11 527.96 4018.44 529.49 4016.79 531.03 4015.20 532.56 4013.66 534.09 4012.18 535.63 4010.78 537.16 4009.44 538.69 4008.18 540.23 4007.02 541.76 4005.93 543.29 4004.93 544.83 4004.05 546.36 4003.24 547.89 4002.54 549.43 4001.96 550.96 4001.45 552.49 4001.08 554.03 4000.85 555.56 4000.67 557.09 4000.61 558.63 4000.66 560.16 4000.80 561.69 4000.97 563.23 4001.21 564.76 4001.57 566.29 4002.01 567.83 4002.49 569.36 4003.06 570.89 4003.71 572.43 4004.40 573.96 4005.17 575.49 4006.02 577.03 4006.90 578.56 4007.85 580.09 4008.86 581.63 4009.91 583.16 4011.01 584.69 4012.15 586.23 4013.32 587.76 4014.52 589.29 4015.75 590.83 4016.98 592.36 4018.20 593.89 4019.44 595.43 4020.64 596.96 4021.75 598.49 4022.87 600.03 4023.88 601.56 4024.62 603.09 4025.19 604.63 4025.66 606.16 4025.88 607.69 4025.57 609.23 4024.62" stroke="#000" stroke-dashoffset="0.0"/>
<path d="M609.23 4024.62 610.75 4023.41 612.27 4021.93 613.80 4019.96 615.32 4017.87 616.84 4015.82 618.37 4013.68 619.89 4011.55 621.41 4009.46 622.94 4007.37 624.46 4005.35 625.98 4003.39 627.51 4001.49 629.03 3999.68 630.56 3997.95 632.08 3996.30 633.60 3994.76 635.13 3993.33 636.65 3991.99 638.17 3990.78 639.70 3989.69 641.22 3988.69 642.74 3987.85 644.27 3987.12 645.79 3986.49 647.31 3986.05 648.84 3985.76 650.36 3985.53 651.88 3985.44 653.41 3985.51 654.93 3985.70 656.46 3985.96 657.98 3986.31 659.50 3986.84 661.03 3987.48 662.55 3988.18 664.07 3989.03 665.60 3989.98 667.12 3991.00 668.64 3992.14 670.17 3993.38 671.69 3994.69 673.21 3996.10 674.74 3997.59 676.26 3999.15 677.79 4000.77 679.31 4002.46 680.83 4004.20 682.36 4005.97 683.88 4007.80 685.40 4009.62 686.93 4011.45 688.45 4013.29 689.97 4015.06 691.50 4016.73 693.02 4018.41 694.54 4019.86 696.07 4020.86 697.59 4021.72 699.12 4022.34 700.64 4022.49 702.16 4021.82 703.69 4020.55 705.21 4019.09 706.73 4017.12 708.26 4014.66 709.78 4012.15 711.30 4009.62 712.83 4006.99 714.35 4004.39 715.87 4001.82 717.40 3999.27 718.92 3996.79 720.45 3994.39 721.97 3992.05 723.49 3989.82 725.02 3987.69 726.54 3985.66 728.06 3983.76 729.59 3981.99 731.11 3980.32 732.63 3978.82 734.16 3977.46 735.68 3976.21 737.20 3975.13 738.73 3974.23 740.25 3973.41 741.78 3972.81 743.30 3972.44 744.82 3972.13 746.35 3971.97 747.87 3972.00 749.39 3972.19 750.92 3972.48 752.44 3972.84 753.96 3973.43 755.49 3974.14 757.01 3974.93 758.53 3975.89 760.06 3976.96 761.58 3978.11 763.10 3979.40 764.63 3980.79 766.15 3982.24 767.68 3983.81 769.20 3985.45 770.72 3987.13 772.25 3988.89 773.77 3990.69 775.29 3992.49 776.82 3994.32 778.34 3996.14 779.86 3997.89 781.39 3999.62 782.91 4001.26 784.43 4002.72 785.96 4004.11 787.48 4005.32 789.01 4006.13 790.53 4006.75 792.05 4007.21 793.58 4007.34 795.10 4006.98 796.62 4006.26 798.15 4005.37 799.67 4004.14 801.19 4002.45 802.72 4000.58 804.24 3998.64 805.76 3996.50 807.29 3994.27 808.81 3992.05 810.34 3989.76 811.86 3987.46 813.38 3985.22 814.91 3982.99 816.43 3980.81 817.95 3978.72 819.48 3976.70 821.00 3974.76 822.52 3972.94 824.05 3971.23 825.57 3969.61 827.09 3968.14 828.62 3966.80 830.14 3965.56 831.67 3964.50 833.19 3963.59 834.71 3962.76 836.24 3962.13 837.76 3961.74 839.28 3961.41 840.81 3961.21 842.33 3961.19 843.85 3961.35 845.38 3961.63 846.90 3961.97 848.42 3962.49 849.95 3963.21 851.47 3964.02 853.00 3964.94 854.52 3966.03 856.04 3967.22 857.57 3968.51 859.09 3969.93 860.61 3971.46 862.14 3973.05 863.66 3974.76 865.18 3976.55 866.71 3978.38 868.23 3980.29 869.75 3982.25 871.28 3984.22 872.80 3986.21 874.32 3988.22 875.85 3990.18 877.37 3992.08 878.90 3993.95 880.42 3995.70 881.94 3997.26 883.47 3998.76 884.99 4000.04 886.51 4000.90 888.04 4001.58 889.56 4002.10 891.08 4002.29 892.61 4001.79 894.13 4000.63 895.65 3999.19 897.18 3997.14 898.70 3994.38 900.23 3991.43 901.75 3988.33 903.27 3984.96 904.80 3981.56 906.32 3978.13 907.84 3974.65 909.37 3971.25 910.89 3967.90 912.41 3964.63 913.94 3961.49 915.46 3958.48 916.98 3955.59 918.51 3952.89 920.03 3950.36 921.56 3948.00 923.08 3945.87 924.60 3943.93 926.13 3942.17 927.65 3940.70 929.17 3939.40 930.70 3938.30 932.22 3937.57 933.74 3937.06 935.27 3936.68 936.79 3936.56 938.31 3936.72 939.84 3937.06 941.36 3937.49 942.89 3938.11 944.41 3939.02 945.93 3940.08 947.46 3941.26 948.98 3942.66 950.50 3944.22 952.03 3945.89 953.55 3947.74 955.07 3949.74 956.60 3951.83 958.12 3954.06 959.64 3956.40 961.17 3958.80 962.69 3961.29 964.22 3963.84 965.74 3966.40 967.26 3968.98 968.79 3971.57 970.31 3974.08 971.83 3976.52 973.36 3978.90 974.88 3981.08 976.40 3983.03 977.93 3984.89 979.45 3986.39 980.97 3987.36 982.50 3988.17 984.02 3988.70 985.55 3988.73 987.07 3987.92 988.59 3986.53 990.12 3984.88 991.64 3982.37 993.16 3979.22 994.69 3975.93 996.21 3972.35 997.73 3968.49 999.26 3964.61 1000.78 3960.64 1002.30 3956.62 1003.83 3952.68 1005.35 3948.78 1006.87 3944.95 1008.40 3941.28 1009.92 3937.73 1011.45 3934.33 1012.97 3931.15 1014.49 3928.15 1016.02 3925.33 1017.54 3922.79 1019.06 3920.47 1020.59 3918.34 1022.11 3916.55 1023.63 3914.99 1025.16 3913.62 1026.68 3912.65 1028.20 3912.02 1029.73 3911.52 1031.25 3911.28 1032.78 3911.42 1034.30 3911.84 1035.82 3912.43 1037.35 3913.21 1038.87 3914.42 1040.39 3915.89 1041.92 3917.51 1043.44 3919.45 1044.96 3921.64 1046.49 3923.99 1048.01 3926.61 1049.53 3929.45 1051.06 3932.43 1052.58 3935.63 1054.11 3939.00 1055.63 3942.48 1057.15 3946.12 1058.68 3949.86 1060.20 3953.64 1061.72 3957.50 1063.25 3961.38 1064.77 3965.17 1066.29 3968.93 1067.82 3972.60 1069.34 3975.96 1070.86 3979.10 1072.39 3982.05 1073.91 3984.29 1075.44 3985.80 1076.96 3987.07 1078.48 3987.76 1080.01 3987.30 1081.53 3985.32 1083.05 3982.53 1084.58 3979.23 1086.10 3974.41 1087.62 3968.83 1089.15 3963.25 1090.67 3957.27 1092.19 3951.06 1093.72 3944.92 1095.24 3938.73 1096.77 3932.56 1098.29 3926.57 1099.81 3920.69 1101.34 3914.97 1102.86 3909.51 1104.38 3904.26 1105.91 3899.24 1107.43 3894.55 1108.95 3890.15 1110.48 3886.02 1112.00 3882.27 1113.52 3878.87 1115.05 3875.75 1116.57 3873.07 1118.09 3870.78 1119.62 3868.73 1121.14 3867.19 1122.67 3866.23 1124.19 3865.44 1125.71 3864.98 1127.24 3865.06 1128.76 3865.75 1130.28 3866.73 1131.81 3868.37 1133.33 3870.68 1134.85 3873.32 1136.38 3876.59 1137.90 3880.26 1139.42 3884.39 1140.95 3888.97 1142.47 3893.86 1144.00 3899.16 1145.52 3904.69 1147.04 3910.49 1148.57 3916.46 1150.09 3922.48 1151.61 3928.59 1153.14 3934.49 1154.66 3940.27 1156.18 3945.68 1157.71 3950.44 1159.23 3954.81 1160.75 3957.76 1162.28 3959.82 1163.80 3961.07 1165.33 3960.99 1166.85 3960.09 1168.37 3958.47 1169.90 3956.17 1171.42 3953.23 1172.94 3949.71 1174.47 3945.63 1175.99 3941.06 1177.51 3936.02 1179.04 3930.56 1180.56 3924.73 1182.08 3918.57 1183.61 3912.12 1185.13 3905.43 1186.66 3898.54 1188.18 3891.49 1189.70 3884.33 1191.23 3876.99 1192.75 3867.79 1194.27 3856.64 1195.80 3844.09 1197.32 3830.73 1198.84 3817.13 1200.37 3803.86 1201.89 3791.13 1203.41 3777.97 1204.94 3764.53 1206.46 3751.05 1207.99 3737.79 1209.51 3725.00 1211.03 3712.83 1212.56 3700.87 1214.08 3689.09 1215.60 3677.58 1217.13 3666.41 1218.65 3655.68 1220.17 3645.48 1221.70 3635.86 1223.22 3626.53 1224.74 3617.42 1226.27 3608.55 1227.79 3599.96 1229.31 3591.69 1230.84 3583.78 1232.36 3576.26 1233.89 3569.16 1235.41 3562.52 1236.93 3556.13 1238.46 3549.42 1239.98 3542.57 1241.50 3535.79 1243.03 3529.30 1244.55 3523.32 1246.07 3518.06 1247.60 3513.75 1249.12 3510.58 1250.64 3508.80" stroke="#000" stroke-dashoffset="70.1"/>
<path d="M1250.64 3508.80 1252.17 3508.51 1253.69 3509.01 1255.21 3510.01 1256.73 3511.48 1258.26 3513.35 1259.78 3515.57 1261.30 3518.09 1262.82 3520.84 1264.34 3523.77 1265.87 3526.83 1267.39 3529.96 1268.91 3533.11 1270.43 3536.27 1271.95 3539.82 1273.48 3543.79 1275.00 3548.16 1276.52 3552.90 1278.04 3557.98 1279.56 3563.38 1281.09 3569.05 1282.61 3574.98 1284.13 3581.13 1285.65 3587.48 1287.17 3594.00 1288.70 3600.66 1290.22 3607.43 1291.74 3614.28 1293.26 3621.54 1294.78 3629.39 1296.31 3637.75 1297.83 3646.53 1299.35 3655.64 1300.87 3664.99 1302.39 3674.48 1303.92 3684.03 1305.44 3693.56 1306.96 3703.21 1308.48 3713.19 1310.00 3723.41 1311.53 3733.81 1313.05 3744.28 1314.57 3754.75 1316.09 3765.14 1317.61 3775.36 1319.14 3785.47 1320.66 3795.60 1322.18 3805.71 1323.70 3815.79 1325.23 3825.80 1326.75 3835.72 1328.27 3845.51 1329.79 3855.14 1331.31 3864.83 1332.84 3874.91 1334.36 3885.16 1335.88 3895.32 1337.40 3905.18 1338.92 3914.48 1340.45 3923.01 1341.97 3930.51 1343.49 3936.76 1345.01 3942.36 1346.53 3947.84 1348.06 3953.17 1349.58 3958.33 1351.10 3963.29 1352.62 3968.04 1354.14 3972.54 1355.67 3976.79 1357.19 3980.75 1358.71 3984.40 1360.23 3987.73 1361.75 3990.70 1363.28 3993.31 1364.80 3995.52 1366.32 3997.31 1367.84 3998.67 1369.36 3999.81 1370.89 4000.90 1372.41 4001.93 1373.93 4002.87 1375.45 4003.70 1376.97 4004.41 1378.50 4004.98 1380.02 4005.39 1381.54 4005.62 1383.06 4005.63 1384.59 4005.30 1386.11 4004.62 1387.63 4003.62 1389.15 4002.38 1390.67 4000.98 1392.20 3999.52 1393.72 3998.06 1395.24 3996.65 1396.76 3995.38 1398.28 3994.28 1399.81 3993.37 1401.33 3992.70 1402.85 3992.33 1404.37 3992.18 1405.89 3992.35 1407.42 3992.81 1408.94 3993.55 1410.46 3994.50 1411.98 3995.65 1413.50 3996.94 1415.03 3998.35 1416.55 3999.83 1418.07 4001.34 1419.59 4002.85 1421.11 4004.32 1422.64 4005.72 1424.16 4006.99 1425.68 4008.11 1427.20 4009.04 1428.72 4009.81 1430.25 4010.56 1431.77 4011.30 1433.29 4012.01 1434.81 4012.71 1436.33 4013.40 1437.86 4014.06 1439.38 4014.71 1440.90 4015.34 1442.42 4015.96 1443.95 4016.55 1445.47 4017.13 1446.99 4017.69 1448.51 4018.24 1450.03 4018.76 1451.56 4019.27 1453.08 4019.76 1454.60 4020.23 1456.12 4020.68 1457.64 4021.11 1459.17 4021.52 1460.69 4021.91 1462.21 4022.29 1463.73 4022.64 1465.25 4023.00 1466.78 4023.35 1468.30 4023.70 1469.82 4024.06 1471.34 4024.41 1472.86 4024.76 1474.39 4025.11 1475.91 4025.46 1477.43 4025.80 1478.95 4026.13 1480.47 4026.47 1482.00 4026.79 1483.52 4027.11 1485.04 4027.42 1486.56 4027.72 1488.08 4028.01 1489.61 4028.30 1491.13 4028.57 1492.65 4028.83 1494.17 4029.08 1495.69 4029.32 1497.22 4029.55 1498.74 4029.76 1500.26 4029.95 1501.78 4030.13 1503.30 4030.30 1504.83 4030.44 1506.35 4030.57 1507.87 4030.68 1509.39 4030.78 1510.92 4030.85 1512.44 4030.90 1513.96 4030.93 1515.48 4030.94 1517.00 4030.93 1518.53 4030.91 1520.05 4030.87 1521.57 4030.81 1523.09 4030.74 1524.61 4030.65 1526.14 4030.55 1527.66 4030.43 1529.18 4030.30 1530.70 4030.16 1532.22 4030.00 1533.75 4029.83 1535.27 4029.65 1536.79 4029.45 1538.31 4029.24 1539.83 4029.02 1541.36 4028.78 1542.88 4028.53 1544.40 4028.28 1545.92 4028.01 1547.44 4027.73 1548.97 4027.44 1550.49 4027.13 1552.01 4026.82 1553.53 4026.50 1555.05 4026.17 1556.58 4025.83 1558.10 4025.48 1559.62 4025.12 1561.14 4024.75 1562.66 4024.37 1564.19 4023.99 1565.71 4023.59 1567.23 4023.19 1568.75 4022.79 1570.28 4022.37 1571.80 4021.95 1573.32 4021.51 1574.84 4020.87 1576.36 4020.03 1577.89 4019.01 1579.41 4017.84 1580.93 4016.55 1582.45 4015.16 1583.97 4013.72 1585.50 4012.24 1587.02 4010.76 1588.54 4009.31 1590.06 4007.92 1591.58 4006.61 1593.11 4005.43 1594.63 4004.38 1596.15 4003.52 1597.67 4002.87 1599.19 4002.45 1600.72 4002.29 1602.24 4002.33 1603.76 4002.45 1605.28 4002.60 1606.80 4002.79 1608.33 4003.09 1609.85 4003.47 1611.37 4003.88 1612.89 4004.36 1614.41 4004.91 1615.94 4005.52 1617.46 4006.17 1618.98 4006.90 1620.50 4007.67 1622.02 4008.49 1623.55 4009.37 1625.07 4010.29 1626.59 4011.26 1628.11 4012.26 1629.63 4013.30 1631.16 4014.38 1632.68 4015.48 1634.20 4016.61 1635.72 4017.76 1637.25 4018.91 1638.77 4020.07 1640.29 4021.24 1641.81 4022.36 1643.33 4023.43 1644.86 4024.51 1646.38 4025.49 1647.90 4026.21 1649.42 4026.79 1650.94 4027.28 1652.47 4027.55 1653.99 4027.48 1655.51 4027.08 1657.03 4026.55 1658.55 4025.80 1660.08 4024.78 1661.60 4023.72 1663.12 4022.59 1664.64 4021.41 1666.16 4020.23 1667.69 4019.05 1669.21 4017.88 1670.73 4016.75 1672.25 4015.65 1673.77 4014.60 1675.30 4013.60 1676.82 4012.66 1678.34 4011.79 1679.86 4010.97 1681.38 4010.24 1682.91 4009.59 1684.43 4009.00 1685.95 4008.52 1687.47 4008.10 1688.99 4007.77 1690.52 4007.57 1692.04 4007.42 1693.56 4007.35 1695.08 4007.38 1696.61 4007.49 1698.13 4007.63 1699.65 4007.82 1701.17 4008.11 1702.69 4008.47 1704.22 4008.86 1705.74 4009.34 1707.26 4009.87 1708.78 4010.46 1710.30 4011.10 1711.83 4011.80 1713.35 4012.56 1714.87 4013.36 1716.39 4014.22 1717.91 4015.12 1719.44 4016.05 1720.96 4017.04 1722.48 4018.07 1724.00 4019.12 1725.52 4020.20 1727.05 4021.32 1728.57 4022.44 1730.09 4023.58 1731.61 4024.74 1733.13 4025.86 1734.66 4026.99 1736.18 4028.12 1737.70 4029.06 1739.22 4029.78 1740.74 4030.44 1742.27 4030.87 1743.79 4030.83 1745.31 4030.01 1746.83 4028.78 1748.35 4027.44 1749.88 4025.70 1751.40 4023.85 1752.92 4022.08 1754.44 4020.28 1755.97 4018.51 1757.49 4016.78 1759.01 4015.08 1760.53 4013.45 1762.05 4011.87 1763.58 4010.36 1765.10 4008.94 1766.62 4007.58 1768.14 4006.31 1769.66 4005.13 1771.19 4004.04 1772.71 4003.05 1774.23 4002.17 1775.75 4001.36 1777.27 4000.69 1778.80 4000.12 1780.32 3999.63 1781.84 3999.32 1783.36 3999.10 1784.88 3998.95 1786.41 3998.93 1787.93 3998.99 1789.45 3999.10 1790.97 3999.23 1792.49 3999.40 1794.02 3999.66 1795.54 3999.98 1797.06 4000.33 1798.58 4000.71 1800.10 4001.16 1801.63 4001.66 1803.15 4002.19 1804.67 4002.76 1806.19 4003.38 1807.71 4004.03 1809.24 4004.71 1810.76 4005.43 1812.28 4006.19 1813.80 4006.96 1815.32 4007.76 1816.85 4008.58 1818.37 4009.42 1819.89 4010.26 1821.41 4011.10 1822.94 4011.96 1824.46 4012.80 1825.98 4013.62 1827.50 4014.43 1829.02 4015.21 1830.55 4015.95 1832.07 4016.61 1833.59 4017.25 1835.11 4017.84 1836.63 4018.29 1838.16 4018.59 1839.68 4018.87 1841.20 4019.07 1842.72 4019.15 1844.24 4019.01 1845.77 4018.69 1847.29 4018.29 1848.81 4017.66 1850.33 4016.83 1851.85 4015.95 1853.38 4014.96 1854.90 4013.89 1856.42 4012.81 1857.94 4011.68 1859.46 4010.54 1860.99 4009.42 1862.51 4008.31 1864.03 4007.23 1865.55 4006.19 1867.07 4005.19 1868.60 4004.26 1870.12 4003.38 1871.64 4002.56 1873.16 4001.83 1874.68 4001.16 1876.21 4000.58 1877.73 4000.09 1879.25 3999.66 1880.77 3999.34 1882.30 3999.14 1883.82 3998.99 1885.34 3998.92 1886.86 3998.96 1888.38 3999.06 1889.91 3999.20 1891.43 3999.38 1892.95 3999.65 1894.47 3999.99 1895.99 4000.36 1897.52 4000.80 1899.04 4001.30 1900.56 4001.83 1902.08 4002.41 1903.60 4003.05 1905.13 4003.72 1906.65 4004.42 1908.17 4005.16 1909.69 4005.93 1911.21 4006.71 1912.74 4007.52 1914.26 4008.34 1915.78 4009.15 1917.30 4009.96 1918.82 4010.77 1920.35 4011.53 1921.87 4012.28 1923.39 4012.99 1924.91 4013.62 1926.43 4014.20 1927.96 4014.73 1929.48 4015.13 1931.00 4015.40 1932.52 4015.62 1934.04 4015.76 1935.57 4015.73 1937.09 4015.48 1938.61 4015.08 1940.13 4014.59 1941.65 4013.83 1943.18 4012.91 1944.70 4011.94 1946.22 4010.85 1947.74 4009.68 1949.27 4008.50 1950.79 4007.27 1952.31 4006.03 1953.83 4004.80 1955.35 4003.58 1956.88 4002.38 1958.40 4001.23 1959.92 4000.11 1961.44 3999.04 1962.96 3998.04 1964.49 3997.10 1966.01 3996.23 1967.53 3995.44 1969.05 3994.72 1970.57 3994.08 1972.10 3993.55 1973.62 3993.07 1975.14 3992.71 1976.66 3992.48 1978.18 3992.30 1979.71 3992.19 1981.23 3992.21 1982.75 3992.36 1984.27 3992.59 1985.79 3992.91 1987.32 3993.41 1988.84 3994.00 1990.36 3994.68 1991.88 3995.49 1993.40 3996.39 1994.93 3997.38 1996.45 3998.48 1997.97 3999.65 1999.49 4000.90 2001.01 4002.23 2002.54 4003.60 2004.06 4005.05 2005.58 4006.52 2007.10 4008.02 2008.63 4009.54 2010.15 4011.03 2011.67 4012.50 2013.19 4013.93 2014.71 4015.22 2016.24 4016.44 2017.76 4017.51 2019.28 4018.21 2020.80 4018.76 2022.32 4019.10 2023.85 4019.11 2025.37 4018.91 2026.89 4018.59 2028.41 4018.22 2029.93 4017.72 2031.46 4017.02 2032.98 4016.23 2034.50 4015.41 2036.02 4014.52 2037.54 4013.56 2039.07 4012.57 2040.59 4011.58 2042.11 4010.55 2043.63 4009.52 2045.15 4008.50 2046.68 4007.49 2048.20 4006.49 2049.72 4005.51 2051.24 4004.57 2052.76 4003.65 2054.29 4002.76 2055.81 4001.92 2057.33 4001.13 2058.85 4000.37 2060.37 3999.65 2061.90 3999.00 2063.42 3998.40 2064.94 3997.84 2066.46 3997.34 2067.98 3996.92 2069.51 3996.52 2071.03 3996.19 2072.55 3995.96 2074.07 3995.79 2075.60 3995.65 2077.12 3995.57 2078.64 3995.56 2080.16 3995.65 2081.68 3995.82 2083.21 3996.01 2084.73 3996.31 2086.25 3996.72 2087.77 3997.20 2089.29 3997.73 2090.82 3998.36 2092.34 3999.06 2093.86 3999.81 2095.38 4000.65 2096.90 4001.55 2098.43 4002.50 2099.95 4003.52 2101.47 4004.59 2102.99 4005.71 2104.51 4006.87 2106.04 4008.07 2107.56 4009.31 2109.08 4010.56 2110.60 4011.84 2112.12 4013.13 2113.65 4014.39 2115.17 4015.66 2116.69 4016.90 2118.21 4018.05 2119.73 4019.15 2121.26 4020.20 2122.78 4021.05 2124.30 4021.62 2125.82 4022.11 2127.34 4022.45 2128.87 4022.50 2130.39 4022.31 2131.91 4021.99 2133.43 4021.60 2134.96 4021.00 2136.48 4020.24 2138.00 4019.45 2139.52 4018.57 2141.04 4017.62 2142.57 4016.66 2144.09 4015.68 2145.61 4014.67 2147.13 4013.68 2148.65 4012.70 2150.18 4011.74 2151.70 4010.81 2153.22 4009.91 2154.74 4009.05 2156.26 4008.23 2157.79 4007.47 2159.31 4006.75 2160.83 4006.10 2162.35 4005.51 2163.87 4004.96 2165.40 4004.50 2166.92 4004.10 2168.44 4003.75 2169.96 4003.49 2171.48 4003.33 2173.01 4003.20 2174.53 4003.14 2176.05 4003.15 2177.57 4003.20 2179.09 4003.28 2180.62 4003.37 2182.14 4003.52 2183.66 4003.70 2185.18 4003.90 2186.70 4004.13 2188.23 4004.40 2189.75 4004.68 2191.27 4004.99 2192.79 4005.32 2194.32 4005.66 2195.84 4006.02 2197.36 4006.39 2198.88 4006.76 2200.40 4007.15 2201.93 4007.53 2203.45 4007.91 2204.97 4008.28 2206.49 4008.64 2208.01 4008.98 2209.54 4009.30 2211.06 4009.60 2212.58 4009.87 2214.10 4010.10 2215.62 4010.32 2217.15 4010.48 2218.67 4010.58 2220.19 4010.67 2221.71 4010.71 2223.23 4010.68 2224.76 4010.51 2226.28 4010.27 2227.80 4009.87 2229.32 4009.33 2230.84 4008.74 2232.37 4008.04 2233.89 4007.30 2235.41 4006.50 2236.93 4005.66 2238.45 4004.82 2239.98 4003.97 2241.50 4003.14 2243.02 4002.32 2244.54 4001.54 2246.06 4000.81 2247.59 4000.12 2249.11 3999.50 2250.63 3998.93 2252.15 3998.44 2253.67 3998.04 2255.20 3997.70 2256.72 3997.48 2258.24 3997.33 2259.76 3997.24 2261.29 3997.26 2262.81 3997.37 2264.33 3997.53 2265.85 3997.73 2267.37 3998.02 2268.90 3998.42 2270.42 3998.88 2271.94 3999.38 2273.46 3999.97 2274.98 4000.64 2276.51 4001.35 2278.03 4002.13 2279.55 4002.98 2281.07 4003.89 2282.59 4004.84 2284.12 4005.86 2285.64 4006.94 2287.16 4008.05 2288.68 4009.21" stroke="#000" stroke-dashoffset="66.6"/>
<path d="M2290.51 4015.19 2292.04 4016.16 2293.57 4017.16 2295.09 4018.17 2296.62 4019.21 2298.15 4020.26 2299.68 4021.31 2301.21 4022.37 2302.74 4023.43 2304.26 4024.44 2305.79 4025.41 2307.32 4026.38 2308.85 4027.26 2310.38 4027.91 2311.90 4028.43 2313.43 4028.87 2314.96 4029.14 2316.49 4029.11 2318.02 4028.76 2319.54 4028.25 2321.07 4027.51 2322.60 4026.53 2324.13 4025.51 2325.66 4024.39 2327.19 4023.24 2328.71 4022.09 2330.24 4020.93 2331.77 4019.80 2333.30 4018.70 2334.83 4017.65 2336.35 4016.65 2337.88 4015.71 2339.41 4014.84 2340.94 4014.03 2342.47 4013.31 2343.99 4012.67 2345.52 4012.10 2347.05 4011.64 2348.58 4011.23 2350.11 4010.95 2351.63 4010.78 2353.16 4010.66 2354.69 4010.64 2356.22 4010.69 2357.75 4010.78 2359.28 4010.90 2360.80 4011.03 2362.33 4011.24 2363.86 4011.50 2365.39 4011.80 2366.92 4012.12 2368.44 4012.49 2369.97 4012.91 2371.50 4013.36 2373.03 4013.84 2374.56 4014.36 2376.08 4014.93 2377.61 4015.52 2379.14 4016.14 2380.67 4016.81 2382.20 4017.50 2383.72 4018.22 2385.25 4018.96 2386.78 4019.74 2388.31 4020.54 2389.84 4021.35 2391.37 4022.19 2392.89 4023.05 2394.42 4023.92 2395.95 4024.80 2397.48 4025.69 2399.01 4026.59 2400.53 4027.47 2402.06 4028.32 2403.59 4029.21 2405.12 4030.06 2406.65 4030.79 2408.17 4031.34 2409.70 4031.86 2411.23 4032.29 2412.76 4032.52 2414.29 4032.47 2415.82 4032.14 2417.34 4031.67 2418.87 4031.11 2420.40 4030.33 2421.93 4029.46 2423.46 4028.61 2424.98 4027.70 2426.51 4026.79 2428.04 4025.89 2429.57 4025.00 2431.10 4024.13 2432.62 4023.28 2434.15 4022.46 2435.68 4021.68 2437.21 4020.93 2438.74 4020.22 2440.26 4019.56 2441.79 4018.94 2443.32 4018.37 2444.85 4017.86 2446.38 4017.39 2447.91 4016.97 2449.43 4016.62 2450.96 4016.31 2452.49 4016.06 2454.02 4015.90 2455.55 4015.78 2457.07 4015.70 2458.60 4015.69 2460.13 4015.74 2461.66 4015.82 2463.19 4015.92 2464.71 4016.04 2466.24 4016.23 2467.77 4016.46 2469.30 4016.71 2470.83 4016.99 2472.35 4017.32 2473.88 4017.68 2475.41 4018.07 2476.94 4018.49 2478.47 4018.95 2480.00 4019.44 2481.52 4019.95 2483.05 4020.49 2484.58 4021.07 2486.11 4021.66 2487.64 4022.27 2489.16 4022.92 2490.69 4023.58 2492.22 4024.25 2493.75 4024.94 2495.28 4025.65 2496.80 4026.36 2498.33 4027.07 2499.86 4027.79 2501.39 4028.51 2502.92 4029.20 2504.45 4029.87 2505.97 4030.55 2507.50 4031.15 2509.03 4031.60 2510.56 4031.98 2512.09 4032.31 2513.61 4032.51 2515.14 4032.48 2516.67 4032.05 2518.20 4031.43 2519.73 4030.56 2521.25 4029.46 2522.78 4028.36 2524.31 4027.20 2525.84 4026.04 2527.37 4024.89 2528.89 4023.77 2530.42 4022.69 2531.95 4021.64 2533.48 4020.66 2535.01 4019.74 2536.54 4018.88 2538.06 4018.09 2539.59 4017.37 2541.12 4016.74 2542.65 4016.17 2544.18 4015.71 2545.70 4015.32 2547.23 4015.01 2548.76 4014.84 2550.29 4014.71 2551.82 4014.68 2553.34 4014.74 2554.87 4014.84 2556.40 4014.97 2557.93 4015.18 2559.46 4015.46 2560.98 4015.78 2562.51 4016.15 2564.04 4016.59 2565.57 4017.07 2567.10 4017.60 2568.63 4018.18 2570.15 4018.80 2571.68 4019.47 2573.21 4020.18 2574.74 4020.93 2576.27 4021.71 2577.79 4022.54 2579.32 4023.38 2580.85 4024.25 2582.38 4025.15 2583.91 4026.06 2585.43 4026.97 2586.96 4027.89 2588.49 4028.79 2590.02 4029.65 2591.55 4030.52 2593.08 4031.25 2594.60 4031.77 2596.13 4032.23 2597.66 4032.51 2599.19 4032.49 2600.72 4032.17 2602.24 4031.69 2603.77 4031.16 2605.30 4030.39 2606.83 4029.51 2608.36 4028.64 2609.88 4027.73 2611.41 4026.80 2612.94 4025.89 2614.47 4024.98 2616.00 4024.09 2617.52 4023.22 2619.05 4022.37 2620.58 4021.55 2622.11 4020.78 2623.64 4020.03 2625.17 4019.32 2626.69 4018.67 2628.22 4018.05 2629.75 4017.47 2631.28 4016.96 2632.81 4016.48 2634.33 4016.06 2635.86 4015.70 2637.39 4015.39 2638.92 4015.12 2640.45 4014.94 2641.97 4014.81 2643.50 4014.72 2645.03 4014.68 2646.56 4014.71 2648.09 4014.79 2649.61 4014.90 2651.14 4015.04 2652.67 4015.25 2654.20 4015.51 2655.73 4015.81 2657.26 4016.14 2658.78 4016.53 2660.31 4016.96 2661.84 4017.42 2663.37 4017.93 2664.90 4018.48 2666.42 4019.06 2667.95 4019.68 2669.48 4020.35 2671.01 4021.04 2672.54 4021.76 2674.06 4022.52 2675.59 4023.32 2677.12 4024.13 2678.65 4024.98 2680.18 4025.85 2681.71 4026.75 2683.23 4027.66 2684.76 4028.60 2686.29 4029.55 2687.82 4030.52 2689.35 4031.50 2690.87 4032.50 2692.40 4033.51 2693.93 4034.52 2695.46 4035.54 2696.99 4036.57 2698.51 4037.60" stroke="#000" stroke-dashoffset="38.2"/>
<path d="M417.56 4036.00 419.09 4034.43 420.62 4032.87 422.15 4031.33 423.69 4029.79 425.22 4028.26 426.75 4026.74 428.28 4025.26 429.81 4023.79 431.34 4022.34 432.88 4020.93 434.41 4019.55 435.94 4018.20 437.47 4016.89 439.00 4015.62 440.54 4014.40 442.07 4013.21 443.60 4012.08 445.13 4011.01 446.66 4009.97 448.19 4009.00 449.73 4008.09 451.26 4007.23 452.79 4006.43 454.32 4005.71 455.85 4005.04 457.39 4004.43 458.92 4003.90 460.45 4003.45 461.98 4003.03 463.51 4002.69 465.04 4002.48 466.58 4002.31 468.11 4002.18 469.64 4002.12 471.17 4002.18 472.70 4002.34 474.24 4002.54 475.77 4002.87 477.30 4003.33 478.83 4003.85 480.36 4004.48 481.89 4005.21 483.43 4006.01 484.96 4006.90 486.49 4007.88 488.02 4008.93 489.55 4010.06 491.09 4011.26 492.62 4012.52 494.15 4013.85 495.68 4015.23 497.21 4016.65 498.74 4018.12 500.28 4019.60 501.81 4021.11 503.34 4022.62 504.87 4024.06 506.40 4025.54 507.94 4026.88 509.47 4027.84 511.00 4028.66 512.53 4029.19 514.06 4029.06 515.59 4027.96 517.13 4026.35 518.66 4024.66 520.19 4022.56 521.72 4020.18 523.25 4017.85 524.79 4015.56 526.32 4013.25 527.85 4010.99 529.38 4008.77 530.91 4006.59 532.45 4004.48 533.98 4002.45 535.51 4000.47 537.04 3998.57 538.57 3996.78 540.10 3995.05 541.64 3993.42 543.17 3991.92 544.70 3990.49 546.23 3989.17 547.76 3987.98 549.30 3986.89 550.83 3985.91 552.36 3985.08 553.89 3984.34 555.42 3983.70 556.95 3983.25 558.49 3982.95 560.02 3982.71 561.55 3982.58 563.08 3982.62 564.61 3982.83 566.15 3983.12 567.68 3983.53 569.21 3984.15 570.74 3984.90 572.27 3985.75 573.80 3986.77 575.34 3987.90 576.87 3989.14 578.40 3990.53 579.93 3992.01 581.46 3993.60 583.00 3995.30 584.53 3997.08 586.06 3998.94 587.59 4000.90 589.12 4002.89 590.65 4004.95 592.19 4007.05 593.72 4009.13 595.25 4011.24 596.78 4013.31 598.31 4015.23" stroke="#f00" stroke-dashoffset="0.0"/>
<path d="M598.31 4015.23 599.84 4017.14 601.36 4018.82 602.88 4019.97 604.41 4020.93 605.93 4021.57 607.45 4021.54 608.98 4020.52 610.50 4018.87 612.02 4017.06 613.55 4014.63 615.07 4011.71 616.59 4008.74 618.11 4005.80 619.64 4002.75 621.16 3999.72 622.68 3996.76 624.21 3993.81 625.73 3990.93 627.25 3988.14 628.78 3985.43 630.30 3982.81 631.82 3980.33 633.35 3977.94 634.87 3975.67 636.39 3973.57 637.92 3971.58 639.44 3969.72 640.96 3968.04 642.49 3966.51 644.01 3965.11 645.53 3963.90 647.05 3962.87 648.58 3961.94 650.10 3961.23 651.62 3960.79 653.15 3960.43 654.67 3960.20 656.19 3960.19 657.72 3960.42 659.24 3960.82 660.76 3961.33 662.29 3962.16 663.81 3963.20 665.33 3964.37 666.86 3965.78 668.38 3967.39 669.90 3969.13 671.43 3971.09 672.95 3973.21 674.47 3975.47 676.00 3977.91 677.52 3980.49 679.04 3983.18 680.56 3986.03 682.09 3988.97 683.61 3991.99 685.13 3995.12 686.66 3998.27 688.18 4001.46 689.70 4004.69 691.23 4007.80 692.75 4010.87 694.27 4013.87 695.80 4016.18 697.32 4017.96 698.84 4019.41 700.37 4019.99 701.89 4019.04 703.41 4016.85 704.94 4014.17 706.46 4011.18 707.98 4007.29 709.50 4003.07 711.03 3999.02 712.55 3994.89 714.07 3990.73 715.60 3986.66 717.12 3982.65 718.64 3978.70 720.17 3974.87 721.69 3971.16 723.21 3967.55 724.74 3964.10 726.26 3960.82 727.78 3957.67 729.31 3954.69 730.83 3951.92 732.35 3949.30 733.88 3946.86 735.40 3944.68 736.92 3942.66 738.45 3940.82 739.97 3939.26 741.49 3937.90 743.01 3936.68 744.54 3935.77 746.06 3935.20 747.58 3934.72 749.11 3934.42 750.63 3934.41 752.15 3934.74 753.68 3935.27 755.20 3935.97 756.72 3937.10 758.25 3938.51 759.77 3940.09 761.29 3942.00 762.82 3944.15 764.34 3946.50 765.86 3949.13 767.39 3951.95 768.91 3954.97 770.43 3958.22 771.95 3961.61 773.48 3965.17 775.00 3968.88 776.52 3972.67 778.05 3976.58 779.57 3980.53 781.09 3984.45 782.62 3988.41 784.14 3992.22 785.66 3995.76 787.19 3999.25 788.71 4002.12 790.23 4004.03 791.76 4005.64 793.28 4006.48 794.80 4005.97 796.33 4004.12 797.85 4001.59 799.37 3998.74 800.90 3994.74 802.42 3990.09 803.94 3985.46 805.46 3980.70 806.99 3975.76 808.51 3970.85 810.03 3966.01 811.56 3961.17 813.08 3956.44 814.60 3951.85 816.13 3947.37 817.65 3943.04 819.17 3938.92 820.70 3934.94 822.22 3931.16 823.74 3927.64 825.27 3924.31 826.79 3921.19 828.31 3918.35 829.84 3915.77 831.36 3913.39 832.88 3911.30 834.40 3909.55 835.93 3907.94 837.45 3906.64 838.97 3905.82 840.50 3905.17 842.02 3904.70 843.54 3904.54 845.07 3904.77 846.59 3905.30 848.11 3905.97 849.64 3906.94 851.16 3908.36 852.68 3910.02 854.21 3911.89 855.73 3914.11 857.25 3916.58 858.78 3919.25 860.30 3922.22 861.82 3925.42 863.35 3928.80 864.87 3932.43 866.39 3936.24 867.91 3940.19 869.44 3944.33 870.96 3948.60 872.48 3952.93 874.01 3957.37 875.53 3961.85 877.05 3966.25 878.58 3970.68 880.10 3975.00 881.62 3978.97 883.15 3982.83 884.67 3986.39 886.19 3988.99 887.72 3990.90 889.24 3992.46 890.76 3993.18 892.29 3992.36 893.81 3989.91 895.33 3986.70 896.85 3982.85 898.38 3977.44 899.90 3971.36 901.42 3965.37 902.95 3959.01 904.47 3952.47 905.99 3946.05 907.52 3939.60 909.04 3933.21 910.56 3927.02 912.09 3920.97 913.61 3915.08 915.13 3909.47 916.66 3904.08 918.18 3898.93 919.70 3894.12 921.23 3889.61 922.75 3885.36 924.27 3881.50 925.79 3878.01 927.32 3874.78 928.84 3871.98 930.36 3869.62 931.89 3867.48 933.41 3865.80 934.93 3864.76 936.46 3863.91 937.98 3863.36 939.50 3863.29 941.03 3863.74 942.55 3864.54 944.07 3865.53 945.60 3867.15 947.12 3869.26 948.64 3871.60 950.17 3874.41 951.69 3877.63 953.21 3881.12 954.74 3885.02 956.26 3889.27 957.78 3893.76 959.30 3898.59 960.83 3903.71 962.35 3909.01 963.87 3914.56 965.40 3920.30 966.92 3926.12 968.44 3932.08 969.97 3938.08 971.49 3943.95 973.01 3949.85 974.54 3955.52 976.06 3960.66 977.58 3965.72 979.11 3970.05 980.63 3972.93 982.15 3975.29 983.68 3976.87 985.20 3976.95 986.72 3974.67 988.24 3970.85 989.77 3966.49 991.29 3960.41 992.81 3952.74 994.34 3944.78 995.86 3936.72 997.38 3928.18 998.91 3919.58 1000.43 3911.10 1001.95 3902.58 1003.48 3894.20 1005.00 3886.08 1006.52 3878.11 1008.05 3870.40 1009.57 3863.07 1011.09 3856.00 1012.62 3849.27 1014.14 3843.00 1015.66 3837.08 1017.19 3831.53 1018.71 3826.52 1020.23 3821.94 1021.75 3817.73 1023.28 3814.10 1024.80 3811.01 1026.32 3808.21 1027.85 3806.05 1029.37 3804.70 1030.89 3803.60 1032.42 3802.88 1033.94 3802.80 1035.46 3803.43 1036.99 3804.50 1038.51 3805.86 1040.03 3808.08 1041.56 3810.93 1043.08 3814.09 1044.60 3817.91 1046.13 3822.25 1047.65 3826.95 1049.17 3832.22 1050.69 3837.91 1052.22 3843.93 1053.74 3850.41 1055.26 3857.21 1056.79 3864.24 1058.31 3871.60 1059.83 3879.12 1061.36 3886.72 1062.88 3894.48 1064.40 3902.12 1065.93 3909.61 1067.45 3917.01 1068.97 3923.83 1070.50 3930.13 1072.02 3936.04 1073.54 3940.42 1075.07 3943.42 1076.59 3945.83 1078.11 3946.84 1079.64 3944.92 1081.16 3939.99 1082.68 3933.58 1084.20 3926.17 1085.73 3915.72 1087.25 3903.70 1088.77 3891.76 1090.30 3879.31 1091.82 3866.34 1093.34 3853.43 1094.87 3840.65 1096.39 3827.84 1097.91 3815.27 1099.44 3803.08 1100.96 3791.11 1102.48 3779.52 1104.01 3768.48 1105.53 3757.83 1107.05 3747.63 1108.58 3738.09 1110.10 3729.12 1111.62 3720.62 1113.14 3712.83 1114.67 3705.80 1116.19 3699.24 1117.71 3693.39 1119.24 3688.49 1120.76 3684.02 1122.28 3680.19 1123.81 3677.53 1125.33 3675.69 1126.85 3674.19 1128.38 3673.37 1129.90 3673.57 1131.42 3674.79 1132.95 3676.52 1134.47 3679.21 1135.99 3683.15 1137.52 3687.64 1139.04 3693.09 1140.56 3699.37 1142.09 3706.22 1143.61 3713.93 1145.13 3722.18 1146.65 3730.98 1148.18 3740.35 1149.70 3750.00 1151.22 3760.04 1152.75 3770.25 1154.27 3780.42 1155.79 3790.67 1157.32 3800.51 1158.84 3809.99 1160.36 3818.97 1161.89 3826.75 1163.41 3834.00 1164.93 3839.76 1166.46 3843.30 1167.98 3846.06 1169.50 3847.24 1171.03 3841.74 1172.55 3827.29 1174.07 3807.34 1175.59 3785.33 1177.12 3760.44 1178.64 3728.06 1180.16 3695.65 1181.69 3665.08 1183.21 3634.34 1184.73 3603.83 1186.26 3573.96 1187.78 3545.14 1189.30 3517.76 1190.83 3491.77 1192.35 3466.78 1193.87 3442.38 1195.40 3418.15 1196.92 3393.67 1198.44 3368.53 1199.97 3342.34 1201.49 3315.21 1203.01 3287.62 1204.54 3260.07 1206.06 3233.04 1207.58 3207.03 1209.10 3182.44 1210.63 3158.97 1212.15 3136.44 1213.67 3114.81 1215.20 3093.25 1216.72 3071.87 1218.24 3051.62 1219.77 3033.43 1221.29 3018.26 1222.81 3006.09 1224.34 2994.56 1225.86 2981.25 1227.38 2966.23 1228.91 2950.96 1230.43 2936.73 1231.95 2922.69 1233.48 2909.27 1235.00 2897.60 1236.52 2888.23 1238.04 2879.80 1239.57 2872.38 1241.09 2866.20 1242.61 2861.45 1244.14 2857.18 1245.66 2853.02 1247.18 2849.02 1248.71 2845.23 1250.23 2841.70 1251.75 2838.47 1253.28 2835.61 1254.80 2833.15 1256.32 2831.15 1257.85 2829.66 1259.37 2828.73 1260.89 2828.41" stroke="#f00" stroke-dashoffset="74.9"/>
<path d="M1260.89 2828.41 1262.42 2828.70 1263.94 2829.55 1265.46 2830.92 1266.98 2832.78 1268.51 2835.08 1270.03 2837.79 1271.55 2840.87 1273.07 2844.29 1274.60 2848.00 1276.12 2851.97 1277.64 2856.17 1279.16 2860.55 1280.69 2865.49 1282.21 2872.78 1283.73 2881.76 1285.25 2891.43 1286.78 2901.46 1288.30 2912.73 1289.82 2924.68 1291.35 2936.63 1292.87 2947.96 1294.39 2958.79 1295.91 2969.79 1297.44 2981.67 1298.96 2995.23 1300.48 3010.96 1302.00 3027.45 1303.53 3044.00 1305.05 3060.88 1306.57 3078.33 1308.09 3096.57 1309.62 3115.85 1311.14 3136.87 1312.66 3159.54 1314.19 3182.78 1315.71 3205.70 1317.23 3228.65 1318.75 3251.74 1320.28 3274.97 1321.80 3298.35 1323.32 3321.86 1324.84 3345.52 1326.37 3369.29 1327.89 3392.76 1329.41 3416.05 1330.93 3439.49 1332.46 3463.43 1333.98 3488.17 1335.50 3514.07 1337.02 3541.53 1338.55 3571.30 1340.07 3602.79 1341.59 3635.15 1343.12 3667.53 1344.64 3699.08 1346.16 3732.12 1347.68 3763.86 1349.21 3787.60 1350.73 3808.85 1352.25 3829.74 1353.77 3849.84 1355.30 3868.70 1356.82 3885.89 1358.34 3900.98 1359.86 3913.52 1361.39 3923.08 1362.91 3929.22 1364.43 3931.50 1365.96 3930.60 1367.48 3928.28 1369.00 3925.32 1370.52 3920.58 1372.05 3914.60 1373.57 3908.27 1375.09 3901.08 1376.61 3893.56 1378.14 3885.86 1379.66 3877.93 1381.18 3870.12 1382.70 3862.35 1384.23 3854.78 1385.75 3847.54 1387.27 3840.56 1388.80 3834.05 1390.32 3827.96 1391.84 3822.31 1393.36 3817.31 1394.89 3812.73 1396.41 3808.81 1397.93 3805.56 1399.45 3802.74 1400.98 3800.89 1402.50 3799.65 1404.02 3798.83 1405.54 3798.76 1407.07 3799.24 1408.59 3800.08 1410.11 3801.13 1411.63 3802.39 1413.16 3804.32 1414.68 3806.74 1416.20 3809.41 1417.73 3812.33 1419.25 3815.74 1420.77 3819.55 1422.29 3823.61 1423.82 3827.98 1425.34 3832.77 1426.86 3837.89 1428.38 3843.25 1429.91 3848.92 1431.43 3854.94 1432.95 3861.23 1434.47 3867.72 1436.00 3874.50 1437.52 3881.55 1439.04 3888.79 1440.57 3896.19 1442.09 3903.82 1443.61 3911.63 1445.13 3919.54 1446.66 3927.50 1448.18 3935.66 1449.70 3943.83 1451.22 3951.82 1452.75 3959.80 1454.27 3968.04 1455.79 3975.70 1457.31 3981.90 1458.84 3987.06 1460.36 3991.92 1461.88 3995.48 1463.41 3996.73 1464.93 3996.02 1466.45 3994.52 1467.97 3992.60 1469.50 3989.59 1471.02 3986.08 1472.54 3982.38 1474.06 3978.30 1475.59 3974.17 1477.11 3969.95 1478.63 3965.73 1480.15 3961.61 1481.68 3957.57 1483.20 3953.70 1484.72 3950.00 1486.24 3946.50 1487.77 3943.28 1489.29 3940.27 1490.81 3937.57 1492.34 3935.15 1493.86 3933.00 1495.38 3931.26 1496.90 3929.72 1498.43 3928.60 1499.95 3927.93 1501.47 3927.43 1502.99 3927.30 1504.52 3927.49 1506.04 3927.88 1507.56 3928.38 1509.08 3928.99 1510.61 3929.94 1512.13 3931.13 1513.65 3932.44 1515.18 3933.91 1516.70 3935.63 1518.22 3937.53 1519.74 3939.54 1521.27 3941.77 1522.79 3944.18 1524.31 3946.74 1525.83 3949.43 1527.36 3952.30 1528.88 3955.32 1530.40 3958.45 1531.92 3961.71 1533.45 3965.12 1534.97 3968.62 1536.49 3972.20 1538.01 3975.90 1539.54 3979.68 1541.06 3983.48 1542.58 3987.33 1544.11 3991.25 1545.63 3995.12 1547.15 3998.86 1548.67 4002.74 1550.20 4006.46 1551.72 4009.53 1553.24 4011.90 1554.76 4014.13 1556.29 4015.76 1557.81 4016.27 1559.33 4015.86 1560.85 4015.05 1562.38 4013.99 1563.90 4012.35 1565.42 4010.51 1566.95 4008.53 1568.47 4006.37 1569.99 4004.21 1571.51 4002.00 1573.04 3999.81 1574.56 3997.67 1576.08 3995.58 1577.60 3993.60 1579.13 3991.70 1580.65 3989.93 1582.17 3988.29 1583.69 3986.78 1585.22 3985.44 1586.74 3984.23 1588.26 3983.20 1589.79 3982.36 1591.31 3981.64 1592.83 3981.20 1594.35 3980.89 1595.88 3980.73 1597.40 3980.76 1598.92 3980.91 1600.44 3981.13 1601.97 3981.39 1603.49 3981.76 1605.01 3982.28 1606.53 3982.90 1608.06 3983.55 1609.58 3984.32 1611.10 3985.19 1612.62 3986.14 1614.15 3987.15 1615.67 3988.27 1617.19 3989.47 1618.72 3990.74 1620.24 3992.07 1621.76 3993.49 1623.28 3994.99 1624.81 3996.53 1626.33 3998.14 1627.85 3999.82 1629.37 4001.56 1630.90 4003.33 1632.42 4005.15 1633.94 4007.02 1635.46 4008.92 1636.99 4010.83 1638.51 4012.79 1640.03 4014.75 1641.56 4016.67 1643.08 4018.60 1644.60 4020.58 1646.12 4022.39 1647.65 4023.80 1649.17 4025.06 1650.69 4026.19 1652.21 4026.92 1653.74 4027.04 1655.26 4026.78 1656.78 4026.36 1658.30 4025.81 1659.83 4025.00 1661.35 4024.10 1662.87 4023.15 1664.39 4022.12 1665.92 4021.08 1667.44 4020.03 1668.96 4018.98 1670.49 4017.96 1672.01 4016.96 1673.53 4016.01 1675.05 4015.09 1676.58 4014.22 1678.10 4013.42 1679.62 4012.67 1681.14 4011.98 1682.67 4011.38 1684.19 4010.83 1685.71 4010.36 1687.23 4009.97 1688.76 4009.64 1690.28 4009.44 1691.80 4009.29 1693.33 4009.21 1694.85 4009.22 1696.37 4009.31 1697.89 4009.44 1699.42 4009.61 1700.94 4009.87 1702.46 4010.21 1703.98 4010.58 1705.51 4011.02 1707.03 4011.53 1708.55 4012.08 1710.07 4012.69 1711.60 4013.36 1713.12 4014.08 1714.64 4014.84 1716.17 4015.66 1717.69 4016.52 1719.21 4017.42 1720.73 4018.37 1722.26 4019.36 1723.78 4020.37 1725.30 4021.43 1726.82 4022.51 1728.35 4023.60 1729.87 4024.73 1731.39 4025.86 1732.91 4026.98 1734.44 4028.13 1735.96 4029.28 1737.48 4030.25 1739.00 4031.04 1740.53 4031.77 1742.05 4032.24 1743.57 4032.27 1745.10 4032.14 1746.62 4031.95 1748.14 4031.71 1749.66 4031.36 1751.19 4030.95 1752.71 4030.55 1754.23 4030.10 1755.75 4029.65 1757.28 4029.20 1758.80 4028.74 1760.32 4028.30 1761.84 4027.86 1763.37 4027.43 1764.89 4027.02 1766.41 4026.63 1767.94 4026.26 1769.46 4025.91 1770.98 4025.58 1772.50 4025.28 1774.03 4025.01 1775.55 4024.76 1777.07 4024.54 1778.59 4024.35 1780.12 4024.19 1781.64 4024.06 1783.16 4023.97 1784.68 4023.91 1786.21 4023.87 1787.73 4023.87 1789.25 4023.89 1790.78 4023.93 1792.30 4023.98 1793.82 4024.04 1795.34 4024.13 1796.87 4024.25 1798.39 4024.38 1799.91 4024.51 1801.43 4024.68 1802.96 4024.86 1804.48 4025.05 1806.00 4025.26 1807.52 4025.48 1809.05 4025.73 1810.57 4025.98 1812.09 4026.25 1813.61 4026.53 1815.14 4026.83 1816.66 4027.13 1818.18 4027.44 1819.71 4027.77 1821.23 4028.11 1822.75 4028.45 1824.27 4028.79 1825.80 4029.15 1827.32 4029.50 1828.84 4029.86 1830.36 4030.21 1831.89 4030.57 1833.41 4030.91 1834.93 4031.23 1836.45 4031.55 1837.98 4031.85 1839.50 4032.10 1841.02 4032.28 1842.55 4032.44 1844.07 4032.56 1845.59 4032.63 1847.11 4032.56 1848.64 4032.31 1850.16 4031.99 1851.68 4031.54 1853.20 4030.96 1854.73 4030.38 1856.25 4029.76 1857.77 4029.13 1859.29 4028.52 1860.82 4027.90 1862.34 4027.30 1863.86 4026.71 1865.38 4026.15 1866.91 4025.62 1868.43 4025.11 1869.95 4024.63 1871.48 4024.20 1873.00 4023.79 1874.52 4023.43 1876.04 4023.10 1877.57 4022.81 1879.09 4022.57 1880.61 4022.36 1882.13 4022.20 1883.66 4022.11 1885.18 4022.04 1886.70 4022.01 1888.22 4022.03 1889.75 4022.09 1891.27 4022.16 1892.79 4022.26 1894.32 4022.41 1895.84 4022.59 1897.36 4022.78 1898.88 4023.02 1900.41 4023.28 1901.93 4023.57 1903.45 4023.88 1904.97 4024.23 1906.50 4024.59 1908.02 4024.98 1909.54 4025.40 1911.06 4025.83 1912.59 4026.28 1914.11 4026.76 1915.63 4027.24 1917.16 4027.74 1918.68 4028.26 1920.20 4028.77 1921.72 4029.29 1923.25 4029.82 1924.77 4030.33 1926.29 4030.81 1927.81 4031.31 1929.34 4031.75 1930.86 4032.07 1932.38 4032.34 1933.90 4032.54 1935.43 4032.63 1936.95 4032.43 1938.47 4031.94 1939.99 4031.36 1941.52 4030.67 1943.04 4029.79 1944.56 4028.87 1946.09 4027.98 1947.61 4027.07 1949.13 4026.17 1950.65 4025.28 1952.18 4024.41 1953.70 4023.56 1955.22 4022.74 1956.74 4021.94 1958.27 4021.18 1959.79 4020.45 1961.31 4019.76 1962.83 4019.11 1964.36 4018.50 1965.88 4017.93 1967.40 4017.41 1968.93 4016.94 1970.45 4016.51 1971.97 4016.13 1973.49 4015.81 1975.02 4015.52 1976.54 4015.29 1978.06 4015.14 1979.58 4015.03 1981.11 4014.95 1982.63 4014.94 1984.15 4015.00 1985.67 4015.11 1987.20 4015.27 1988.72 4015.52 1990.24 4015.83 1991.77 4016.19 1993.29 4016.63 1994.81 4017.11 1996.33 4017.65 1997.86 4018.24 1999.38 4018.88 2000.90 4019.57 2002.42 4020.29 2003.95 4021.05 2005.47 4021.85 2006.99 4022.66 2008.51 4023.50 2010.04 4024.35 2011.56 4025.18 2013.08 4026.01 2014.60 4026.78 2016.13 4027.52 2017.65 4028.19 2019.17 4028.65 2020.70 4029.00 2022.22 4029.23 2023.74 4029.23 2025.26 4029.08 2026.79 4028.82 2028.31 4028.53 2029.83 4028.16 2031.35 4027.65 2032.88 4027.07 2034.40 4026.49 2035.92 4025.88 2037.44 4025.23 2038.97 4024.57 2040.49 4023.92 2042.01 4023.26 2043.54 4022.60 2045.06 4021.96 2046.58 4021.33 2048.10 4020.70 2049.63 4020.10 2051.15 4019.52 2052.67 4018.96 2054.19 4018.42 2055.72 4017.91 2057.24 4017.42 2058.76 4016.96 2060.28 4016.54 2061.81 4016.15 2063.33 4015.78 2064.85 4015.45 2066.37 4015.15 2067.90 4014.90 2069.42 4014.67 2070.94 4014.47 2072.47 4014.33 2073.99 4014.23 2075.51 4014.15 2077.03 4014.10 2078.56 4014.10 2080.08 4014.15 2081.60 4014.24 2083.12 4014.35 2084.65 4014.52 2086.17 4014.76 2087.69 4015.03 2089.21 4015.33 2090.74 4015.69 2092.26 4016.09 2093.78 4016.52 2095.31 4017.00 2096.83 4017.52 2098.35 4018.06 2099.87 4018.65 2101.40 4019.27 2102.92 4019.92 2104.44 4020.60 2105.96 4021.31 2107.49 4022.04 2109.01 4022.79 2110.53 4023.56 2112.05 4024.35 2113.58 4025.13 2115.10 4025.93 2116.62 4026.73 2118.15 4027.50 2119.67 4028.24 2121.19 4028.99 2122.71 4029.65 2124.24 4030.11 2125.76 4030.52 2127.28 4030.83 2128.80 4030.94 2130.33 4030.72 2131.85 4030.23 2133.37 4029.65 2134.89 4028.82 2136.42 4027.84 2137.94 4026.87 2139.46 4025.85 2140.98 4024.82 2142.51 4023.81 2144.03 4022.80 2145.55 4021.83 2147.08 4020.88 2148.60 4019.97 2150.12 4019.11 2151.64 4018.29 2153.17 4017.53 2154.69 4016.82 2156.21 4016.16 2157.73 4015.57 2159.26 4015.04 2160.78 4014.57 2162.30 4014.19 2163.82 4013.85 2165.35 4013.58 2166.87 4013.43 2168.39 4013.30 2169.92 4013.25 2171.44 4013.26 2172.96 4013.32 2174.48 4013.39 2176.01 4013.47 2177.53 4013.61 2179.05 4013.78 2180.57 4013.97 2182.10 4014.19 2183.62 4014.44 2185.14 4014.71 2186.66 4015.00 2188.19 4015.33 2189.71 4015.67 2191.23 4016.03 2192.76 4016.40 2194.28 4016.80 2195.80 4017.20 2197.32 4017.61 2198.85 4018.03 2200.37 4018.46 2201.89 4018.88 2203.41 4019.30 2204.94 4019.72 2206.46 4020.12 2207.98 4020.50 2209.50 4020.87 2211.03 4021.22 2212.55 4021.51 2214.07 4021.80 2215.59 4022.05 2217.12 4022.22 2218.64 4022.35 2220.16 4022.45 2221.69 4022.51 2223.21 4022.45 2224.73 4022.14 2226.25 4021.71 2227.78 4021.03 2229.30 4020.14 2230.82 4019.19 2232.34 4018.10 2233.87 4016.98 2235.39 4015.82 2236.91 4014.65 2238.43 4013.50 2239.96 4012.36 2241.48 4011.26 2243.00 4010.21 2244.53 4009.22 2246.05 4008.31 2247.57 4007.45 2249.09 4006.70 2250.62 4006.01 2252.14 4005.42 2253.66 4004.94 2255.18 4004.53 2256.71 4004.27 2258.23 4004.09 2259.75 4003.98 2261.27 4004.00 2262.80 4004.08 2264.32 4004.22 2265.84 4004.37 2267.36 4004.61 2268.89 4004.93 2270.41 4005.30 2271.93 4005.70 2273.46 4006.18 2274.98 4006.72 2276.50 4007.29 2278.02 4007.92 2279.55 4008.60 2281.07 4009.33 2282.59 4010.10 2284.11 4010.92 2285.64 4011.78 2287.16 4012.67 2288.68 4013.59" stroke="#f00" stroke-dashoffset="37.1"/>
<path d="M2288.68 4013.59 2290.21 4014.56 2291.74 4015.56 2293.27 4016.57 2294.79 4017.61 2296.32 4018.66 2297.85 4019.71 2299.38 4020.77 2300.91 4021.83 2302.43 4022.84 2303.96 4023.81 2305.49 4024.78 2307.02 4025.66 2308.55 4026.31 2310.08 4026.83 2311.60 4027.27 2313.13 4027.54 2314.66 4027.51 2316.19 4027.16 2317.72 4026.65 2319.24 4025.91 2320.77 4024.93 2322.30 4023.91 2323.83 4022.79 2325.36 4021.64 2326.88 4020.49 2328.41 4019.33 2329.94 4018.20 2331.47 4017.10 2333.00 4016.05 2334.53 4015.05 2336.05 4014.11 2337.58 4013.24 2339.11 4012.43 2340.64 4011.71 2342.17 4011.07 2343.69 4010.50 2345.22 4010.04 2346.75 4009.63 2348.28 4009.35 2349.81 4009.18 2351.33 4009.06 2352.86 4009.04 2354.39 4009.09 2355.92 4009.18 2357.45 4009.30 2358.97 4009.43 2360.50 4009.64 2362.03 4009.90 2363.56 4010.20 2365.09 4010.52 2366.62 4010.89 2368.14 4011.31 2369.67 4011.76 2371.20 4012.24 2372.73 4012.76 2374.26 4013.33 2375.78 4013.92 2377.31 4014.54 2378.84 4015.21 2380.37 4015.90 2381.90 4016.62 2383.42 4017.36 2384.95 4018.14 2386.48 4018.94 2388.01 4019.75 2389.54 4020.59 2391.06 4021.45 2392.59 4022.32 2394.12 4023.20 2395.65 4024.09 2397.18 4024.99 2398.71 4025.87 2400.23 4026.72 2401.76 4027.61 2403.29 4028.46 2404.82 4029.19 2406.35 4029.74 2407.87 4030.26 2409.40 4030.69 2410.93 4030.92 2412.46 4030.87 2413.99 4030.54 2415.51 4030.07 2417.04 4029.51 2418.57 4028.73 2420.10 4027.86 2421.63 4027.01 2423.16 4026.10 2424.68 4025.19 2426.21 4024.29 2427.74 4023.40 2429.27 4022.53 2430.80 4021.68 2432.32 4020.86 2433.85 4020.08 2435.38 4019.33 2436.91 4018.62 2438.44 4017.96 2439.96 4017.34 2441.49 4016.77 2443.02 4016.26 2444.55 4015.79 2446.08 4015.37 2447.60 4015.02 2449.13 4014.71 2450.66 4014.46 2452.19 4014.30 2453.72 4014.18 2455.25 4014.10 2456.77 4014.09 2458.30 4014.14 2459.83 4014.22 2461.36 4014.32 2462.89 4014.44 2464.41 4014.63 2465.94 4014.86 2467.47 4015.11 2469.00 4015.39 2470.53 4015.72 2472.05 4016.08 2473.58 4016.47 2475.11 4016.89 2476.64 4017.35 2478.17 4017.84 2479.70 4018.35 2481.22 4018.89 2482.75 4019.47 2484.28 4020.06 2485.81 4020.67 2487.34 4021.32 2488.86 4021.98 2490.39 4022.65 2491.92 4023.34 2493.45 4024.05 2494.98 4024.76 2496.50 4025.47 2498.03 4026.19 2499.56 4026.91 2501.09 4027.60 2502.62 4028.27 2504.14 4028.95 2505.67 4029.55 2507.20 4030.00 2508.73 4030.38 2510.26 4030.71 2511.79 4030.91 2513.31 4030.88 2514.84 4030.45 2516.37 4029.83 2517.90 4028.96 2519.43 4027.86 2520.95 4026.76 2522.48 4025.60 2524.01 4024.44 2525.54 4023.29 2527.07 4022.17 2528.59 4021.09 2530.12 4020.04 2531.65 4019.06 2533.18 4018.14 2534.71 4017.28 2536.23 4016.49 2537.76 4015.77 2539.29 4015.14 2540.82 4014.57 2542.35 4014.11 2543.88 4013.72 2545.40 4013.41 2546.93 4013.24 2548.46 4013.11 2549.99 4013.08 2551.52 4013.14 2553.04 4013.24 2554.57 4013.37 2556.10 4013.58 2557.63 4013.86 2559.16 4014.18 2560.68 4014.55 2562.21 4014.99 2563.74 4015.47 2565.27 4016.00 2566.80 4016.58 2568.33 4017.20 2569.85 4017.87 2571.38 4018.58 2572.91 4019.33 2574.44 4020.11 2575.97 4020.94 2577.49 4021.78 2579.02 4022.65 2580.55 4023.55 2582.08 4024.46 2583.61 4025.37 2585.13 4026.29 2586.66 4027.19 2588.19 4028.05 2589.72 4028.92 2591.25 4029.65 2592.77 4030.17 2594.30 4030.63 2595.83 4030.91 2597.36 4030.89 2598.89 4030.57 2600.42 4030.09 2601.94 4029.56 2603.47 4028.79 2605.00 4027.91 2606.53 4027.04 2608.06 4026.13 2609.58 4025.20 2611.11 4024.29 2612.64 4023.38 2614.17 4022.49 2615.70 4021.62 2617.22 4020.77 2618.75 4019.95 2620.28 4019.18 2621.81 4018.43 2623.34 4017.72 2624.86 4017.07 2626.39 4016.45 2627.92 4015.87 2629.45 4015.36 2630.98 4014.88 2632.51 4014.46 2634.03 4014.10 2635.56 4013.79 2637.09 4013.52 2638.62 4013.34 2640.15 4013.21 2641.67 4013.12 2643.20 4013.08 2644.73 4013.11 2646.26 4013.19 2647.79 4013.30 2649.31 4013.44 2650.84 4013.65 2652.37 4013.91 2653.90 4014.21 2655.43 4014.54 2656.96 4014.93 2658.48 4015.36 2660.01 4015.82 2661.54 4016.33 2663.07 4016.88 2664.60 4017.46 2666.12 4018.08 2667.65 4018.75 2669.18 4019.44 2670.71 4020.16 2672.24 4020.92 2673.76 4021.72 2675.29 4022.53 2676.82 4023.38 2678.35 4024.25 2679.88 4025.15 2681.40 4026.06 2682.93 4027.00 2684.46 4027.95 2685.99 4028.92 2687.52 4029.90 2689.05 4030.90 2690.57 4031.91 2692.10 4032.92 2693.63 4033.94 2695.16 4034.97 2696.69 4036.00" stroke="#f00" stroke-dashoffset="38.2"/>
</g></g>
<rect x="1480.7" y="2350.5" width="870.1" height="246.5" fill="#fff" stroke="#000" stroke-width="3.2"/>
<circle cx="1539.9" cy="2385.7" r="11.2" fill="#515151"/>
<path d="M1485.9 2444.5H1595.2" stroke="#000" stroke-width="10.9"/>
<path d="M1485.9 2504.2H1595.2" stroke="#000" stroke-width="10.9" stroke-dasharray="34.7 44.2"/>
<path d="M1485.9 2564.0H1595.2" stroke="#f00" stroke-width="10.9" stroke-dasharray="34.7 44.2"/>
<text><tspan x="1605.26" y="2401.20" font-size="49.00" textLength="550.71" lengthAdjust="spacingAndGlyphs">experiment data from Davies</tspan><tspan x="2152.61" y="2398.30" font-size="40.10" textLength="46.30" lengthAdjust="spacingAndGlyphs">（</tspan><tspan x="2205.03" y="2401.20" font-size="49.00" textLength="91.93" lengthAdjust="spacingAndGlyphs">1984</tspan><tspan x="2301.79" y="2398.30" font-size="40.10" textLength="49.73" lengthAdjust="spacingAndGlyphs">）</tspan></text>
<text><tspan x="1606.24" y="2461.00" font-size="49.00" textLength="264.20" lengthAdjust="spacingAndGlyphs">present model</tspan></text>
<text><tspan x="1605.71" y="2521.20" font-size="49.00" textLength="99.00" lengthAdjust="spacingAndGlyphs">MSE</tspan></text>
<text><tspan x="1605.70" y="2580.40" font-size="49.00" textLength="91.86" lengthAdjust="spacingAndGlyphs">Mile</tspan><tspan x="1691.51" y="2577.50" font-size="40.10" textLength="46.30" lengthAdjust="spacingAndGlyphs">（</tspan><tspan x="1743.90" y="2580.40" font-size="49.00" textLength="92.82" lengthAdjust="spacingAndGlyphs">1998</tspan><tspan x="1840.82" y="2577.50" font-size="40.10" textLength="47.67" lengthAdjust="spacingAndGlyphs">）</tspan></text>
<path d="M249.9 2350.5H2393.1" stroke="#000" stroke-width="7.0" fill="none"/>
<text transform="scale(0.955,1)" x="127.42 165.11 201.17" y="4063.4" font-size="73.41">0.0</text>
<text transform="scale(0.955,1)" x="127.42 165.11 201.68" y="3726.4" font-size="73.41">0.2</text>
<text transform="scale(0.955,1)" x="127.42 165.11 201.17" y="3389.4" font-size="73.41">0.4</text>
<text transform="scale(0.955,1)" x="127.42 165.11 200.66" y="3052.5" font-size="73.41">0.6</text>
<text transform="scale(0.955,1)" x="127.42 165.11 201.17" y="2715.5" font-size="73.41">0.8</text>
<text transform="scale(0.955,1)" x="127.45 165.11 201.17" y="2378.5" font-size="73.41">1.0</text>
<text transform="scale(0.955,1)" x="241.63 279.32 315.38" y="4152.0" font-size="73.41">0.0</text>
<text transform="scale(0.955,1)" x="676.40 714.09 749.64" y="4152.0" font-size="73.41">0.5</text>
<text transform="scale(0.955,1)" x="1111.19 1148.85 1184.91" y="4152.0" font-size="73.41">1.0</text>
<text transform="scale(0.955,1)" x="1545.95 1583.61 1619.17" y="4152.0" font-size="73.41">1.5</text>
<text transform="scale(0.955,1)" x="1981.20 2018.38 2054.44" y="4152.0" font-size="73.41">2.0</text>
<text transform="scale(0.955,1)" x="2415.96 2453.14 2488.69" y="4152.0" font-size="73.41">2.5</text>
<text x="1241.23" y="4271.90" font-size="80.00" textLength="158.66" lengthAdjust="spacingAndGlyphs">2k/K</text>
<text transform="translate(84.00 3525.09) rotate(-90)" x="0" y="0" font-size="80.00" textLength="662.92" lengthAdjust="spacingAndGlyphs">reflection coefficient</text>
<text><tspan x="1285.52" y="4454.30" font-size="84.30" textLength="26.07" lengthAdjust="spacingAndGlyphs">(</tspan><tspan x="1313.01" y="4454.30" font-size="88.00" font-weight="bold" textLength="35.84" lengthAdjust="spacingAndGlyphs">c</tspan><tspan x="1349.50" y="4454.30" font-size="84.30" textLength="25.94" lengthAdjust="spacingAndGlyphs">)</tspan></text>
</g>
</svg>
</body>
</html>
